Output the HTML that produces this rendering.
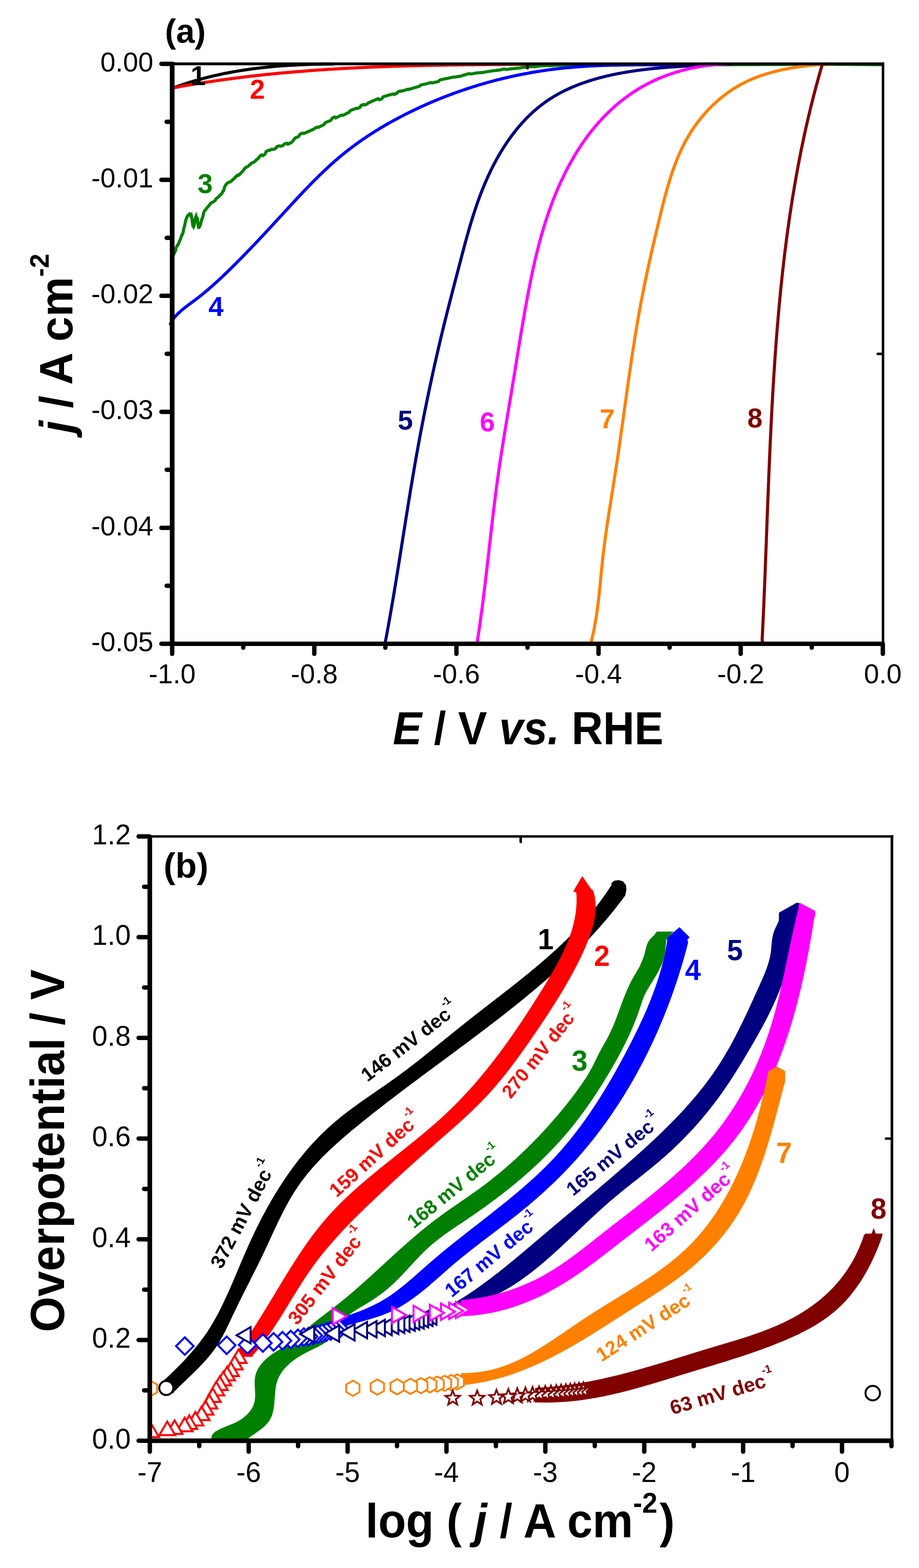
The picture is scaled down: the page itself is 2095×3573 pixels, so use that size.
<!DOCTYPE html>
<html><head><meta charset="utf-8"><title>Figure</title>
<style>html,body{margin:0;padding:0;background:#fff;}svg{display:block;}</style>
</head><body>
<svg width="2095" height="3573" viewBox="0 0 2095 3573">
<rect width="2095" height="3573" fill="#fff"/>
<g font-family="'Liberation Sans', Arial, sans-serif" font-size="62" fill="#000">
<text transform="translate(349.4,162.5) scale(1,1.03)" text-anchor="end">0.00</text>
<text transform="translate(349.4,426.8) scale(1,1.03)" text-anchor="end">-0.01</text>
<text transform="translate(349.4,691.1) scale(1,1.03)" text-anchor="end">-0.02</text>
<text transform="translate(349.4,955.4) scale(1,1.03)" text-anchor="end">-0.03</text>
<text transform="translate(349.4,1219.7) scale(1,1.03)" text-anchor="end">-0.04</text>
<text transform="translate(349.4,1484) scale(1,1.03)" text-anchor="end">-0.05</text>
<text transform="translate(392.5,1557.4) scale(1,1.03)" text-anchor="middle">-1.0</text>
<text transform="translate(716.5,1557.4) scale(1,1.03)" text-anchor="middle">-0.8</text>
<text transform="translate(1040.5,1557.4) scale(1,1.03)" text-anchor="middle">-0.6</text>
<text transform="translate(1364.5,1557.4) scale(1,1.03)" text-anchor="middle">-0.4</text>
<text transform="translate(1688.5,1557.4) scale(1,1.03)" text-anchor="middle">-0.2</text>
<text transform="translate(2012.5,1557.4) scale(1,1.03)" text-anchor="middle">0.0</text>
</g>
<text transform="translate(895.5,1695.9) scale(1,1.06)" font-family="'Liberation Sans', Arial, sans-serif" font-size="99.1" font-weight="bold" fill="#000"><tspan font-style="italic">E</tspan> / V <tspan font-style="italic">vs.</tspan> RHE</text>
<text transform="translate(165.1,986.9) rotate(-90) scale(1,1.03)" font-family="'Liberation Sans', Arial, sans-serif" font-size="102.3" font-weight="bold" fill="#000"><tspan font-style="italic">j</tspan> / A cm<tspan font-size="59.3" dy="-52.5">-2</tspan></text>
<text x="376.1" y="96.5" font-family="'Liberation Sans', Arial, sans-serif" font-size="76" font-weight="bold" fill="#000">(a)</text>
<g fill="none" stroke-width="7" stroke-linejoin="round" stroke-linecap="butt">
<path stroke="#000000" d="M392,205 L393.6,201 L396.4,199.9 L399.2,198.9 L402,197.9 L404.9,196.8 L407.7,195.8 L410.6,194.8 L413.4,193.9 L416.3,192.9 L419.1,191.9 L422,191 L424.9,190 L427.7,189.1 L430.6,188.2 L433.5,187.3 L436.4,186.4 L439.3,185.6 L442.2,184.7 L445.1,183.8 L448,183 L450.9,182.2 L453.8,181.4 L456.7,180.6 L459.6,179.8 L462.5,179 L465.4,178.2 L468.3,177.5 L471.3,176.7 L474.2,176 L477.1,175.2 L480.1,174.5 L483,173.8 L486,173.1 L488.9,172.4 L491.9,171.8 L494.8,171.1 L497.8,170.5 L500.7,169.8 L503.7,169.2 L506.6,168.6 L509.6,167.9 L512.6,167.3 L515.5,166.8 L518.5,166.2 L521.5,165.6 L524.5,165 L527.5,164.5 L530.4,163.9 L533.4,163.4 L536.4,162.9 L539.4,162.4 L542.4,161.9 L545.4,161.4 L548.4,160.9 L551.4,160.4 L554.4,160 L557.4,159.5 L560.4,159 L563.4,158.6 L566.4,158.2 L569.4,157.8 L572.4,157.3 L575.4,156.9 L578.4,156.5 L581.4,156.2 L584.5,155.8 L587.5,155.4 L590.5,155 L593.5,154.7 L596.5,154.3 L599.5,154 L602.6,153.7 L605.6,153.4 L608.6,153 L611.6,152.7 L614.7,152.4 L617.7,152.2 L620.7,151.9 L623.7,151.6 L626.8,151.3 L629.8,151.1 L632.8,150.8 L635.9,150.6 L638.9,150.3 L641.9,150.1 L644.9,149.9 L648,149.7 L651,149.5 L654,149.3 L657.1,149.1 L660.1,148.9 L663.1,148.7 L666.2,148.5 L669.2,148.4 L672.2,148.2 L675.2,148 L678.3,147.9 L681.3,147.7 L684.3,147.6 L687.4,147.5 L690.4,147.4 L693.4,147.2 L696.4,147.1 L699.5,147 L702.5,146.9 L705.5,146.8 L708.5,146.7 L711.6,146.6 L714.6,146.6 L717.6,146.5 L720.6,146.4 L723.6,146.4 L726.7,146.3 L729.7,146.3 L732.7,146.2 L735.7,146.2 L738.7,146.1 L741.7,146.1 L744.7,146.1 L747.7,146.1 L750.7,146.1 L753.8,146 L756.8,146 L760,146 "/>
<path stroke="#FF0000" d="M392,200.9 L394.8,200.2 L397.8,199.6 L400.7,199.1 L403.7,198.5 L406.7,198 L409.7,197.4 L412.7,196.9 L415.6,196.4 L418.6,195.8 L421.6,195.3 L424.6,194.8 L427.5,194.3 L430.5,193.8 L433.5,193.3 L436.5,192.8 L439.5,192.3 L442.4,191.8 L445.4,191.3 L448.4,190.8 L451.4,190.3 L454.4,189.8 L457.4,189.4 L460.3,188.9 L463.3,188.4 L466.3,188 L469.3,187.5 L472.3,187 L475.3,186.6 L478.2,186.1 L481.2,185.7 L484.2,185.2 L487.2,184.8 L490.2,184.4 L493.2,183.9 L496.2,183.5 L499.2,183.1 L502.1,182.6 L505.1,182.2 L508.1,181.8 L511.1,181.4 L514.1,181 L517.1,180.6 L520.1,180.2 L523.1,179.8 L526.1,179.4 L529.1,179 L532,178.6 L535,178.2 L538,177.8 L541,177.4 L544,177 L547,176.7 L550,176.3 L553,175.9 L556,175.6 L559,175.2 L562,174.8 L565,174.5 L568,174.1 L571,173.8 L574,173.4 L577,173.1 L579.9,172.8 L582.9,172.4 L585.9,172.1 L588.9,171.8 L591.9,171.4 L594.9,171.1 L597.9,170.8 L600.9,170.5 L603.9,170.1 L606.9,169.8 L609.9,169.5 L612.9,169.2 L615.9,168.9 L618.9,168.6 L621.9,168.3 L624.9,168 L627.9,167.7 L630.9,167.4 L633.9,167.1 L636.9,166.9 L639.9,166.6 L642.9,166.3 L645.9,166 L648.9,165.7 L651.9,165.5 L654.9,165.2 L657.9,164.9 L661,164.7 L664,164.4 L667,164.1 L670,163.9 L673,163.6 L676,163.4 L679,163.1 L682,162.9 L685,162.7 L688,162.4 L691,162.2 L694,161.9 L697,161.7 L700,161.5 L703,161.2 L706,161 L709,160.8 L712,160.6 L715,160.4 L718.1,160.1 L721.1,159.9 L724.1,159.7 L727.1,159.5 L730.1,159.3 L733.1,159.1 L736.1,158.9 L739.1,158.7 L742.1,158.5 L745.1,158.3 L748.1,158.1 L751.1,157.9 L754.2,157.7 L757.2,157.6 L760.2,157.4 L763.2,157.2 L766.2,157 L769.2,156.8 L772.2,156.7 L775.2,156.5 L778.2,156.3 L781.3,156.1 L784.3,156 L787.3,155.8 L790.3,155.6 L793.3,155.5 L796.3,155.3 L799.3,155.2 L802.3,155 L805.3,154.9 L808.4,154.7 L811.4,154.6 L814.4,154.4 L817.4,154.3 L820.4,154.1 L823.4,154 L826.4,153.9 L829.5,153.7 L832.5,153.6 L835.5,153.4 L838.5,153.3 L841.5,153.2 L844.5,153.1 L847.5,152.9 L850.6,152.8 L853.6,152.7 L856.6,152.6 L859.6,152.4 L862.6,152.3 L865.6,152.2 L868.6,152.1 L871.7,152 L874.7,151.9 L877.7,151.8 L880.7,151.7 L883.7,151.5 L886.7,151.4 L889.7,151.3 L892.8,151.2 L895.8,151.1 L898.8,151 L901.8,150.9 L904.8,150.8 L907.8,150.8 L910.9,150.7 L913.9,150.6 L916.9,150.5 L919.9,150.4 L922.9,150.3 L925.9,150.2 L929,150.1 L932,150.1 L935,150 L938,149.9 L941,149.8 L944,149.7 L947.1,149.7 L950.1,149.6 L953.1,149.5 L956.1,149.4 L959.1,149.4 L962.1,149.3 L965.2,149.2 L968.2,149.2 L971.2,149.1 L974.2,149 L977.2,149 L980.2,148.9 L983.3,148.9 L986.3,148.8 L989.3,148.7 L992.3,148.7 L995.3,148.6 L998.4,148.6 L1001.4,148.5 L1004.4,148.5 L1007.4,148.4 L1010.4,148.4 L1013.4,148.3 L1016.5,148.3 L1019.5,148.2 L1022.5,148.2 L1025.5,148.1 L1028.5,148.1 L1031.5,148 L1034.6,148 L1037.6,147.9 L1040.6,147.9 L1043.6,147.9 L1046.6,147.8 L1049.7,147.8 L1052.7,147.7 L1055.7,147.7 L1058.7,147.7 L1061.7,147.6 L1064.7,147.6 L1067.8,147.6 L1070.8,147.5 L1073.8,147.5 L1076.8,147.5 L1079.8,147.4 L1082.8,147.4 L1085.9,147.4 L1088.9,147.3 L1091.9,147.3 L1094.9,147.3 L1097.9,147.2 L1101,147.2 L1104,147.2 L1107,147.2 L1110,147.1 L1113,147.1 L1116,147.1 L1119.1,147.1 L1122.1,147 L1125.1,147 L1128.1,147 L1131.1,147 L1134.1,147 L1137.2,146.9 L1140.2,146.9 L1143.2,146.9 L1146.2,146.9 L1149.2,146.8 L1152.2,146.8 L1155.3,146.8 L1158.3,146.8 L1161.3,146.8 L1164.3,146.8 L1167.3,146.7 L1170.3,146.7 L1173.3,146.7 L1176.4,146.7 L1179.4,146.7 L1182.4,146.6 L1185.4,146.6 L1188.4,146.6 L1191.4,146.6 L1194.5,146.6 L1197.5,146.6 L1200.5,146.5 L1203.5,146.5 L1206.5,146.5 L1209.5,146.5 L1212.5,146.5 L1215.6,146.5 L1218.6,146.5 L1221.6,146.4 L1224.6,146.4 L1227.6,146.4 L1230.6,146.4 L1233.6,146.4 L1236.6,146.4 L1239.7,146.3 L1242.7,146.3 L1245.7,146.3 L1248.7,146.3 L1251.7,146.3 L1254.7,146.3 L1257.7,146.2 L1260.8,146.2 L1263.8,146.2 L1266.8,146.2 L1269.8,146.2 L1272.8,146.2 L1275.8,146.1 L1278.8,146.1 L1281.8,146.1 L1284.8,146.1 L1287.9,146.1 L1290.9,146.1 L1293.9,146 L1296.9,146 L1300,146 "/>
<path stroke="#008000" stroke-linejoin="miter" d="M393.4,592.8 L393.7,588.9 L394.4,585.9 L395.1,582.1 L396,579.2 L397,576.4 L398,576.2 L399.1,573.4 L400.2,570.7 L401.4,564.9 L402.6,562.2 L403.9,559.5 L405.1,559.2 L406.4,556.5 L407.7,553.8 L408.9,550.2 L410.2,547.5 L411.4,544.8 L412.6,540.5 L413.7,537.7 L414.8,534.9 L415.8,534.5 L416.7,531.6 L417.6,528.7 L418.4,523.4 L419.1,520.4 L419.7,517.4 L420.4,516.5 L421,513.5 L421.7,510.5 L422.5,505.6 L423.3,502.6 L424.3,499.6 L425.4,496.7 L426.6,493.9 L428,491.1 L429.5,490.5 L430.9,488.7 L432.2,487.6 L433.5,489.6 L434.5,490.5 L435.4,492.2 L436.1,491.1 L436.8,494.2 L437.4,497.7 L437.9,502 L438.4,505.6 L438.9,508.8 L439.4,513.5 L439.9,515.1 L440.5,515.7 L441.2,516.8 L441.8,515.4 L442.6,513.2 L443.3,508.3 L444,504.9 L444.7,501.5 L445.4,497.4 L446.1,494.8 L446.8,493.1 L447.4,495.5 L448,496 L448.7,497.4 L449.2,494.8 L449.8,497.8 L450.4,501.4 L451,509.3 L451.6,512.8 L452.2,516 L452.8,515.5 L453.4,517 L454,517.7 L454.7,516.9 L455.3,516.2 L455.9,514.8 L456.6,512.8 L457.2,510.4 L457.9,507.6 L458.6,505.6 L459.3,502.3 L460.2,498.9 L461,498.1 L462,494.7 L463.1,491.4 L464.2,485 L465.5,482.1 L466.8,479.3 L468.2,478.8 L469.8,476.3 L471.4,474 L473.2,472.1 L475,470 L476.9,468 L479,464.7 L481.1,462.9 L483.3,461.2 L485.7,460.4 L488,458.7 L490.4,457 L492.8,452.7 L495.2,450.9 L497.5,449.1 L499.6,447.1 L501.7,445.1 L503.6,442.9 L505.4,441.3 L506.9,438.7 L508.1,435.9 L509.2,435.4 L510.2,432.4 L511.2,429.5 L512.3,425.4 L513.7,422.9 L515.3,420.7 L517.2,418.3 L519.4,416.6 L521.6,415.1 L523.9,415 L526.2,413.4 L528.4,411.7 L530.6,409.3 L532.8,407.5 L535,405.7 L537.1,403 L539.3,401.1 L541.4,399.1 L543.6,399.7 L545.8,397.7 L547.9,395.7 L550.1,393.2 L552.3,391.2 L554.5,389.2 L556.7,384.9 L559,382.9 L561.2,380.9 L563.5,380.6 L565.7,378.7 L568,376.7 L570.3,374.5 L572.6,372.6 L575,370.7 L577.3,370.6 L579.7,368.7 L582,366.8 L584.4,364.2 L586.8,362.4 L589.2,360.6 L591.7,356.5 L594.1,354.7 L596.6,353 L599.1,354.8 L601.6,353.2 L604.1,351.5 L606.6,345.5 L609.2,343.9 L611.8,342.5 L614.5,342.6 L617.1,341.3 L619.9,340 L622.6,340.6 L625.4,339.5 L628.2,338.4 L631,334.3 L633.9,333.3 L636.7,332.4 L639.6,333.3 L642.4,332.4 L645.3,331.5 L648.1,328.3 L650.8,327.4 L653.6,326.5 L656.2,328.7 L658.8,327.5 L661.3,326.1 L663.6,325 L665.8,323.1 L667.9,321 L669.9,317.8 L672,315.7 L674.2,313.6 L676.4,313.3 L678.8,311.6 L681.4,310.1 L684,305.7 L686.7,304.5 L689.4,303.3 L692.2,304.2 L695.1,303.1 L697.9,302.1 L700.8,300.5 L703.6,299.4 L706.4,298.2 L709.2,296.9 L711.9,295.7 L714.7,294.4 L717.4,292.5 L720.1,291.1 L722.8,289.7 L725.5,290.3 L728.1,288.9 L730.8,287.5 L733.4,286.6 L736.1,285.2 L738.7,283.7 L741.3,279.8 L744,278.4 L746.6,277 L749.3,276.5 L751.9,275.1 L754.6,273.8 L757.3,269.3 L759.9,267.9 L762.6,266.6 L765.3,268.7 L768.1,267.4 L770.8,266.2 L773.5,264.6 L776.2,263.4 L779,262.2 L781.7,262.8 L784.5,261.6 L787.2,260.4 L790,258.4 L792.7,257.2 L795.5,256.1 L798.3,252.1 L801,251 L803.8,249.8 L806.6,249.2 L809.3,248.1 L812.1,246.9 L814.9,247.2 L817.6,246.1 L820.4,244.9 L823.2,240.4 L825.9,239.3 L828.7,238.1 L831.5,239.3 L834.2,238.1 L837,237 L839.8,234.3 L842.5,233.2 L845.3,232 L848.1,230.6 L850.9,229.5 L853.7,228.4 L856.5,227 L859.2,225.9 L862,224.8 L864.8,227.4 L867.6,226.3 L870.4,225.2 L873.2,220.9 L876.1,219.8 L878.9,218.8 L881.7,218.3 L884.5,217.3 L887.3,216.3 L890.2,216 L893,215 L895.8,214 L898.7,215.5 L901.5,213.8 L904.3,212.8 L907.2,209.3 L910,208.4 L912.9,207.4 L915.7,207.7 L918.6,206.8 L921.5,205.8 L924.3,205.2 L927.2,204.3 L930.1,203.4 L932.9,203.6 L935.8,202.7 L938.7,201.9 L941.6,200.8 L944.5,199.9 L947.4,199.1 L950.2,198.4 L953.1,197.5 L956,196.7 L958.9,194 L961.8,193.2 L964.7,192.4 L967.6,192.1 L970.5,191.3 L973.4,190.5 L976.4,189.5 L979.3,188.8 L982.2,188 L985.1,189 L988,188.2 L990.9,187.5 L993.9,187 L996.8,186.3 L999.7,185.6 L1002.6,182.3 L1005.6,181.6 L1008.5,180.9 L1011.4,180.3 L1014.4,179.7 L1017.3,179 L1020.2,178.5 L1023.2,177.9 L1026.1,177.2 L1029.1,176.6 L1032,176 L1035,175.4 L1037.9,175.6 L1040.9,175 L1043.8,174.4 L1046.8,174.1 L1049.7,173.5 L1052.7,173 L1055.6,171.4 L1058.6,170.8 L1061.6,170.3 L1064.5,168.9 L1067.5,168.3 L1070.4,167.8 L1073.4,168.6 L1076.4,168.1 L1079.3,167.6 L1082.3,167 L1085.3,166.5 L1088.2,166 L1091.2,166.1 L1094.2,165.7 L1097.1,165.2 L1100.1,165.3 L1103.1,164.8 L1106,164.4 L1109,163.5 L1112,163.1 L1115,162.7 L1117.9,162 L1120.9,161.6 L1123.9,161.2 L1126.9,161 L1129.8,160.6 L1132.8,160.2 L1135.8,159.9 L1138.8,159.6 L1141.8,159.2 L1144.7,157.8 L1147.7,157.5 L1150.7,157.2 L1153.7,158.2 L1156.7,157.9 L1159.6,157.5 L1162.6,157 L1165.6,156.7 L1168.6,156.4 L1171.6,156.3 L1174.6,156 L1177.5,155.7 L1180.5,155.3 L1183.5,155 L1186.5,154.7 L1189.5,153.8 L1192.5,153.6 L1195.5,153.3 L1198.5,153.1 L1201.5,152.9 L1204.4,152.6 L1207.4,151.9 L1210.4,151.7 L1213.4,151.5 L1216.4,152.1 L1219.4,151.9 L1222.4,151.7 L1225.4,150.6 L1228.4,150.4 L1231.4,150.2 L1234.4,150 L1237.4,149.8 L1240.4,149.7 L1243.4,149.7 L1246.4,149.5 L1249.4,149.4 L1252.4,149.7 L1255.4,149.5 L1258.4,149.4 L1261.3,149.2 L1264.3,149.1 L1267.3,149 L1270.3,148.8 L1273.3,148.7 L1276.3,148.6 L1279.3,148.5 L1282.4,148.3 L1285.4,148.2 L1288.4,148.1 L1291.4,148 L1294.4,147.9 L1297.4,147.8 L1300.4,147.7 L1303.4,147.6 L1306.4,147.6 L1309.4,147.5 L1312.4,147.4 L1315.4,147.3 L1318.4,147.2 L1321.4,147.2 L1324.4,147.1 L1327.4,147 L1330.4,147 L1333.4,146.9 L1336.4,146.9 L1339.4,146.8 L1342.4,146.8 L1345.4,146.7 L1348.5,146.7 L1351.5,146.6 L1354.5,146.6 L1357.5,146.6 L1360.5,146.5 L1363.5,146.5 L1366.5,146.5 L1369.5,146.5 L1372.5,146.5 L1375.5,146.5 L1378.5,146.5 L1381.5,146.5 L1384.6,146.5 L1387.6,146.5 L1390.6,146.5 L1393.6,146.5 L1396.6,146.5 L1399.6,146.5 L1402.6,146.5 L1405.6,146.5 L1408.6,146.5 L1411.6,146.5 L1414.7,146.5 L1417.7,146.5 L1420.7,146.5 L1423.7,146.5 L1426.7,146.5 L1429.7,146.5 L1432.7,146.5 L1435.7,146.5 L1438.7,146.5 L1441.8,146.5 L1444.8,146.5 L1447.8,146.5 L1450.8,146.5 L1453.8,146.5 L1456.8,146.5 L1459.8,146.5 L1462.8,146.6 L1465.8,146.6 L1468.9,146.6 L1471.9,146.6 L1474.9,146.7 L1477.9,146.7 L1480.9,146.7 L1483.9,146.7 L1486.9,146.8 L1489.9,146.8 L1492.9,146.8 L1496,146.8 L1499,146.9 L1502,146.9 L1505,146.9 L1508,146.9 L1511,147 L1514,147 L1517,147 L1520,147.1 L1523.1,147.1 L1526.1,147.1 L1529.1,147.1 L1532.1,147.1 L1535.1,147.2 L1538.1,147.2 L1541.1,147.2 L1544.1,147.2 L1547.1,147.3 L1550.1,147.3 L1553.1,147.3 L1556.2,147.3 L1559.2,147.3 L1562.2,147.3 L1565.2,147.4 L1568.2,147.4 L1571.2,147.4 L1574.2,147.4 L1577.2,147.4 L1580.2,147.4 L1583.2,147.4 L1586.2,147.4 L1589.2,147.4 L1592.2,147.5 L1595.2,147.5 L1598.3,147.5 L1601.3,147.5 L1604.3,147.5 L1607.3,147.5 L1610.3,147.5 L1613.3,147.5 L1616.3,147.5 L1619.3,147.5 L1622.3,147.5 L1625.3,147.5 L1628.3,147.5 L1631.3,147.5 L1634.3,147.5 L1637.3,147.5 L1640.3,147.5 L1643.3,147.5 L1646.3,147.5 L1649.3,147.4 L1652.3,147.4 L1655.3,147.4 L1658.3,147.4 L1661.4,147.4 L1664.4,147.4 L1667.4,147.4 L1670.4,147.4 L1673.4,147.4 L1676.4,147.4 L1679.4,147.4 L1682.4,147.3 L1685.4,147.3 L1688.4,147.3 L1691.4,147.3 L1694.4,147.3 L1697.4,147.3 L1700.4,147.3 L1703.4,147.3 L1706.4,147.3 L1709.4,147.2 L1712.4,147.2 L1715.4,147.2 L1718.4,147.2 L1721.4,147.2 L1724.4,147.2 L1727.4,147.2 L1730.4,147.1 L1733.4,147.1 L1736.4,147.1 L1739.4,147.1 L1742.4,147.1 L1745.4,147.1 L1748.4,147.1 L1751.4,147 L1754.5,147 L1757.5,147 L1760.5,147 L1763.5,147 L1766.5,147 L1769.5,147 L1772.5,146.9 L1775.5,146.9 L1778.5,146.9 L1781.5,146.9 L1784.5,146.9 L1787.5,146.9 L1790.5,146.9 L1793.5,146.8 L1796.5,146.8 L1799.5,146.8 L1802.5,146.8 L1805.5,146.8 L1808.5,146.8 L1811.5,146.8 L1814.5,146.8 L1817.5,146.8 L1820.5,146.7 L1823.5,146.7 L1826.5,146.7 L1829.5,146.7 L1832.6,146.7 L1835.6,146.7 L1838.6,146.7 L1841.6,146.7 L1844.6,146.7 L1847.6,146.7 L1850.6,146.7 L1853.6,146.7 L1856.6,146.7 L1859.6,146.7 L1862.6,146.7 L1865.6,146.7 L1868.6,146.7 L1871.6,146.7 L1874.6,146.7 L1877.6,146.7 L1880.6,146.7 L1883.7,146.7 L1886.7,146.7 L1889.7,146.7 L1892.7,146.7 L1895.7,146.7 L1898.7,146.7 L1901.7,146.7 L1904.7,146.7 L1907.7,146.7 L1910.7,146.7 L1913.7,146.7 L1916.7,146.7 L1919.8,146.8 L1922.8,146.8 L1925.8,146.8 L1928.8,146.8 L1931.8,146.8 L1934.8,146.8 L1937.8,146.8 L1940.8,146.9 L1943.8,146.9 L1946.8,146.9 L1949.9,146.9 L1952.9,146.9 L1955.9,147 L1958.9,147 L1961.9,147 L1964.9,147.1 L1967.9,147.1 L1970.9,147.1 L1974,147.1 L1977,147.2 L1980,147.2 L1983,147.2 L1986,147.3 L1989,147.3 L1992.1,147.4 L1995.1,147.4 L1998.1,147.4 L2001.1,147.5 L2004.1,147.5 L2007.1,147.6 L2010,147 "/>
<path stroke="#0000FF" d="M393.4,745 L388.5,738 L389.5,735.8 L390.6,733.7 L391.8,731.6 L393.1,729.6 L394.5,727.5 L396,725.6 L397.5,723.6 L399.1,721.7 L400.8,719.8 L402.5,717.9 L404.3,716.1 L406.1,714.2 L408,712.4 L410,710.6 L412,708.9 L414,707.1 L416.1,705.4 L418.3,703.6 L420.4,701.9 L422.6,700.2 L424.8,698.4 L427.1,696.7 L429.4,695 L431.7,693.3 L434,691.6 L436.3,689.9 L438.6,688.1 L441,686.4 L443.3,684.6 L445.7,682.9 L448,681.1 L450.4,679.3 L452.7,677.5 L455,675.7 L457.3,673.8 L459.7,672 L462,670.1 L464.3,668.2 L466.6,666.3 L468.9,664.4 L471.2,662.5 L473.5,660.5 L475.7,658.6 L478,656.6 L480.3,654.6 L482.6,652.7 L484.8,650.7 L487.1,648.6 L489.3,646.6 L491.6,644.6 L493.8,642.6 L496,640.5 L498.2,638.5 L500.5,636.4 L502.7,634.3 L504.9,632.3 L507.1,630.2 L509.3,628.1 L511.5,626 L513.7,623.9 L515.9,621.8 L518.1,619.7 L520.2,617.6 L522.4,615.5 L524.6,613.4 L526.7,611.3 L528.9,609.1 L531,607 L533.2,604.9 L535.3,602.8 L537.5,600.6 L539.6,598.5 L541.7,596.4 L543.9,594.2 L546,592.1 L548.1,589.9 L550.2,587.8 L552.3,585.6 L554.4,583.5 L556.5,581.3 L558.6,579.2 L560.7,577 L562.8,574.9 L564.9,572.7 L567,570.5 L569.1,568.4 L571.2,566.2 L573.3,564 L575.3,561.9 L577.4,559.7 L579.5,557.5 L581.5,555.3 L583.6,553.2 L585.7,551 L587.7,548.8 L589.8,546.6 L591.9,544.4 L593.9,542.2 L596,540 L598,537.9 L600.1,535.7 L602.1,533.5 L604.2,531.3 L606.2,529.1 L608.2,526.9 L610.3,524.7 L612.3,522.5 L614.4,520.3 L616.4,518.1 L618.5,515.9 L620.5,513.7 L622.5,511.5 L624.6,509.3 L626.6,507 L628.6,504.8 L630.7,502.6 L632.7,500.4 L634.7,498.2 L636.8,496 L638.8,493.8 L640.8,491.6 L642.9,489.4 L644.9,487.1 L647,484.9 L649,482.7 L651,480.5 L653.1,478.3 L655.1,476.1 L657.1,473.9 L659.2,471.6 L661.2,469.4 L663.3,467.2 L665.3,465 L667.4,462.8 L669.4,460.6 L671.5,458.4 L673.5,456.2 L675.6,454 L677.6,451.7 L679.7,449.5 L681.8,447.3 L683.8,445.1 L685.9,443 L688,440.8 L690,438.6 L692.1,436.4 L694.2,434.2 L696.3,432 L698.4,429.9 L700.5,427.7 L702.5,425.5 L704.6,423.4 L706.7,421.2 L708.9,419 L711,416.9 L713.1,414.7 L715.2,412.6 L717.3,410.5 L719.5,408.3 L721.6,406.2 L723.7,404.1 L725.9,402 L728,399.9 L730.2,397.8 L732.4,395.7 L734.5,393.6 L736.7,391.5 L738.9,389.5 L741.1,387.4 L743.3,385.3 L745.5,383.3 L747.7,381.3 L749.9,379.2 L752.1,377.2 L754.3,375.2 L756.6,373.2 L758.8,371.2 L761,369.2 L763.3,367.2 L765.6,365.2 L767.8,363.3 L770.1,361.3 L772.4,359.4 L774.7,357.4 L777,355.5 L779.3,353.6 L781.6,351.7 L784,349.8 L786.3,347.9 L788.7,346.1 L791,344.2 L793.4,342.3 L795.8,340.5 L798.1,338.7 L800.5,336.9 L802.9,335 L805.3,333.3 L807.7,331.5 L810.2,329.7 L812.6,327.9 L815,326.2 L817.5,324.4 L819.9,322.7 L822.4,321 L824.9,319.2 L827.3,317.5 L829.8,315.8 L832.3,314.1 L834.8,312.5 L837.3,310.8 L839.8,309.1 L842.3,307.5 L844.8,305.9 L847.4,304.2 L849.9,302.6 L852.5,301 L855,299.4 L857.6,297.8 L860.1,296.2 L862.7,294.7 L865.3,293.1 L867.8,291.6 L870.4,290 L873,288.5 L875.6,287 L878.2,285.4 L880.8,283.9 L883.4,282.4 L886.1,280.9 L888.7,279.5 L891.3,278 L894,276.5 L896.6,275.1 L899.2,273.6 L901.9,272.2 L904.5,270.8 L907.2,269.3 L909.9,267.9 L912.5,266.5 L915.2,265.1 L917.9,263.8 L920.6,262.4 L923.3,261 L925.9,259.7 L928.6,258.3 L931.3,257 L934,255.6 L936.7,254.3 L939.5,253 L942.2,251.7 L944.9,250.4 L947.6,249.1 L950.3,247.8 L953.1,246.5 L955.8,245.2 L958.5,244 L961.3,242.7 L964,241.5 L966.8,240.3 L969.5,239 L972.3,237.8 L975,236.6 L977.8,235.4 L980.5,234.2 L983.3,233 L986.1,231.8 L988.9,230.7 L991.6,229.5 L994.4,228.3 L997.2,227.2 L1000,226.1 L1002.8,224.9 L1005.6,223.8 L1008.4,222.7 L1011.2,221.6 L1014,220.5 L1016.8,219.4 L1019.6,218.3 L1022.4,217.3 L1025.2,216.2 L1028,215.1 L1030.8,214.1 L1033.7,213.1 L1036.5,212 L1039.3,211 L1042.2,210 L1045,209 L1047.8,208 L1050.7,207 L1053.5,206 L1056.4,205 L1059.2,204.1 L1062.1,203.1 L1064.9,202.2 L1067.8,201.2 L1070.6,200.3 L1073.5,199.4 L1076.4,198.5 L1079.2,197.6 L1082.1,196.7 L1085,195.8 L1087.8,194.9 L1090.7,194 L1093.6,193.2 L1096.5,192.3 L1099.4,191.5 L1102.3,190.6 L1105.2,189.8 L1108,189 L1110.9,188.2 L1113.8,187.4 L1116.7,186.6 L1119.6,185.8 L1122.5,185 L1125.4,184.2 L1128.4,183.5 L1131.3,182.7 L1134.2,182 L1137.1,181.2 L1140,180.5 L1142.9,179.8 L1145.9,179 L1148.8,178.3 L1151.7,177.6 L1154.6,177 L1157.6,176.3 L1160.5,175.6 L1163.4,174.9 L1166.4,174.3 L1169.3,173.6 L1172.2,173 L1175.2,172.4 L1178.1,171.8 L1181.1,171.2 L1184,170.5 L1186.9,170 L1189.9,169.4 L1192.8,168.8 L1195.8,168.2 L1198.7,167.7 L1201.7,167.1 L1204.7,166.6 L1207.6,166 L1210.6,165.5 L1213.5,165 L1216.5,164.5 L1219.5,164 L1222.4,163.5 L1225.4,163 L1228.4,162.5 L1231.3,162.1 L1234.3,161.6 L1237.3,161.1 L1240.3,160.7 L1243.2,160.3 L1246.2,159.8 L1249.2,159.4 L1252.2,159 L1255.1,158.6 L1258.1,158.2 L1261.1,157.8 L1264.1,157.5 L1267.1,157.1 L1270.1,156.8 L1273,156.4 L1276,156.1 L1279,155.7 L1282,155.4 L1285,155.1 L1288,154.8 L1291,154.5 L1294,154.2 L1297,153.9 L1300,153.7 L1303,153.4 L1306,153.1 L1309,152.9 L1312,152.7 L1314.9,152.4 L1317.9,152.2 L1320.9,152 L1323.9,151.8 L1326.9,151.6 L1330,151.4 L1333,151.2 L1336,151 L1339,150.8 L1342,150.7 L1345,150.5 L1348,150.3 L1351,150.2 L1354,150 L1357,149.9 L1360,149.8 L1363,149.6 L1366,149.5 L1369,149.4 L1372,149.3 L1375.1,149.2 L1378.1,149.1 L1381.1,149 L1384.1,148.9 L1387.1,148.8 L1390.1,148.7 L1393.1,148.6 L1396.1,148.6 L1399.1,148.5 L1402.2,148.4 L1405.2,148.4 L1408.2,148.3 L1411.2,148.3 L1414.2,148.2 L1417.2,148.2 L1420.2,148.1 L1423.3,148.1 L1426.3,148 L1429.3,148 L1432.3,148 L1435.3,147.9 L1438.3,147.9 L1441.4,147.9 L1444.4,147.9 L1447.4,147.8 L1450.4,147.8 L1453.4,147.8 L1456.4,147.8 L1459.4,147.8 L1462.5,147.8 L1465.5,147.7 L1468.5,147.7 L1471.5,147.7 L1474.5,147.7 L1477.5,147.7 L1480.6,147.7 L1483.6,147.7 L1486.6,147.7 L1489.6,147.7 L1492.6,147.7 L1495.6,147.7 L1498.6,147.7 L1501.7,147.7 L1504.7,147.7 L1507.7,147.7 L1510.7,147.7 L1513.7,147.6 L1516.7,147.6 L1519.7,147.6 L1522.7,147.6 L1525.8,147.6 L1528.8,147.6 L1531.8,147.6 L1534.8,147.6 L1537.8,147.6 L1540.8,147.5 L1543.8,147.5 L1546.8,147.5 L1549.8,147.5 L1552.8,147.4 L1555.9,147.4 L1558.9,147.4 L1561.9,147.3 L1564.9,147.3 L1567.9,147.3 L1570.9,147.2 L1573.9,147.2 L1576.9,147.1 L1579.9,147.1 L1582.9,147 L1585.9,147 L1588.9,146.9 L1591.9,146.8 L1594.9,146.8 L1597.9,146.7 L1600.9,146.6 L1603.9,146.5 L1606.9,146.4 L1609.9,146.3 L1612.9,146.2 L1615.9,146.1 L1618.8,146 L1621.8,146 L1624.8,146 L1627.8,146 L1630.8,146 L1633.8,146 L1636.8,146 L1640,146.3 "/>
<path stroke="#000080" d="M879.2,1463.1 L878.9,1460 L879.5,1457.1 L880,1454.1 L880.6,1451.2 L881.2,1448.2 L881.7,1445.2 L882.3,1442.3 L882.8,1439.3 L883.3,1436.4 L883.9,1433.4 L884.4,1430.4 L885,1427.5 L885.5,1424.5 L886,1421.6 L886.6,1418.6 L887.1,1415.6 L887.6,1412.7 L888.2,1409.7 L888.7,1406.7 L889.2,1403.8 L889.7,1400.8 L890.2,1397.9 L890.8,1394.9 L891.3,1391.9 L891.8,1389 L892.3,1386 L892.8,1383 L893.3,1380.1 L893.8,1377.1 L894.3,1374.1 L894.9,1371.2 L895.4,1368.2 L895.9,1365.2 L896.4,1362.3 L896.9,1359.3 L897.4,1356.3 L897.9,1353.4 L898.4,1350.4 L898.9,1347.4 L899.3,1344.5 L899.8,1341.5 L900.3,1338.5 L900.8,1335.6 L901.3,1332.6 L901.8,1329.6 L902.3,1326.7 L902.8,1323.7 L903.3,1320.7 L903.7,1317.8 L904.2,1314.8 L904.7,1311.8 L905.2,1308.9 L905.7,1305.9 L906.2,1302.9 L906.6,1300 L907.1,1297 L907.6,1294 L908.1,1291 L908.5,1288.1 L909,1285.1 L909.5,1282.1 L910,1279.2 L910.4,1276.2 L910.9,1273.2 L911.4,1270.3 L911.9,1267.3 L912.3,1264.3 L912.8,1261.3 L913.3,1258.4 L913.8,1255.4 L914.2,1252.4 L914.7,1249.5 L915.2,1246.5 L915.6,1243.5 L916.1,1240.6 L916.6,1237.6 L917.1,1234.6 L917.5,1231.6 L918,1228.7 L918.5,1225.7 L918.9,1222.7 L919.4,1219.8 L919.9,1216.8 L920.3,1213.8 L920.8,1210.9 L921.3,1207.9 L921.8,1204.9 L922.2,1201.9 L922.7,1199 L923.2,1196 L923.6,1193 L924.1,1190.1 L924.6,1187.1 L925.1,1184.1 L925.5,1181.2 L926,1178.2 L926.5,1175.2 L927,1172.2 L927.4,1169.3 L927.9,1166.3 L928.4,1163.3 L928.9,1160.4 L929.3,1157.4 L929.8,1154.4 L930.3,1151.5 L930.8,1148.5 L931.3,1145.5 L931.7,1142.6 L932.2,1139.6 L932.7,1136.6 L933.2,1133.7 L933.7,1130.7 L934.2,1127.7 L934.6,1124.7 L935.1,1121.8 L935.6,1118.8 L936.1,1115.8 L936.6,1112.9 L937.1,1109.9 L937.6,1106.9 L938.1,1104 L938.6,1101 L939.1,1098 L939.6,1095.1 L940.1,1092.1 L940.6,1089.1 L941.1,1086.2 L941.6,1083.2 L942.1,1080.2 L942.6,1077.3 L943.1,1074.3 L943.6,1071.4 L944.1,1068.4 L944.6,1065.4 L945.1,1062.5 L945.6,1059.5 L946.1,1056.5 L946.7,1053.6 L947.2,1050.6 L947.7,1047.6 L948.2,1044.7 L948.7,1041.7 L949.3,1038.8 L949.8,1035.8 L950.3,1032.8 L950.9,1029.9 L951.4,1026.9 L951.9,1024 L952.5,1021 L953,1018 L953.5,1015.1 L954.1,1012.1 L954.6,1009.2 L955.2,1006.2 L955.7,1003.2 L956.3,1000.3 L956.8,997.3 L957.4,994.4 L957.9,991.4 L958.5,988.5 L959,985.5 L959.6,982.5 L960.2,979.6 L960.7,976.6 L961.3,973.7 L961.9,970.7 L962.4,967.8 L963,964.8 L963.6,961.9 L964.2,958.9 L964.7,956 L965.3,953 L965.9,950 L966.5,947.1 L967.1,944.1 L967.6,941.2 L968.2,938.2 L968.8,935.3 L969.4,932.3 L970,929.4 L970.6,926.4 L971.2,923.5 L971.8,920.6 L972.4,917.6 L973,914.7 L973.6,911.7 L974.2,908.8 L974.8,905.8 L975.4,902.9 L976.1,899.9 L976.7,897 L977.3,894 L977.9,891.1 L978.5,888.2 L979.1,885.2 L979.8,882.3 L980.4,879.3 L981,876.4 L981.6,873.5 L982.3,870.5 L982.9,867.6 L983.5,864.6 L984.2,861.7 L984.8,858.8 L985.5,855.8 L986.1,852.9 L986.7,850 L987.4,847 L988,844.1 L988.7,841.2 L989.3,838.2 L990,835.3 L990.6,832.4 L991.3,829.4 L992,826.5 L992.6,823.6 L993.3,820.7 L993.9,817.7 L994.6,814.8 L995.3,811.9 L995.9,808.9 L996.6,806 L997.3,803.1 L998,800.2 L998.6,797.3 L999.3,794.3 L1000,791.4 L1000.7,788.5 L1001.4,785.6 L1002.1,782.6 L1002.7,779.7 L1003.4,776.8 L1004.1,773.9 L1004.8,771 L1005.5,768.1 L1006.2,765.1 L1006.9,762.2 L1007.6,759.3 L1008.3,756.4 L1009,753.5 L1009.7,750.6 L1010.4,747.7 L1011.1,744.7 L1011.9,741.8 L1012.6,738.9 L1013.3,736 L1014,733.1 L1014.7,730.2 L1015.4,727.3 L1016.2,724.4 L1016.9,721.5 L1017.6,718.6 L1018.3,715.7 L1019.1,712.7 L1019.8,709.8 L1020.5,706.9 L1021.3,704 L1022,701.1 L1022.8,698.2 L1023.5,695.3 L1024.2,692.4 L1025,689.5 L1025.7,686.6 L1026.5,683.7 L1027.2,680.8 L1028,677.9 L1028.7,675 L1029.5,672.1 L1030.2,669.2 L1031,666.3 L1031.7,663.4 L1032.5,660.5 L1033.2,657.6 L1034,654.7 L1034.8,651.8 L1035.5,648.9 L1036.3,646 L1037,643.1 L1037.8,640.2 L1038.5,637.3 L1039.3,634.4 L1040.1,631.5 L1040.8,628.6 L1041.6,625.7 L1042.3,622.8 L1043.1,619.9 L1043.9,617 L1044.6,614 L1045.4,611.1 L1046.1,608.2 L1046.9,605.3 L1047.6,602.4 L1048.4,599.5 L1049.2,596.6 L1049.9,593.7 L1050.7,590.8 L1051.4,587.9 L1052.2,584.9 L1053,582 L1053.7,579.1 L1054.5,576.2 L1055.3,573.3 L1056,570.4 L1056.8,567.5 L1057.6,564.6 L1058.4,561.7 L1059.1,558.7 L1059.9,555.8 L1060.7,552.9 L1061.5,550 L1062.3,547.1 L1063.1,544.2 L1063.9,541.3 L1064.7,538.4 L1065.5,535.5 L1066.4,532.6 L1067.2,529.7 L1068,526.8 L1068.8,523.9 L1069.7,521 L1070.5,518.1 L1071.4,515.2 L1072.2,512.4 L1073.1,509.5 L1074,506.6 L1074.8,503.7 L1075.7,500.8 L1076.6,497.9 L1077.5,495.1 L1078.4,492.2 L1079.3,489.3 L1080.2,486.5 L1081.2,483.6 L1082.1,480.7 L1083.1,477.9 L1084,475 L1085,472.2 L1085.9,469.3 L1086.9,466.5 L1087.9,463.6 L1088.9,460.8 L1089.9,457.9 L1091,455.1 L1092,452.3 L1093,449.4 L1094.1,446.6 L1095.1,443.8 L1096.2,441 L1097.3,438.2 L1098.4,435.4 L1099.5,432.5 L1100.6,429.7 L1101.8,427 L1102.9,424.2 L1104.1,421.4 L1105.2,418.6 L1106.4,415.8 L1107.6,413 L1108.8,410.3 L1110.1,407.5 L1111.3,404.7 L1112.5,402 L1113.8,399.2 L1115.1,396.5 L1116.4,393.8 L1117.7,391 L1119,388.3 L1120.3,385.6 L1121.7,382.9 L1123.1,380.2 L1124.4,377.5 L1125.8,374.8 L1127.2,372.1 L1128.7,369.4 L1130.1,366.7 L1131.5,364.1 L1133,361.4 L1134.5,358.8 L1136,356.1 L1137.5,353.5 L1139,350.9 L1140.6,348.3 L1142.1,345.7 L1143.7,343.1 L1145.3,340.6 L1146.9,338 L1148.5,335.4 L1150.1,332.9 L1151.8,330.4 L1153.4,327.9 L1155.1,325.4 L1156.8,322.9 L1158.5,320.4 L1160.2,317.9 L1162,315.5 L1163.7,313.1 L1165.5,310.6 L1167.3,308.2 L1169.1,305.8 L1170.9,303.5 L1172.7,301.1 L1174.6,298.7 L1176.4,296.4 L1178.3,294.1 L1180.2,291.8 L1182.1,289.5 L1184,287.2 L1186,285 L1188,282.8 L1189.9,280.5 L1191.9,278.3 L1193.9,276.2 L1196,274 L1198,271.9 L1200.1,269.7 L1202.1,267.6 L1204.2,265.5 L1206.3,263.5 L1208.5,261.4 L1210.6,259.4 L1212.8,257.4 L1214.9,255.4 L1217.1,253.4 L1219.3,251.5 L1221.6,249.6 L1223.8,247.7 L1226.1,245.8 L1228.3,243.9 L1230.6,242.1 L1232.9,240.3 L1235.3,238.5 L1237.6,236.7 L1240,235 L1242.4,233.2 L1244.8,231.5 L1247.2,229.9 L1249.6,228.2 L1252,226.6 L1254.5,225 L1257,223.4 L1259.5,221.9 L1262,220.3 L1264.5,218.8 L1267.1,217.3 L1269.6,215.9 L1272.2,214.4 L1274.8,213 L1277.4,211.6 L1280,210.2 L1282.7,208.9 L1285.3,207.5 L1288,206.2 L1290.7,204.9 L1293.4,203.7 L1296.1,202.4 L1298.8,201.2 L1301.5,200 L1304.2,198.8 L1307,197.6 L1309.7,196.5 L1312.5,195.4 L1315.3,194.3 L1318.1,193.2 L1320.9,192.1 L1323.7,191 L1326.5,190 L1329.4,189 L1332.2,188 L1335.1,187 L1337.9,186.1 L1340.8,185.1 L1343.7,184.2 L1346.6,183.3 L1349.5,182.4 L1352.4,181.5 L1355.3,180.7 L1358.2,179.8 L1361.1,179 L1364.1,178.2 L1367,177.4 L1370,176.6 L1372.9,175.8 L1375.9,175.1 L1378.8,174.4 L1381.8,173.6 L1384.8,172.9 L1387.7,172.3 L1390.7,171.6 L1393.7,170.9 L1396.7,170.3 L1399.7,169.6 L1402.7,169 L1405.7,168.4 L1408.7,167.8 L1411.7,167.2 L1414.7,166.7 L1417.7,166.1 L1420.8,165.6 L1423.8,165.1 L1426.8,164.5 L1429.8,164 L1432.8,163.5 L1435.8,163.1 L1438.9,162.6 L1441.9,162.1 L1444.9,161.7 L1447.9,161.2 L1451,160.8 L1454,160.4 L1457,160 L1460,159.6 L1463,159.2 L1466.1,158.8 L1469.1,158.5 L1472.1,158.1 L1475.1,157.7 L1478.1,157.4 L1481.1,157.1 L1484.1,156.8 L1487.2,156.4 L1490.2,156.1 L1493.2,155.8 L1496.2,155.5 L1499.2,155.3 L1502.2,155 L1505.2,154.7 L1508.2,154.4 L1511.2,154.2 L1514.2,153.9 L1517.2,153.7 L1520.2,153.5 L1523.2,153.2 L1526.2,153 L1529.2,152.8 L1532.2,152.6 L1535.2,152.4 L1538.2,152.2 L1541.2,152 L1544.2,151.8 L1547.2,151.6 L1550.2,151.4 L1553.1,151.2 L1556.1,151 L1559.1,150.9 L1562.1,150.7 L1565.1,150.5 L1568,150.4 L1571,150.2 L1574,150.1 L1577,149.9 L1579.9,149.8 L1582.9,149.6 L1585.9,149.5 L1588.9,149.3 L1591.8,149.2 L1594.8,149.1 L1597.8,148.9 L1600.7,148.8 L1603.7,148.7 L1606.6,148.5 L1609.6,148.4 L1612.5,148.3 L1615.5,148.1 L1618.4,148 L1621.4,147.9 L1624.3,147.8 L1627.3,147.6 L1630.2,147.5 L1633.2,147.4 L1636.1,147.2 L1639,147.1 L1642,147 L1644.9,146.8 L1647.8,146.7 L1650.8,146.6 L1653.7,146.4 L1656.6,146.3 L1659.5,146.1 L1663.6,146.6 "/>
<path stroke="#FF00FF" d="M1088.7,1463.1 L1088.4,1460 L1088.8,1457 L1089.3,1454 L1089.7,1451.1 L1090.2,1448.1 L1090.6,1445.1 L1091.1,1442.1 L1091.5,1439.2 L1092,1436.2 L1092.4,1433.2 L1092.8,1430.3 L1093.3,1427.3 L1093.7,1424.3 L1094.1,1421.3 L1094.5,1418.4 L1094.9,1415.4 L1095.4,1412.4 L1095.8,1409.4 L1096.2,1406.5 L1096.6,1403.5 L1097,1400.5 L1097.4,1397.5 L1097.8,1394.5 L1098.2,1391.6 L1098.6,1388.6 L1099,1385.6 L1099.4,1382.6 L1099.7,1379.6 L1100.1,1376.7 L1100.5,1373.7 L1100.9,1370.7 L1101.3,1367.7 L1101.6,1364.7 L1102,1361.7 L1102.4,1358.8 L1102.8,1355.8 L1103.1,1352.8 L1103.5,1349.8 L1103.9,1346.8 L1104.2,1343.8 L1104.6,1340.8 L1105,1337.9 L1105.3,1334.9 L1105.7,1331.9 L1106,1328.9 L1106.4,1325.9 L1106.7,1322.9 L1107.1,1319.9 L1107.4,1316.9 L1107.8,1313.9 L1108.1,1311 L1108.5,1308 L1108.8,1305 L1109.2,1302 L1109.5,1299 L1109.9,1296 L1110.2,1293 L1110.6,1290 L1110.9,1287 L1111.3,1284 L1111.6,1281.1 L1111.9,1278.1 L1112.3,1275.1 L1112.6,1272.1 L1113,1269.1 L1113.3,1266.1 L1113.6,1263.1 L1114,1260.1 L1114.3,1257.1 L1114.7,1254.1 L1115,1251.1 L1115.3,1248.2 L1115.7,1245.2 L1116,1242.2 L1116.4,1239.2 L1116.7,1236.2 L1117,1233.2 L1117.4,1230.2 L1117.7,1227.2 L1118.1,1224.2 L1118.4,1221.2 L1118.7,1218.2 L1119.1,1215.3 L1119.4,1212.3 L1119.8,1209.3 L1120.1,1206.3 L1120.5,1203.3 L1120.8,1200.3 L1121.2,1197.3 L1121.5,1194.3 L1121.8,1191.3 L1122.2,1188.3 L1122.5,1185.4 L1122.9,1182.4 L1123.3,1179.4 L1123.6,1176.4 L1124,1173.4 L1124.3,1170.4 L1124.7,1167.4 L1125,1164.4 L1125.4,1161.4 L1125.8,1158.5 L1126.1,1155.5 L1126.5,1152.5 L1126.9,1149.5 L1127.2,1146.5 L1127.6,1143.5 L1128,1140.5 L1128.3,1137.6 L1128.7,1134.6 L1129.1,1131.6 L1129.5,1128.6 L1129.9,1125.6 L1130.2,1122.6 L1130.6,1119.7 L1131,1116.7 L1131.4,1113.7 L1131.8,1110.7 L1132.2,1107.7 L1132.6,1104.8 L1133,1101.8 L1133.4,1098.8 L1133.8,1095.8 L1134.2,1092.8 L1134.6,1089.9 L1135,1086.9 L1135.4,1083.9 L1135.9,1080.9 L1136.3,1078 L1136.7,1075 L1137.1,1072 L1137.6,1069 L1138,1066.1 L1138.4,1063.1 L1138.9,1060.1 L1139.3,1057.1 L1139.7,1054.2 L1140.2,1051.2 L1140.6,1048.2 L1141.1,1045.3 L1141.5,1042.3 L1142,1039.3 L1142.5,1036.3 L1142.9,1033.4 L1143.4,1030.4 L1143.8,1027.4 L1144.3,1024.5 L1144.8,1021.5 L1145.2,1018.5 L1145.7,1015.6 L1146.2,1012.6 L1146.7,1009.6 L1147.1,1006.7 L1147.6,1003.7 L1148.1,1000.7 L1148.6,997.8 L1149,994.8 L1149.5,991.8 L1150,988.9 L1150.5,985.9 L1151,982.9 L1151.5,980 L1152,977 L1152.4,974.1 L1152.9,971.1 L1153.4,968.1 L1153.9,965.2 L1154.4,962.2 L1154.9,959.2 L1155.4,956.3 L1155.9,953.3 L1156.4,950.3 L1156.9,947.4 L1157.4,944.4 L1157.9,941.4 L1158.4,938.5 L1158.9,935.5 L1159.4,932.5 L1159.8,929.6 L1160.3,926.6 L1160.8,923.6 L1161.3,920.7 L1161.8,917.7 L1162.3,914.7 L1162.8,911.8 L1163.3,908.8 L1163.8,905.8 L1164.3,902.9 L1164.8,899.9 L1165.3,896.9 L1165.8,894 L1166.3,891 L1166.8,888 L1167.3,885.1 L1167.7,882.1 L1168.2,879.1 L1168.7,876.1 L1169.2,873.2 L1169.7,870.2 L1170.2,867.2 L1170.7,864.3 L1171.2,861.3 L1171.6,858.3 L1172.1,855.3 L1172.6,852.4 L1173.1,849.4 L1173.6,846.4 L1174.1,843.4 L1174.5,840.5 L1175,837.5 L1175.5,834.5 L1176,831.6 L1176.5,828.6 L1177,825.6 L1177.4,822.6 L1177.9,819.7 L1178.4,816.7 L1178.9,813.7 L1179.4,810.7 L1179.9,807.8 L1180.3,804.8 L1180.8,801.8 L1181.3,798.8 L1181.8,795.9 L1182.3,792.9 L1182.8,789.9 L1183.3,787 L1183.8,784 L1184.2,781 L1184.7,778 L1185.2,775.1 L1185.7,772.1 L1186.2,769.1 L1186.7,766.2 L1187.2,763.2 L1187.7,760.2 L1188.2,757.2 L1188.7,754.3 L1189.2,751.3 L1189.7,748.3 L1190.2,745.4 L1190.7,742.4 L1191.2,739.4 L1191.7,736.5 L1192.2,733.5 L1192.7,730.6 L1193.2,727.6 L1193.8,724.6 L1194.3,721.7 L1194.8,718.7 L1195.3,715.7 L1195.8,712.8 L1196.4,709.8 L1196.9,706.9 L1197.4,703.9 L1197.9,701 L1198.5,698 L1199,695.1 L1199.5,692.1 L1200.1,689.1 L1200.6,686.2 L1201.2,683.2 L1201.7,680.3 L1202.2,677.3 L1202.8,674.4 L1203.4,671.5 L1203.9,668.5 L1204.5,665.6 L1205,662.6 L1205.6,659.7 L1206.2,656.7 L1206.7,653.8 L1207.3,650.9 L1207.9,647.9 L1208.5,645 L1209.1,642 L1209.7,639.1 L1210.3,636.2 L1210.9,633.2 L1211.5,630.3 L1212.1,627.4 L1212.7,624.5 L1213.3,621.5 L1214,618.6 L1214.6,615.7 L1215.2,612.8 L1215.9,609.8 L1216.5,606.9 L1217.2,604 L1217.8,601.1 L1218.5,598.2 L1219.2,595.2 L1219.8,592.3 L1220.5,589.4 L1221.2,586.5 L1221.9,583.6 L1222.6,580.7 L1223.3,577.8 L1224,574.9 L1224.8,571.9 L1225.5,569 L1226.2,566.1 L1227,563.2 L1227.7,560.3 L1228.5,557.4 L1229.2,554.5 L1230,551.6 L1230.8,548.8 L1231.6,545.9 L1232.4,543 L1233.2,540.1 L1234,537.2 L1234.8,534.3 L1235.7,531.4 L1236.5,528.5 L1237.3,525.7 L1238.2,522.8 L1239.1,519.9 L1239.9,517 L1240.8,514.1 L1241.7,511.3 L1242.6,508.4 L1243.5,505.5 L1244.5,502.7 L1245.4,499.8 L1246.3,496.9 L1247.3,494.1 L1248.2,491.2 L1249.2,488.3 L1250.2,485.5 L1251.2,482.6 L1252.2,479.8 L1253.2,476.9 L1254.2,474.1 L1255.2,471.2 L1256.3,468.4 L1257.3,465.6 L1258.4,462.7 L1259.5,459.9 L1260.5,457.1 L1261.6,454.2 L1262.7,451.4 L1263.9,448.6 L1265,445.8 L1266.1,443 L1267.3,440.2 L1268.4,437.4 L1269.6,434.6 L1270.8,431.8 L1272,429 L1273.2,426.2 L1274.4,423.5 L1275.6,420.7 L1276.9,417.9 L1278.1,415.2 L1279.4,412.4 L1280.7,409.7 L1282,406.9 L1283.3,404.2 L1284.6,401.5 L1285.9,398.8 L1287.3,396.1 L1288.6,393.4 L1290,390.7 L1291.3,388 L1292.7,385.3 L1294.1,382.6 L1295.5,379.9 L1297,377.3 L1298.4,374.6 L1299.9,372 L1301.3,369.3 L1302.8,366.7 L1304.3,364.1 L1305.8,361.5 L1307.3,358.9 L1308.8,356.3 L1310.4,353.7 L1311.9,351.1 L1313.5,348.5 L1315.1,346 L1316.7,343.4 L1318.3,340.9 L1319.9,338.4 L1321.6,335.8 L1323.2,333.3 L1324.9,330.8 L1326.6,328.3 L1328.3,325.9 L1330,323.4 L1331.7,320.9 L1333.4,318.5 L1335.2,316.1 L1337,313.6 L1338.7,311.2 L1340.5,308.8 L1342.3,306.4 L1344.2,304.1 L1346,301.7 L1347.8,299.3 L1349.7,297 L1351.6,294.7 L1353.5,292.3 L1355.4,290 L1357.3,287.7 L1359.3,285.5 L1361.2,283.2 L1363.2,281 L1365.2,278.7 L1367.2,276.5 L1369.2,274.3 L1371.2,272.1 L1373.2,269.9 L1375.3,267.7 L1377.3,265.6 L1379.4,263.5 L1381.5,261.3 L1383.6,259.2 L1385.7,257.1 L1387.9,255.1 L1390,253 L1392.2,251 L1394.4,248.9 L1396.6,246.9 L1398.8,244.9 L1401,242.9 L1403.2,241 L1405.5,239 L1407.8,237.1 L1410,235.2 L1412.3,233.3 L1414.6,231.4 L1417,229.6 L1419.3,227.7 L1421.7,225.9 L1424,224.1 L1426.4,222.3 L1428.8,220.5 L1431.2,218.8 L1433.6,217 L1436.1,215.3 L1438.5,213.6 L1441,212 L1443.5,210.3 L1446,208.7 L1448.5,207 L1451,205.4 L1453.5,203.9 L1456.1,202.3 L1458.7,200.8 L1461.2,199.3 L1463.8,197.8 L1466.4,196.3 L1469.1,194.8 L1471.7,193.4 L1474.4,192 L1477,190.6 L1479.7,189.2 L1482.4,187.9 L1485.1,186.6 L1487.8,185.2 L1490.5,184 L1493.3,182.7 L1496,181.5 L1498.8,180.2 L1501.6,179 L1504.4,177.9 L1507.2,176.7 L1510,175.6 L1512.8,174.5 L1515.6,173.4 L1518.5,172.3 L1521.3,171.2 L1524.2,170.2 L1527,169.2 L1529.9,168.2 L1532.8,167.3 L1535.7,166.3 L1538.6,165.4 L1541.5,164.5 L1544.4,163.6 L1547.3,162.8 L1550.2,161.9 L1553.2,161.1 L1556.1,160.3 L1559,159.6 L1562,158.8 L1564.9,158.1 L1567.9,157.4 L1570.8,156.7 L1573.8,156 L1576.7,155.4 L1579.7,154.8 L1582.7,154.2 L1585.6,153.6 L1588.6,153 L1591.6,152.5 L1594.5,152 L1597.5,151.5 L1600.5,151 L1603.5,150.6 L1606.4,150.1 L1609.4,149.7 L1612.4,149.3 L1615.4,149 L1618.3,148.6 L1621.3,148.3 L1624.3,148 L1627.3,147.7 L1630.2,147.5 L1633.2,147.3 L1636.1,147 L1639.1,146.9 L1642.1,146.7 L1645,146.5 L1647.9,146.4 L1650.9,146.3 L1653.8,146.2 L1656.8,146.2 L1660,146.5 "/>
<path stroke="#FF8000" d="M1348.6,1463.1 L1348.4,1460 L1349.1,1457 L1349.8,1454.1 L1350.5,1451.2 L1351.2,1448.3 L1351.8,1445.3 L1352.5,1442.4 L1353.1,1439.5 L1353.7,1436.5 L1354.3,1433.6 L1354.9,1430.6 L1355.4,1427.7 L1356,1424.7 L1356.5,1421.8 L1357,1418.8 L1357.5,1415.9 L1358,1412.9 L1358.5,1409.9 L1359,1407 L1359.4,1404 L1359.9,1401 L1360.3,1398.1 L1360.7,1395.1 L1361.2,1392.1 L1361.6,1389.1 L1362,1386.1 L1362.4,1383.2 L1362.8,1380.2 L1363.1,1377.2 L1363.5,1374.2 L1363.9,1371.2 L1364.2,1368.2 L1364.6,1365.2 L1364.9,1362.2 L1365.2,1359.2 L1365.6,1356.2 L1365.9,1353.2 L1366.2,1350.2 L1366.5,1347.2 L1366.8,1344.2 L1367.1,1341.2 L1367.5,1338.2 L1367.8,1335.2 L1368.1,1332.2 L1368.4,1329.2 L1368.6,1326.2 L1368.9,1323.2 L1369.2,1320.2 L1369.5,1317.2 L1369.8,1314.2 L1370.1,1311.2 L1370.4,1308.2 L1370.7,1305.2 L1371,1302.2 L1371.3,1299.2 L1371.6,1296.2 L1371.9,1293.2 L1372.2,1290.2 L1372.5,1287.2 L1372.8,1284.2 L1373.1,1281.2 L1373.4,1278.3 L1373.8,1275.3 L1374.1,1272.3 L1374.4,1269.3 L1374.8,1266.3 L1375.1,1263.3 L1375.4,1260.3 L1375.8,1257.3 L1376.2,1254.3 L1376.5,1251.4 L1376.9,1248.4 L1377.3,1245.4 L1377.6,1242.4 L1378,1239.4 L1378.4,1236.5 L1378.8,1233.5 L1379.2,1230.5 L1379.6,1227.5 L1380,1224.6 L1380.4,1221.6 L1380.8,1218.6 L1381.2,1215.6 L1381.7,1212.7 L1382.1,1209.7 L1382.5,1206.7 L1382.9,1203.8 L1383.4,1200.8 L1383.8,1197.8 L1384.2,1194.9 L1384.7,1191.9 L1385.1,1188.9 L1385.6,1186 L1386,1183 L1386.5,1180 L1386.9,1177.1 L1387.4,1174.1 L1387.8,1171.1 L1388.3,1168.2 L1388.8,1165.2 L1389.2,1162.2 L1389.7,1159.3 L1390.2,1156.3 L1390.6,1153.4 L1391.1,1150.4 L1391.6,1147.4 L1392,1144.5 L1392.5,1141.5 L1393,1138.6 L1393.4,1135.6 L1393.9,1132.6 L1394.4,1129.7 L1394.9,1126.7 L1395.3,1123.7 L1395.8,1120.8 L1396.3,1117.8 L1396.8,1114.9 L1397.2,1111.9 L1397.7,1108.9 L1398.2,1106 L1398.7,1103 L1399.1,1100 L1399.6,1097.1 L1400.1,1094.1 L1400.5,1091.1 L1401,1088.2 L1401.5,1085.2 L1401.9,1082.2 L1402.4,1079.3 L1402.9,1076.3 L1403.3,1073.3 L1403.8,1070.4 L1404.2,1067.4 L1404.7,1064.4 L1405.1,1061.4 L1405.6,1058.5 L1406,1055.5 L1406.5,1052.5 L1406.9,1049.5 L1407.4,1046.6 L1407.8,1043.6 L1408.2,1040.6 L1408.7,1037.6 L1409.1,1034.7 L1409.6,1031.7 L1410,1028.7 L1410.4,1025.7 L1410.9,1022.7 L1411.3,1019.8 L1411.7,1016.8 L1412.2,1013.8 L1412.6,1010.8 L1413,1007.8 L1413.4,1004.9 L1413.9,1001.9 L1414.3,998.9 L1414.7,995.9 L1415.1,992.9 L1415.6,989.9 L1416,987 L1416.4,984 L1416.8,981 L1417.2,978 L1417.6,975 L1418.1,972 L1418.5,969 L1418.9,966.1 L1419.3,963.1 L1419.7,960.1 L1420.1,957.1 L1420.6,954.1 L1421,951.1 L1421.4,948.1 L1421.8,945.1 L1422.2,942.2 L1422.6,939.2 L1423.1,936.2 L1423.5,933.2 L1423.9,930.2 L1424.3,927.2 L1424.7,924.2 L1425.1,921.2 L1425.5,918.3 L1426,915.3 L1426.4,912.3 L1426.8,909.3 L1427.2,906.3 L1427.6,903.3 L1428,900.3 L1428.4,897.3 L1428.9,894.4 L1429.3,891.4 L1429.7,888.4 L1430.1,885.4 L1430.5,882.4 L1431,879.4 L1431.4,876.4 L1431.8,873.5 L1432.2,870.5 L1432.7,867.5 L1433.1,864.5 L1433.5,861.5 L1433.9,858.5 L1434.4,855.5 L1434.8,852.6 L1435.2,849.6 L1435.7,846.6 L1436.1,843.6 L1436.5,840.6 L1437,837.7 L1437.4,834.7 L1437.8,831.7 L1438.3,828.7 L1438.7,825.7 L1439.2,822.8 L1439.6,819.8 L1440,816.8 L1440.5,813.8 L1440.9,810.8 L1441.4,807.9 L1441.8,804.9 L1442.3,801.9 L1442.8,798.9 L1443.2,796 L1443.7,793 L1444.1,790 L1444.6,787.1 L1445.1,784.1 L1445.5,781.1 L1446,778.1 L1446.5,775.2 L1446.9,772.2 L1447.4,769.2 L1447.9,766.3 L1448.4,763.3 L1448.9,760.3 L1449.3,757.4 L1449.8,754.4 L1450.3,751.5 L1450.8,748.5 L1451.3,745.5 L1451.8,742.6 L1452.3,739.6 L1452.8,736.7 L1453.3,733.7 L1453.8,730.7 L1454.3,727.8 L1454.9,724.8 L1455.4,721.9 L1455.9,718.9 L1456.4,716 L1456.9,713 L1457.5,710.1 L1458,707.1 L1458.5,704.2 L1459.1,701.2 L1459.6,698.3 L1460.2,695.4 L1460.7,692.4 L1461.3,689.5 L1461.8,686.5 L1462.4,683.6 L1463,680.7 L1463.5,677.7 L1464.1,674.8 L1464.7,671.9 L1465.2,668.9 L1465.8,666 L1466.4,663.1 L1467,660.1 L1467.6,657.2 L1468.2,654.3 L1468.7,651.4 L1469.3,648.4 L1469.9,645.5 L1470.5,642.6 L1471.2,639.7 L1471.8,636.7 L1472.4,633.8 L1473,630.9 L1473.6,628 L1474.2,625 L1474.9,622.1 L1475.5,619.2 L1476.1,616.3 L1476.7,613.4 L1477.4,610.4 L1478,607.5 L1478.6,604.6 L1479.3,601.7 L1479.9,598.8 L1480.6,595.8 L1481.2,592.9 L1481.9,590 L1482.5,587.1 L1483.2,584.1 L1483.8,581.2 L1484.5,578.3 L1485.2,575.4 L1485.8,572.5 L1486.5,569.5 L1487.2,566.6 L1487.8,563.7 L1488.5,560.8 L1489.2,557.9 L1489.9,554.9 L1490.6,552 L1491.2,549.1 L1491.9,546.1 L1492.6,543.2 L1493.3,540.3 L1494,537.4 L1494.7,534.4 L1495.4,531.5 L1496.1,528.6 L1496.8,525.6 L1497.5,522.7 L1498.2,519.8 L1498.9,516.8 L1499.6,513.9 L1500.3,511 L1501,508 L1501.7,505.1 L1502.4,502.2 L1503.1,499.2 L1503.8,496.3 L1504.5,493.3 L1505.3,490.4 L1506,487.4 L1506.7,484.5 L1507.4,481.5 L1508.1,478.6 L1508.9,475.6 L1509.6,472.7 L1510.3,469.7 L1511.1,466.8 L1511.8,463.8 L1512.6,460.9 L1513.3,458 L1514.1,455 L1514.9,452.1 L1515.6,449.1 L1516.4,446.2 L1517.2,443.3 L1518,440.3 L1518.8,437.4 L1519.6,434.5 L1520.4,431.5 L1521.3,428.6 L1522.1,425.7 L1523,422.8 L1523.8,419.9 L1524.7,417 L1525.6,414.1 L1526.5,411.2 L1527.3,408.3 L1528.3,405.4 L1529.2,402.5 L1530.1,399.7 L1531.1,396.8 L1532,393.9 L1533,391.1 L1534,388.2 L1535,385.4 L1536,382.5 L1537,379.7 L1538,376.9 L1539.1,374.1 L1540.2,371.3 L1541.3,368.5 L1542.4,365.7 L1543.5,362.9 L1544.6,360.1 L1545.8,357.4 L1546.9,354.6 L1548.1,351.9 L1549.3,349.1 L1550.6,346.4 L1551.8,343.7 L1553.1,341 L1554.3,338.3 L1555.6,335.6 L1557,332.9 L1558.3,330.3 L1559.7,327.6 L1561,325 L1562.4,322.4 L1563.9,319.7 L1565.3,317.1 L1566.8,314.6 L1568.3,312 L1569.8,309.4 L1571.3,306.9 L1572.9,304.3 L1574.5,301.8 L1576.1,299.3 L1577.7,296.8 L1579.3,294.3 L1581,291.8 L1582.7,289.4 L1584.4,287 L1586.1,284.5 L1587.9,282.1 L1589.6,279.7 L1591.4,277.4 L1593.2,275 L1595.1,272.7 L1596.9,270.3 L1598.8,268 L1600.7,265.7 L1602.6,263.4 L1604.6,261.2 L1606.5,259 L1608.5,256.7 L1610.5,254.5 L1612.5,252.3 L1614.6,250.2 L1616.6,248 L1618.7,245.9 L1620.8,243.8 L1622.9,241.7 L1625,239.6 L1627.2,237.6 L1629.4,235.6 L1631.6,233.6 L1633.8,231.6 L1636,229.6 L1638.3,227.7 L1640.5,225.7 L1642.8,223.8 L1645.1,222 L1647.5,220.1 L1649.8,218.3 L1652.2,216.5 L1654.5,214.7 L1656.9,212.9 L1659.3,211.2 L1661.8,209.4 L1664.2,207.7 L1666.7,206.1 L1669.2,204.4 L1671.7,202.8 L1674.2,201.2 L1676.8,199.6 L1679.3,198.1 L1681.9,196.6 L1684.5,195.1 L1687.1,193.6 L1689.7,192.2 L1692.3,190.7 L1695,189.4 L1697.7,188 L1700.4,186.7 L1703.1,185.3 L1705.8,184.1 L1708.5,182.8 L1711.3,181.6 L1714.1,180.4 L1716.8,179.2 L1719.6,178.1 L1722.4,177 L1725.3,175.9 L1728.1,174.8 L1731,173.8 L1733.8,172.7 L1736.7,171.7 L1739.6,170.8 L1742.5,169.8 L1745.4,168.9 L1748.3,168 L1751.2,167.1 L1754.2,166.3 L1757.1,165.5 L1760.1,164.7 L1763,163.9 L1766,163.1 L1768.9,162.4 L1771.9,161.6 L1774.9,160.9 L1777.9,160.2 L1780.9,159.6 L1783.9,158.9 L1786.9,158.3 L1789.9,157.7 L1792.9,157.1 L1795.9,156.5 L1798.9,156 L1801.9,155.4 L1804.9,154.9 L1807.9,154.4 L1810.9,153.9 L1813.9,153.4 L1816.9,153 L1819.9,152.5 L1822.9,152.1 L1825.9,151.7 L1828.9,151.3 L1831.9,150.9 L1834.9,150.5 L1837.9,150.1 L1840.9,149.8 L1843.8,149.5 L1846.8,149.1 L1849.8,148.8 L1852.7,148.5 L1855.7,148.2 L1858.6,147.9 L1861.5,147.6 L1864.4,147.4 L1867.3,147.1 L1870.2,146.9 L1873.1,146.6 L1876,146.4 L1878.9,146.2 L1881.7,146 L1884.6,146 L1887.4,146 L1890.2,146 L1893,146 L1895.8,146 L1900,146 "/>
<path stroke="#800000" d="M1738.8,1463 L1737.4,1459.5 L1737.5,1456.5 L1737.7,1453.5 L1737.8,1450.5 L1738,1447.5 L1738.1,1444.5 L1738.2,1441.5 L1738.4,1438.6 L1738.5,1435.6 L1738.7,1432.6 L1738.8,1429.6 L1739,1426.6 L1739.1,1423.6 L1739.2,1420.6 L1739.4,1417.6 L1739.5,1414.6 L1739.7,1411.6 L1739.8,1408.6 L1739.9,1405.7 L1740.1,1402.7 L1740.2,1399.7 L1740.3,1396.7 L1740.5,1393.7 L1740.6,1390.7 L1740.7,1387.7 L1740.9,1384.7 L1741,1381.7 L1741.1,1378.7 L1741.3,1375.7 L1741.4,1372.7 L1741.5,1369.7 L1741.7,1366.7 L1741.8,1363.7 L1741.9,1360.7 L1742,1357.7 L1742.2,1354.8 L1742.3,1351.8 L1742.4,1348.8 L1742.5,1345.8 L1742.7,1342.8 L1742.8,1339.8 L1742.9,1336.8 L1743,1333.8 L1743.1,1330.8 L1743.3,1327.8 L1743.4,1324.8 L1743.5,1321.8 L1743.6,1318.8 L1743.8,1315.8 L1743.9,1312.8 L1744,1309.8 L1744.1,1306.8 L1744.2,1303.8 L1744.3,1300.8 L1744.5,1297.8 L1744.6,1294.8 L1744.7,1291.8 L1744.8,1288.8 L1744.9,1285.8 L1745,1282.8 L1745.2,1279.8 L1745.3,1276.8 L1745.4,1273.8 L1745.5,1270.8 L1745.6,1267.8 L1745.7,1264.8 L1745.9,1261.8 L1746,1258.7 L1746.1,1255.7 L1746.2,1252.7 L1746.3,1249.7 L1746.4,1246.7 L1746.5,1243.7 L1746.6,1240.7 L1746.8,1237.7 L1746.9,1234.7 L1747,1231.7 L1747.1,1228.7 L1747.2,1225.7 L1747.3,1222.7 L1747.4,1219.7 L1747.6,1216.7 L1747.7,1213.7 L1747.8,1210.7 L1747.9,1207.7 L1748,1204.7 L1748.1,1201.7 L1748.2,1198.7 L1748.3,1195.6 L1748.5,1192.6 L1748.6,1189.6 L1748.7,1186.6 L1748.8,1183.6 L1748.9,1180.6 L1749,1177.6 L1749.1,1174.6 L1749.2,1171.6 L1749.4,1168.6 L1749.5,1165.6 L1749.6,1162.6 L1749.7,1159.6 L1749.8,1156.6 L1749.9,1153.5 L1750,1150.5 L1750.2,1147.5 L1750.3,1144.5 L1750.4,1141.5 L1750.5,1138.5 L1750.6,1135.5 L1750.7,1132.5 L1750.9,1129.5 L1751,1126.5 L1751.1,1123.5 L1751.2,1120.5 L1751.3,1117.4 L1751.4,1114.4 L1751.6,1111.4 L1751.7,1108.4 L1751.8,1105.4 L1751.9,1102.4 L1752,1099.4 L1752.2,1096.4 L1752.3,1093.4 L1752.4,1090.4 L1752.5,1087.4 L1752.6,1084.3 L1752.8,1081.3 L1752.9,1078.3 L1753,1075.3 L1753.1,1072.3 L1753.3,1069.3 L1753.4,1066.3 L1753.5,1063.3 L1753.6,1060.3 L1753.8,1057.3 L1753.9,1054.3 L1754,1051.2 L1754.2,1048.2 L1754.3,1045.2 L1754.4,1042.2 L1754.5,1039.2 L1754.7,1036.2 L1754.8,1033.2 L1754.9,1030.2 L1755.1,1027.2 L1755.2,1024.2 L1755.3,1021.1 L1755.5,1018.1 L1755.6,1015.1 L1755.7,1012.1 L1755.9,1009.1 L1756,1006.1 L1756.2,1003.1 L1756.3,1000.1 L1756.4,997.1 L1756.6,994.1 L1756.7,991 L1756.9,988 L1757,985 L1757.2,982 L1757.3,979 L1757.4,976 L1757.6,973 L1757.7,970 L1757.9,967 L1758,964 L1758.2,961 L1758.3,957.9 L1758.5,954.9 L1758.6,951.9 L1758.8,948.9 L1758.9,945.9 L1759.1,942.9 L1759.3,939.9 L1759.4,936.9 L1759.6,933.9 L1759.7,930.9 L1759.9,927.9 L1760.1,924.8 L1760.2,921.8 L1760.4,918.8 L1760.6,915.8 L1760.7,912.8 L1760.9,909.8 L1761.1,906.8 L1761.2,903.8 L1761.4,900.8 L1761.6,897.8 L1761.7,894.8 L1761.9,891.8 L1762.1,888.8 L1762.3,885.7 L1762.4,882.7 L1762.6,879.7 L1762.8,876.7 L1763,873.7 L1763.2,870.7 L1763.4,867.7 L1763.5,864.7 L1763.7,861.7 L1763.9,858.7 L1764.1,855.7 L1764.3,852.7 L1764.5,849.7 L1764.7,846.7 L1764.9,843.7 L1765.1,840.7 L1765.3,837.6 L1765.5,834.6 L1765.7,831.6 L1765.9,828.6 L1766.1,825.6 L1766.3,822.6 L1766.5,819.6 L1766.7,816.6 L1766.9,813.6 L1767.1,810.6 L1767.3,807.6 L1767.5,804.6 L1767.7,801.6 L1768,798.6 L1768.2,795.6 L1768.4,792.6 L1768.6,789.6 L1768.8,786.6 L1769.1,783.6 L1769.3,780.6 L1769.5,777.6 L1769.7,774.6 L1770,771.6 L1770.2,768.6 L1770.4,765.6 L1770.7,762.6 L1770.9,759.6 L1771.1,756.6 L1771.4,753.6 L1771.6,750.6 L1771.9,747.6 L1772.1,744.6 L1772.4,741.6 L1772.6,738.6 L1772.9,735.6 L1773.1,732.6 L1773.4,729.6 L1773.6,726.6 L1773.9,723.6 L1774.1,720.6 L1774.4,717.6 L1774.7,714.6 L1774.9,711.6 L1775.2,708.6 L1775.5,705.6 L1775.7,702.6 L1776,699.6 L1776.3,696.6 L1776.6,693.6 L1776.8,690.6 L1777.1,687.6 L1777.4,684.6 L1777.7,681.6 L1778,678.6 L1778.3,675.6 L1778.5,672.6 L1778.8,669.7 L1779.1,666.7 L1779.4,663.7 L1779.7,660.7 L1780,657.7 L1780.3,654.7 L1780.6,651.7 L1780.9,648.7 L1781.3,645.7 L1781.6,642.7 L1781.9,639.7 L1782.2,636.7 L1782.5,633.8 L1782.8,630.8 L1783.2,627.8 L1783.5,624.8 L1783.8,621.8 L1784.1,618.8 L1784.5,615.8 L1784.8,612.8 L1785.1,609.9 L1785.5,606.9 L1785.8,603.9 L1786.2,600.9 L1786.5,597.9 L1786.8,594.9 L1787.2,591.9 L1787.6,589 L1787.9,586 L1788.3,583 L1788.6,580 L1789,577 L1789.3,574 L1789.7,571.1 L1790.1,568.1 L1790.5,565.1 L1790.8,562.1 L1791.2,559.1 L1791.6,556.2 L1792,553.2 L1792.4,550.2 L1792.7,547.2 L1793.1,544.2 L1793.5,541.3 L1793.9,538.3 L1794.3,535.3 L1794.7,532.3 L1795.1,529.3 L1795.5,526.4 L1795.9,523.4 L1796.3,520.4 L1796.8,517.4 L1797.2,514.5 L1797.6,511.5 L1798,508.5 L1798.4,505.5 L1798.9,502.6 L1799.3,499.6 L1799.7,496.6 L1800.2,493.7 L1800.6,490.7 L1801,487.7 L1801.5,484.7 L1801.9,481.8 L1802.4,478.8 L1802.8,475.8 L1803.3,472.9 L1803.7,469.9 L1804.2,466.9 L1804.7,464 L1805.1,461 L1805.6,458 L1806.1,455.1 L1806.5,452.1 L1807,449.1 L1807.5,446.2 L1808,443.2 L1808.5,440.3 L1809,437.3 L1809.5,434.3 L1810,431.4 L1810.5,428.4 L1811,425.4 L1811.5,422.5 L1812,419.5 L1812.5,416.6 L1813,413.6 L1813.5,410.7 L1814,407.7 L1814.6,404.7 L1815.1,401.8 L1815.6,398.8 L1816.2,395.9 L1816.7,392.9 L1817.2,390 L1817.8,387 L1818.3,384.1 L1818.9,381.1 L1819.4,378.1 L1820,375.2 L1820.5,372.2 L1821.1,369.3 L1821.7,366.3 L1822.2,363.4 L1822.8,360.4 L1823.4,357.5 L1824,354.6 L1824.5,351.6 L1825.1,348.7 L1825.7,345.7 L1826.3,342.8 L1826.9,339.8 L1827.5,336.9 L1828.1,333.9 L1828.7,331 L1829.3,328.1 L1830,325.1 L1830.6,322.2 L1831.2,319.2 L1831.8,316.3 L1832.4,313.4 L1833.1,310.4 L1833.7,307.5 L1834.3,304.5 L1835,301.6 L1835.6,298.7 L1836.3,295.7 L1836.9,292.8 L1837.6,289.9 L1838.3,286.9 L1838.9,284 L1839.6,281.1 L1840.3,278.1 L1840.9,275.2 L1841.6,272.3 L1842.3,269.3 L1843,266.4 L1843.7,263.5 L1844.4,260.6 L1845.1,257.6 L1845.8,254.7 L1846.5,251.8 L1847.2,248.9 L1847.9,245.9 L1848.6,243 L1849.3,240.1 L1850.1,237.2 L1850.8,234.2 L1851.5,231.3 L1852.3,228.4 L1853,225.5 L1853.7,222.6 L1854.5,219.6 L1855.2,216.7 L1856,213.8 L1856.8,210.9 L1857.5,208 L1858.3,205.1 L1859.1,202.1 L1859.8,199.2 L1860.6,196.3 L1861.4,193.4 L1862.2,190.5 L1863,187.6 L1863.8,184.7 L1864.6,181.8 L1865.4,178.9 L1866.2,176 L1867,173 L1867.8,170.1 L1868.6,167.2 L1869.5,164.3 L1870.3,161.4 L1871.1,158.5 L1872,155.6 L1872.8,152.7 L1873.7,149.8 L1874.5,146.9 L1880.8,146 "/>
</g>
<g stroke="#000" fill="none">
<line x1="392.5" y1="141" x2="392.5" y2="1472" stroke-width="10.7"/>
<line x1="387" y1="1467" x2="2016" y2="1467" stroke-width="10"/>
<line x1="392" y1="145.5" x2="2016" y2="145.5" stroke-width="6.5"/>
<line x1="2013" y1="142" x2="2013" y2="1470" stroke-width="5.7"/>
</g>
<g stroke="#000" stroke-linecap="round" stroke-width="10">
<line x1="368" y1="145.5" x2="392" y2="145.5"/>
<line x1="368" y1="409.8" x2="392" y2="409.8"/>
<line x1="368" y1="674.1" x2="392" y2="674.1"/>
<line x1="368" y1="938.4" x2="392" y2="938.4"/>
<line x1="368" y1="1202.7" x2="392" y2="1202.7"/>
<line x1="368" y1="1467" x2="392" y2="1467"/>
<line x1="380" y1="277.6" x2="392" y2="277.6"/>
<line x1="380" y1="542" x2="392" y2="542"/>
<line x1="380" y1="806.2" x2="392" y2="806.2"/>
<line x1="380" y1="1070.5" x2="392" y2="1070.5"/>
<line x1="380" y1="1334.8" x2="392" y2="1334.8"/>
<line x1="392.5" y1="1467" x2="392.5" y2="1490"/>
<line x1="716.5" y1="1467" x2="716.5" y2="1490"/>
<line x1="1040.5" y1="1467" x2="1040.5" y2="1490"/>
<line x1="1364.5" y1="1467" x2="1364.5" y2="1490"/>
<line x1="1688.5" y1="1467" x2="1688.5" y2="1490"/>
<line x1="2012.5" y1="1467" x2="2012.5" y2="1490"/>
<line x1="554.5" y1="1467" x2="554.5" y2="1476"/>
<line x1="878.5" y1="1467" x2="878.5" y2="1476"/>
<line x1="1202.5" y1="1467" x2="1202.5" y2="1476"/>
<line x1="1526.5" y1="1467" x2="1526.5" y2="1476"/>
<line x1="1850.5" y1="1467" x2="1850.5" y2="1476"/>
</g>
<g stroke="#000" stroke-linecap="round" stroke-width="5.7">
<line x1="1202.5" y1="146" x2="1202.5" y2="155.5"/>
<line x1="2001" y1="806.3" x2="2012" y2="806.3"/>
</g>
<g font-family="'Liberation Sans', Arial, sans-serif" font-size="62" font-weight="bold">
<text transform="translate(434.5,194) scale(1,1.03)" fill="#000000">1</text>
<text transform="translate(569.5,224.6) scale(1,1.03)" fill="#FF0000">2</text>
<text transform="translate(450.4,439.6) scale(1,1.03)" fill="#008000">3</text>
<text transform="translate(475.2,719.7) scale(1,1.03)" fill="#0000FF">4</text>
<text transform="translate(906.7,979) scale(1,1.03)" fill="#000080">5</text>
<text transform="translate(1093.7,983) scale(1,1.03)" fill="#FF00FF">6</text>
<text transform="translate(1366.9,976.1) scale(1,1.03)" fill="#FF8000">7</text>
<text transform="translate(1703.8,973.9) scale(1,1.03)" fill="#800000">8</text>
</g>
<defs><clipPath id="cb"><rect x="347" y="1909" width="1683" height="1369"/></clipPath></defs>
<g font-family="'Liberation Sans', Arial, sans-serif" font-size="63.5" fill="#000">
<text transform="translate(298,3300.6) scale(1,1.03)" text-anchor="end">0.0</text>
<text transform="translate(298,3071.1) scale(1,1.03)" text-anchor="end">0.2</text>
<text transform="translate(298,2841.6) scale(1,1.03)" text-anchor="end">0.4</text>
<text transform="translate(298,2612.1) scale(1,1.03)" text-anchor="end">0.6</text>
<text transform="translate(298,2382.6) scale(1,1.03)" text-anchor="end">0.8</text>
<text transform="translate(298,2153.1) scale(1,1.03)" text-anchor="end">1.0</text>
<text transform="translate(298,1923.6) scale(1,1.03)" text-anchor="end">1.2</text>
<text transform="translate(341.5,3377) scale(1,1.03)" text-anchor="middle">-7</text>
<text transform="translate(566.9,3377) scale(1,1.03)" text-anchor="middle">-6</text>
<text transform="translate(792.4,3377) scale(1,1.03)" text-anchor="middle">-5</text>
<text transform="translate(1017.8,3377) scale(1,1.03)" text-anchor="middle">-4</text>
<text transform="translate(1243.2,3377) scale(1,1.03)" text-anchor="middle">-3</text>
<text transform="translate(1468.7,3377) scale(1,1.03)" text-anchor="middle">-2</text>
<text transform="translate(1694.1,3377) scale(1,1.03)" text-anchor="middle">-1</text>
<text transform="translate(1919.5,3377) scale(1,1.03)" text-anchor="middle">0</text>
</g>
<text transform="translate(833.3,3502.7) scale(1,1.045)" font-family="'Liberation Sans', Arial, sans-serif" font-size="103.9" font-weight="bold" fill="#000">log ( <tspan font-style="italic">j</tspan> / A cm<tspan font-size="62.3" dy="-53.5">-2</tspan><tspan dx="5" dy="53.5">)</tspan></text>
<text transform="translate(146,3035.4) rotate(-90) scale(1,1.05)" font-family="'Liberation Sans', Arial, sans-serif" font-size="104" font-weight="bold" fill="#000">Overpotential / V</text>
<text x="373" y="2000" font-family="'Liberation Sans', Arial, sans-serif" font-size="80" font-weight="bold" fill="#000">(b)</text>
<g clip-path="url(#cb)">
<path fill="#000000" d="M370.3,3150 L372.3,3146.5 L375.3,3143.8 L378.3,3141 L381.3,3138.2 L384.2,3135.5 L387.2,3132.7 L390.1,3129.9 L393,3127.1 L395.9,3124.3 L398.8,3121.5 L401.7,3118.6 L404.6,3115.8 L407.4,3112.9 L410.2,3110.1 L413,3107.2 L415.8,3104.3 L418.6,3101.4 L421.3,3098.5 L424.1,3095.5 L426.8,3092.6 L429.5,3089.6 L432.1,3086.6 L434.8,3083.6 L437.4,3080.6 L440,3077.6 L442.5,3074.6 L445.1,3071.5 L447.6,3068.4 L450.1,3065.3 L452.6,3062.2 L455,3059.1 L457.4,3055.9 L459.8,3052.8 L462.1,3049.6 L464.5,3046.4 L466.8,3043.2 L469,3039.9 L471.3,3036.7 L473.5,3033.4 L475.6,3030.1 L477.8,3026.7 L479.9,3023.4 L481.9,3020 L484,3016.6 L486,3013.2 L488,3009.8 L489.9,3006.3 L491.8,3002.9 L493.7,2999.4 L495.6,2995.9 L497.5,2992.4 L499.3,2988.9 L501.1,2985.3 L502.9,2981.8 L504.6,2978.2 L506.4,2974.7 L508.1,2971.1 L509.8,2967.5 L511.5,2963.9 L513.2,2960.3 L514.9,2956.7 L516.5,2953.1 L518.2,2949.5 L519.8,2945.9 L521.4,2942.2 L523.1,2938.6 L524.7,2935 L526.3,2931.3 L527.9,2927.7 L529.4,2924 L531,2920.4 L532.6,2916.7 L534.2,2913 L535.7,2909.4 L537.3,2905.7 L538.8,2902 L540.4,2898.4 L541.9,2894.7 L543.5,2891 L545.1,2887.3 L546.6,2883.7 L548.2,2880 L549.7,2876.3 L551.3,2872.6 L552.9,2869 L554.4,2865.3 L556,2861.6 L557.6,2858 L559.2,2854.3 L560.8,2850.6 L562.4,2847 L564,2843.3 L565.7,2839.6 L567.3,2836 L568.9,2832.3 L570.6,2828.7 L572.3,2825.1 L574,2821.4 L575.7,2817.8 L577.4,2814.2 L579.1,2810.5 L580.8,2806.9 L582.6,2803.3 L584.3,2799.7 L586.1,2796.1 L587.9,2792.5 L589.7,2788.9 L591.5,2785.3 L593.3,2781.7 L595.2,2778.2 L597,2774.6 L598.9,2771.1 L600.8,2767.5 L602.7,2764 L604.6,2760.4 L606.5,2756.9 L608.4,2753.4 L610.4,2749.9 L612.3,2746.4 L614.3,2742.9 L616.3,2739.4 L618.3,2735.9 L620.3,2732.5 L622.4,2729 L624.4,2725.6 L626.5,2722.1 L628.6,2718.7 L630.6,2715.3 L632.8,2711.9 L634.9,2708.5 L637,2705.1 L639.2,2701.7 L641.4,2698.4 L643.5,2695 L645.7,2691.7 L648,2688.4 L650.2,2685 L652.5,2681.7 L654.7,2678.4 L657,2675.2 L659.3,2671.9 L661.6,2668.7 L664,2665.4 L666.3,2662.2 L668.7,2659 L671.1,2655.8 L673.5,2652.6 L675.9,2649.4 L678.3,2646.3 L680.8,2643.2 L683.2,2640 L685.7,2636.9 L688.2,2633.8 L690.8,2630.8 L693.3,2627.7 L695.9,2624.6 L698.4,2621.6 L701,2618.6 L703.7,2615.6 L706.3,2612.6 L708.9,2609.7 L711.6,2606.7 L714.3,2603.8 L717,2600.9 L719.7,2598 L722.5,2595.1 L725.3,2592.3 L728,2589.4 L730.8,2586.6 L733.7,2583.8 L736.5,2581 L739.4,2578.2 L742.3,2575.5 L745.2,2572.8 L748.1,2570.1 L751,2567.4 L754,2564.7 L757,2562.1 L760,2559.4 L763,2556.8 L766.1,2554.3 L769.1,2551.7 L772.2,2549.2 L775.3,2546.6 L778.4,2544.1 L781.6,2541.6 L784.7,2539.2 L787.9,2536.7 L791.1,2534.2 L794.3,2531.8 L797.5,2529.4 L800.7,2527 L803.9,2524.6 L807.2,2522.2 L810.4,2519.9 L813.7,2517.5 L817,2515.1 L820.2,2512.8 L823.5,2510.5 L826.8,2508.1 L830.1,2505.8 L833.4,2503.5 L836.7,2501.2 L840.1,2498.9 L843.4,2496.6 L846.7,2494.3 L850,2492 L853.4,2489.7 L856.7,2487.4 L860,2485.1 L863.3,2482.8 L866.7,2480.5 L870,2478.3 L873.3,2476 L876.6,2473.7 L879.9,2471.4 L883.2,2469.1 L886.6,2466.7 L889.8,2464.4 L893.1,2462.1 L896.4,2459.8 L899.7,2457.4 L903,2455.1 L906.2,2452.7 L909.4,2450.4 L912.7,2448 L915.9,2445.6 L919.1,2443.2 L922.3,2440.8 L925.5,2438.4 L928.7,2436 L931.9,2433.6 L935.1,2431.1 L938.3,2428.7 L941.4,2426.3 L944.6,2423.8 L947.8,2421.4 L950.9,2418.9 L954.1,2416.5 L957.2,2414 L960.3,2411.5 L963.5,2409.1 L966.6,2406.6 L969.7,2404.1 L972.8,2401.6 L975.9,2399.1 L979.1,2396.6 L982.2,2394.1 L985.3,2391.6 L988.4,2389.1 L991.5,2386.6 L994.6,2384.1 L997.7,2381.6 L1000.8,2379.1 L1003.9,2376.6 L1007,2374.1 L1010.1,2371.5 L1013.2,2369 L1016.3,2366.5 L1019.4,2364 L1022.5,2361.5 L1025.6,2359 L1028.7,2356.5 L1031.8,2354 L1034.9,2351.4 L1038,2348.9 L1041.1,2346.4 L1044.2,2343.9 L1047.3,2341.4 L1050.4,2338.9 L1053.6,2336.4 L1056.7,2333.9 L1059.8,2331.4 L1063,2328.9 L1066.1,2326.4 L1069.3,2324 L1072.4,2321.5 L1075.6,2319 L1078.7,2316.5 L1081.9,2314.1 L1085.1,2311.6 L1088.2,2309.1 L1091.4,2306.7 L1094.6,2304.2 L1097.7,2301.7 L1100.9,2299.3 L1104.1,2296.8 L1107.3,2294.3 L1110.5,2291.9 L1113.6,2289.4 L1116.8,2286.9 L1120,2284.5 L1123.2,2282 L1126.4,2279.6 L1129.6,2277.1 L1132.7,2274.6 L1135.9,2272.2 L1139.1,2269.7 L1142.3,2267.2 L1145.5,2264.8 L1148.6,2262.3 L1151.8,2259.8 L1155,2257.3 L1158.2,2254.9 L1161.3,2252.4 L1164.5,2249.9 L1167.7,2247.4 L1170.8,2244.9 L1174,2242.4 L1177.2,2239.9 L1180.3,2237.4 L1183.5,2234.9 L1186.6,2232.4 L1189.7,2229.9 L1192.9,2227.4 L1196,2224.8 L1199.1,2222.3 L1202.3,2219.8 L1205.4,2217.2 L1208.5,2214.7 L1211.6,2212.1 L1214.7,2209.6 L1217.8,2207 L1220.9,2204.4 L1223.9,2201.8 L1227,2199.3 L1230.1,2196.7 L1233.1,2194.1 L1236.2,2191.4 L1239.2,2188.8 L1242.2,2186.2 L1245.3,2183.6 L1248.3,2180.9 L1251.3,2178.3 L1254.3,2175.6 L1257.3,2173 L1260.2,2170.3 L1263.2,2167.6 L1266.2,2164.9 L1269.1,2162.2 L1272,2159.5 L1275,2156.7 L1277.9,2154 L1280.8,2151.3 L1283.7,2148.5 L1286.6,2145.7 L1289.4,2143 L1292.3,2140.2 L1295.1,2137.4 L1297.9,2134.5 L1300.8,2131.7 L1303.6,2128.9 L1306.4,2126 L1309.1,2123.2 L1311.9,2120.3 L1314.7,2117.4 L1317.4,2114.5 L1320.1,2111.6 L1322.8,2108.6 L1325.5,2105.7 L1328.2,2102.7 L1330.8,2099.8 L1333.5,2096.8 L1336.1,2093.8 L1338.7,2090.8 L1341.3,2087.7 L1343.9,2084.7 L1346.5,2081.6 L1349,2078.5 L1351.6,2075.4 L1354.1,2072.3 L1356.6,2069.2 L1359,2066.1 L1361.5,2062.9 L1363.9,2059.7 L1366.4,2056.5 L1368.8,2053.3 L1371.2,2050.1 L1373.5,2046.8 L1375.9,2043.6 L1378.2,2040.3 L1380.5,2037 L1382.8,2033.7 L1385.1,2030.3 L1387.3,2027 L1389.5,2023.6 L1391.7,2020.2 L1393.9,2016.8 L1393.7,2012.5 L1400,2007 L1410,2005.5 L1420,2008 L1427,2017 L1428,2028 L1426.2,2036 L1425.5,2040.2 L1423.1,2043.5 L1420.7,2046.7 L1418.3,2049.9 L1415.9,2053.2 L1413.4,2056.4 L1411,2059.6 L1408.5,2062.7 L1406.1,2065.9 L1403.6,2069.1 L1401.1,2072.2 L1398.6,2075.4 L1396.1,2078.5 L1393.5,2081.6 L1391,2084.7 L1388.4,2087.8 L1385.9,2090.9 L1383.3,2094 L1380.7,2097 L1378.1,2100.1 L1375.5,2103.1 L1372.9,2106.1 L1370.2,2109.1 L1367.6,2112.2 L1364.9,2115.2 L1362.2,2118.1 L1359.6,2121.1 L1356.9,2124.1 L1354.2,2127 L1351.5,2130 L1348.7,2132.9 L1346,2135.9 L1343.3,2138.8 L1340.5,2141.7 L1337.7,2144.6 L1335,2147.5 L1332.2,2150.4 L1329.4,2153.2 L1326.6,2156.1 L1323.8,2158.9 L1321,2161.8 L1318.2,2164.6 L1315.3,2167.5 L1312.5,2170.3 L1309.6,2173.1 L1306.8,2175.9 L1303.9,2178.7 L1301,2181.5 L1298.1,2184.2 L1295.2,2187 L1292.3,2189.8 L1289.4,2192.5 L1286.5,2195.3 L1283.5,2198 L1280.6,2200.7 L1277.7,2203.5 L1274.7,2206.2 L1271.8,2208.9 L1268.8,2211.6 L1265.8,2214.3 L1262.8,2216.9 L1259.9,2219.6 L1256.9,2222.3 L1253.9,2225 L1250.9,2227.6 L1247.8,2230.3 L1244.8,2232.9 L1241.8,2235.5 L1238.8,2238.2 L1235.7,2240.8 L1232.7,2243.4 L1229.6,2246 L1226.6,2248.6 L1223.5,2251.2 L1220.4,2253.8 L1217.4,2256.4 L1214.3,2259 L1211.2,2261.6 L1208.1,2264.1 L1205,2266.7 L1201.9,2269.3 L1198.8,2271.8 L1195.7,2274.4 L1192.6,2276.9 L1189.5,2279.4 L1186.3,2282 L1183.2,2284.5 L1180.1,2287 L1177,2289.5 L1173.8,2292.1 L1170.7,2294.6 L1167.5,2297.1 L1164.4,2299.6 L1161.2,2302.1 L1158.1,2304.5 L1154.9,2307 L1151.7,2309.5 L1148.6,2312 L1145.4,2314.5 L1142.2,2316.9 L1139.1,2319.4 L1135.9,2321.9 L1132.7,2324.3 L1129.5,2326.8 L1126.3,2329.2 L1123.2,2331.7 L1120,2334.1 L1116.8,2336.6 L1113.6,2339 L1110.4,2341.4 L1107.2,2343.9 L1104,2346.3 L1100.8,2348.7 L1097.6,2351.1 L1094.4,2353.6 L1091.2,2356 L1088,2358.4 L1084.8,2360.8 L1081.6,2363.2 L1078.3,2365.6 L1075.1,2368 L1071.9,2370.5 L1068.7,2372.9 L1065.5,2375.3 L1062.3,2377.7 L1059.1,2380.1 L1055.8,2382.5 L1052.6,2384.8 L1049.4,2387.2 L1046.2,2389.6 L1043,2392 L1039.7,2394.4 L1036.5,2396.8 L1033.3,2399.2 L1030.1,2401.6 L1026.9,2404 L1023.6,2406.4 L1020.4,2408.7 L1017.2,2411.1 L1014,2413.5 L1010.7,2415.9 L1007.5,2418.3 L1004.3,2420.7 L1001.1,2423 L997.9,2425.4 L994.6,2427.8 L991.4,2430.2 L988.2,2432.6 L985,2435 L981.7,2437.4 L978.5,2439.7 L975.3,2442.1 L972.1,2444.5 L968.9,2446.9 L965.6,2449.3 L962.4,2451.7 L959.2,2454.1 L956,2456.5 L952.8,2458.9 L949.6,2461.3 L946.4,2463.7 L943.2,2466.1 L939.9,2468.5 L936.7,2470.9 L933.5,2473.3 L930.3,2475.7 L927.1,2478.1 L923.9,2480.5 L920.7,2482.9 L917.5,2485.3 L914.3,2487.7 L911.1,2490.2 L907.9,2492.6 L904.7,2495 L901.5,2497.4 L898.4,2499.9 L895.2,2502.3 L892,2504.7 L888.8,2507.2 L885.6,2509.6 L882.4,2512.1 L879.3,2514.5 L876.1,2517 L872.9,2519.4 L869.8,2521.9 L866.6,2524.4 L863.4,2526.8 L860.3,2529.3 L857.1,2531.8 L854,2534.2 L850.8,2536.7 L847.7,2539.2 L844.5,2541.7 L841.4,2544.2 L838.2,2546.7 L835.1,2549.2 L832,2551.7 L828.8,2554.2 L825.7,2556.8 L822.6,2559.3 L819.5,2561.8 L816.3,2564.4 L813.2,2566.9 L810.1,2569.5 L807,2572 L803.9,2574.6 L800.8,2577.1 L797.7,2579.7 L794.7,2582.3 L791.6,2584.9 L788.6,2587.5 L785.5,2590.1 L782.5,2592.7 L779.4,2595.4 L776.4,2598 L773.4,2600.7 L770.4,2603.3 L767.4,2606 L764.5,2608.7 L761.5,2611.4 L758.6,2614.1 L755.6,2616.8 L752.7,2619.6 L749.8,2622.3 L747,2625.1 L744.1,2627.9 L741.2,2630.7 L738.4,2633.5 L735.6,2636.3 L732.8,2639.1 L730,2642 L727.3,2644.9 L724.6,2647.8 L721.8,2650.7 L719.2,2653.6 L716.5,2656.6 L713.8,2659.5 L711.2,2662.5 L708.6,2665.5 L706.1,2668.6 L703.5,2671.6 L701,2674.7 L698.5,2677.8 L696,2680.9 L693.6,2684 L691.2,2687.2 L688.8,2690.4 L686.4,2693.6 L684.1,2696.8 L681.8,2700 L679.5,2703.3 L677.3,2706.6 L675.1,2709.9 L672.9,2713.3 L670.7,2716.6 L668.6,2720 L666.5,2723.4 L664.4,2726.9 L662.4,2730.3 L660.4,2733.8 L658.4,2737.3 L656.4,2740.8 L654.5,2744.4 L652.6,2747.9 L650.7,2751.5 L648.8,2755 L646.9,2758.6 L645.1,2762.2 L643.2,2765.8 L641.4,2769.5 L639.6,2773.1 L637.8,2776.7 L636.1,2780.4 L634.3,2784 L632.5,2787.7 L630.8,2791.4 L629.1,2795.1 L627.3,2798.7 L625.6,2802.4 L623.9,2806.1 L622.2,2809.8 L620.5,2813.5 L618.8,2817.1 L617.1,2820.8 L615.4,2824.5 L613.7,2828.2 L612,2831.8 L610.3,2835.5 L608.6,2839.2 L606.9,2842.8 L605.2,2846.5 L603.5,2850.1 L601.8,2853.7 L600,2857.4 L598.3,2861 L596.6,2864.6 L594.8,2868.2 L593.1,2871.7 L591.3,2875.3 L589.6,2878.9 L587.8,2882.5 L586,2886 L584.3,2889.6 L582.5,2893.1 L580.7,2896.7 L578.9,2900.2 L577.2,2903.8 L575.4,2907.3 L573.6,2910.8 L571.8,2914.3 L570.1,2917.9 L568.3,2921.4 L566.5,2924.9 L564.7,2928.4 L562.9,2932 L561.2,2935.5 L559.4,2939 L557.6,2942.5 L555.8,2946 L554.1,2949.6 L552.3,2953.1 L550.5,2956.6 L548.8,2960.2 L547,2963.7 L545.3,2967.2 L543.5,2970.8 L541.8,2974.3 L540,2977.9 L538.3,2981.4 L536.6,2985 L534.9,2988.5 L533.2,2992.1 L531.4,2995.7 L529.7,2999.3 L528.1,3002.9 L526.4,3006.5 L524.7,3010.1 L523,3013.7 L521.3,3017.3 L519.6,3020.9 L517.8,3024.4 L516.1,3028 L514.3,3031.6 L512.6,3035.1 L510.8,3038.6 L508.9,3042.2 L507.1,3045.6 L505.1,3049.1 L503.2,3052.6 L501.2,3056 L499.2,3059.4 L497.1,3062.7 L495,3066 L492.8,3069.3 L490.6,3072.5 L488.3,3075.8 L486,3078.9 L483.6,3082.1 L481.2,3085.2 L478.7,3088.3 L476.2,3091.3 L473.6,3094.3 L471,3097.3 L468.4,3100.3 L465.7,3103.2 L463,3106.2 L460.3,3109.1 L457.5,3112 L454.8,3114.8 L452,3117.7 L449.1,3120.6 L446.3,3123.4 L443.4,3126.2 L440.5,3129 L437.6,3131.9 L434.7,3134.7 L431.8,3137.5 L428.9,3140.3 L426,3143.1 L423,3145.9 L420.1,3148.7 L417.2,3151.5 L414.3,3154.3 L411.3,3157.1 L408.4,3160 L405.5,3162.8 L402.6,3165.7 L399.8,3168.6 L396.9,3171.5 L395,3175 L362,3160 Z"/>
<path fill="#FF0000" d="M533,3091.6 L535,3087.6 L537.4,3084.5 L539.8,3081.4 L542.1,3078.2 L544.5,3075.1 L546.8,3071.9 L549.2,3068.7 L551.5,3065.5 L553.8,3062.2 L556.1,3059 L558.3,3055.7 L560.6,3052.5 L562.8,3049.2 L565.1,3045.9 L567.3,3042.6 L569.5,3039.3 L571.7,3036 L573.9,3032.7 L576.1,3029.3 L578.3,3026 L580.5,3022.6 L582.7,3019.3 L584.8,3015.9 L587,3012.5 L589.1,3009.1 L591.2,3005.7 L593.4,3002.3 L595.5,2998.9 L597.6,2995.5 L599.7,2992.1 L601.8,2988.6 L603.9,2985.2 L606,2981.8 L608.1,2978.3 L610.2,2974.9 L612.3,2971.4 L614.4,2968 L616.5,2964.5 L618.6,2961.1 L620.7,2957.6 L622.8,2954.2 L624.9,2950.7 L626.9,2947.2 L629,2943.8 L631.1,2940.3 L633.2,2936.8 L635.3,2933.4 L637.4,2929.9 L639.5,2926.5 L641.6,2923 L643.7,2919.5 L645.8,2916.1 L647.9,2912.6 L650,2909.2 L652.1,2905.7 L654.2,2902.3 L656.3,2898.9 L658.5,2895.4 L660.6,2892 L662.7,2888.6 L664.9,2885.2 L667.1,2881.8 L669.2,2878.4 L671.4,2875 L673.6,2871.6 L675.8,2868.2 L678,2864.8 L680.2,2861.5 L682.4,2858.1 L684.6,2854.8 L686.9,2851.4 L689.1,2848.1 L691.4,2844.8 L693.7,2841.5 L695.9,2838.2 L698.2,2834.9 L700.6,2831.6 L702.9,2828.3 L705.2,2825.1 L707.6,2821.8 L709.9,2818.6 L712.3,2815.4 L714.7,2812.2 L717.1,2809 L719.6,2805.9 L722,2802.7 L724.5,2799.6 L727,2796.4 L729.5,2793.3 L732,2790.3 L734.5,2787.2 L737.1,2784.1 L739.6,2781.1 L742.2,2778.1 L744.8,2775.1 L747.5,2772.1 L750.1,2769.1 L752.8,2766.2 L755.5,2763.2 L758.2,2760.3 L760.9,2757.4 L763.7,2754.5 L766.4,2751.7 L769.2,2748.8 L772,2746 L774.8,2743.1 L777.6,2740.3 L780.5,2737.5 L783.3,2734.8 L786.2,2732 L789.1,2729.2 L792,2726.5 L794.9,2723.8 L797.8,2721 L800.8,2718.3 L803.7,2715.6 L806.7,2713 L809.7,2710.3 L812.7,2707.6 L815.7,2705 L818.7,2702.3 L821.7,2699.7 L824.7,2697.1 L827.8,2694.5 L830.8,2691.9 L833.9,2689.3 L836.9,2686.7 L840,2684.1 L843.1,2681.5 L846.2,2678.9 L849.3,2676.4 L852.4,2673.8 L855.5,2671.3 L858.6,2668.7 L861.7,2666.2 L864.8,2663.6 L867.9,2661.1 L871.1,2658.6 L874.2,2656 L877.4,2653.5 L880.5,2651 L883.6,2648.5 L886.8,2646 L889.9,2643.5 L893.1,2640.9 L896.3,2638.4 L899.4,2635.9 L902.6,2633.4 L905.7,2630.9 L908.9,2628.4 L912,2625.9 L915.2,2623.4 L918.3,2620.9 L921.5,2618.4 L924.6,2615.8 L927.8,2613.3 L930.9,2610.8 L934.1,2608.3 L937.2,2605.8 L940.4,2603.2 L943.5,2600.7 L946.6,2598.2 L949.7,2595.6 L952.8,2593.1 L956,2590.5 L959.1,2588 L962.2,2585.4 L965.3,2582.8 L968.3,2580.3 L971.4,2577.7 L974.5,2575.1 L977.5,2572.5 L980.6,2569.9 L983.6,2567.3 L986.7,2564.6 L989.7,2562 L992.7,2559.4 L995.7,2556.7 L998.7,2554.1 L1001.7,2551.4 L1004.7,2548.7 L1007.6,2546 L1010.6,2543.3 L1013.5,2540.6 L1016.4,2537.9 L1019.3,2535.1 L1022.2,2532.4 L1025.1,2529.6 L1028,2526.9 L1030.8,2524.1 L1033.7,2521.3 L1036.5,2518.5 L1039.3,2515.6 L1042.1,2512.8 L1044.9,2509.9 L1047.7,2507.1 L1050.4,2504.2 L1053.2,2501.3 L1055.9,2498.4 L1058.6,2495.5 L1061.4,2492.6 L1064.1,2489.7 L1066.7,2486.8 L1069.4,2483.8 L1072.1,2480.9 L1074.7,2477.9 L1077.4,2474.9 L1080,2471.9 L1082.7,2468.9 L1085.3,2465.9 L1087.9,2462.9 L1090.5,2459.9 L1093,2456.8 L1095.6,2453.8 L1098.2,2450.7 L1100.7,2447.6 L1103.2,2444.6 L1105.8,2441.5 L1108.3,2438.4 L1110.8,2435.3 L1113.3,2432.1 L1115.8,2429 L1118.3,2425.9 L1120.7,2422.7 L1123.2,2419.6 L1125.6,2416.4 L1128.1,2413.3 L1130.5,2410.1 L1132.9,2406.9 L1135.4,2403.7 L1137.8,2400.5 L1140.2,2397.3 L1142.6,2394.1 L1144.9,2390.9 L1147.3,2387.6 L1149.7,2384.4 L1152,2381.1 L1154.4,2377.9 L1156.7,2374.6 L1159.1,2371.4 L1161.4,2368.1 L1163.7,2364.8 L1166,2361.5 L1168.3,2358.2 L1170.6,2354.9 L1172.9,2351.6 L1175.2,2348.3 L1177.5,2345 L1179.7,2341.6 L1182,2338.3 L1184.3,2334.9 L1186.5,2331.6 L1188.8,2328.2 L1191,2324.9 L1193.2,2321.5 L1195.4,2318.2 L1197.7,2314.8 L1199.9,2311.4 L1202.1,2308 L1204.3,2304.6 L1206.5,2301.2 L1208.7,2297.8 L1210.9,2294.4 L1213.1,2291 L1215.2,2287.6 L1217.4,2284.2 L1219.6,2280.7 L1221.8,2277.3 L1223.9,2273.9 L1226.1,2270.4 L1228.2,2267 L1230.4,2263.5 L1232.5,2260.1 L1234.7,2256.6 L1236.8,2253.2 L1238.9,2249.7 L1241.1,2246.2 L1243.2,2242.8 L1245.3,2239.3 L1247.4,2235.8 L1249.5,2232.3 L1251.6,2228.8 L1253.7,2225.4 L1255.7,2221.9 L1257.8,2218.4 L1259.8,2214.9 L1261.8,2211.3 L1263.8,2207.8 L1265.8,2204.3 L1267.8,2200.8 L1269.7,2197.2 L1271.6,2193.7 L1273.5,2190.2 L1275.3,2186.6 L1277.2,2183 L1279,2179.5 L1280.8,2175.9 L1282.5,2172.3 L1284.2,2168.7 L1285.9,2165.1 L1287.5,2161.5 L1289.1,2157.9 L1290.7,2154.3 L1292.2,2150.7 L1293.7,2147.1 L1295.2,2143.4 L1296.6,2139.8 L1298,2136.1 L1299.3,2132.4 L1300.6,2128.8 L1301.8,2125.1 L1303,2121.4 L1304.1,2117.7 L1305.2,2114 L1306.2,2110.2 L1307.2,2106.5 L1308.1,2102.8 L1308.9,2099 L1309.7,2095.3 L1310.5,2091.5 L1311.2,2087.7 L1311.8,2083.9 L1312.3,2080.1 L1312.8,2076.3 L1313.3,2072.5 L1313.6,2068.6 L1313.9,2064.8 L1314.2,2060.9 L1314.3,2057 L1314.4,2053.2 L1314.4,2049.3 L1314.4,2045.3 L1314.2,2041.4 L1314,2037.5 L1313.7,2033.5 L1306.6,2031.4 L1327.4,1996.2 L1347.7,2026 L1352,2029.1 L1353.2,2032.9 L1354.3,2036.8 L1355.2,2040.7 L1356,2044.6 L1356.6,2048.4 L1357.1,2052.3 L1357.5,2056.2 L1357.8,2060.1 L1357.9,2063.9 L1357.9,2067.8 L1357.8,2071.7 L1357.6,2075.5 L1357.3,2079.4 L1356.9,2083.2 L1356.5,2087.1 L1355.9,2090.9 L1355.2,2094.8 L1354.4,2098.6 L1353.6,2102.4 L1352.7,2106.2 L1351.7,2110.1 L1350.6,2113.9 L1349.5,2117.7 L1348.3,2121.5 L1347.1,2125.3 L1345.8,2129.1 L1344.5,2132.8 L1343.1,2136.6 L1341.7,2140.4 L1340.2,2144.1 L1338.7,2147.9 L1337.2,2151.6 L1335.6,2155.3 L1334.1,2159.1 L1332.5,2162.8 L1330.8,2166.5 L1329.2,2170.2 L1327.5,2173.9 L1325.8,2177.5 L1324,2181.2 L1322.3,2184.9 L1320.5,2188.5 L1318.7,2192.1 L1316.9,2195.8 L1315,2199.4 L1313.2,2203 L1311.3,2206.6 L1309.4,2210.2 L1307.5,2213.8 L1305.6,2217.4 L1303.6,2220.9 L1301.7,2224.5 L1299.7,2228 L1297.7,2231.5 L1295.7,2235.1 L1293.7,2238.6 L1291.7,2242.1 L1289.7,2245.6 L1287.6,2249 L1285.6,2252.5 L1283.5,2256 L1281.5,2259.4 L1279.4,2262.8 L1277.3,2266.3 L1275.3,2269.7 L1273.2,2273.1 L1271.1,2276.5 L1269,2279.8 L1266.9,2283.2 L1264.8,2286.6 L1262.7,2289.9 L1260.5,2293.3 L1258.4,2296.6 L1256.3,2300 L1254.1,2303.3 L1252,2306.6 L1249.8,2310 L1247.7,2313.3 L1245.5,2316.6 L1243.3,2319.9 L1241.1,2323.2 L1239,2326.5 L1236.8,2329.8 L1234.6,2333.1 L1232.4,2336.3 L1230.2,2339.6 L1227.9,2342.9 L1225.7,2346.2 L1223.5,2349.5 L1221.2,2352.7 L1219,2356 L1216.7,2359.3 L1214.5,2362.6 L1212.2,2365.8 L1210,2369.1 L1207.7,2372.4 L1205.4,2375.7 L1203.1,2379 L1200.8,2382.2 L1198.5,2385.5 L1196.2,2388.8 L1193.9,2392.1 L1191.5,2395.3 L1189.2,2398.6 L1186.9,2401.9 L1184.5,2405.1 L1182.1,2408.4 L1179.8,2411.6 L1177.4,2414.9 L1175,2418.1 L1172.6,2421.4 L1170.2,2424.6 L1167.7,2427.8 L1165.3,2431 L1162.9,2434.2 L1160.4,2437.4 L1157.9,2440.6 L1155.5,2443.8 L1153,2446.9 L1150.4,2450.1 L1147.9,2453.3 L1145.4,2456.4 L1142.9,2459.5 L1140.3,2462.6 L1137.7,2465.7 L1135.1,2468.8 L1132.5,2471.9 L1129.9,2474.9 L1127.3,2478 L1124.7,2481 L1122,2484 L1119.3,2487 L1116.6,2490 L1113.9,2493 L1111.2,2495.9 L1108.5,2498.9 L1105.7,2501.8 L1103,2504.7 L1100.2,2507.6 L1097.4,2510.4 L1094.6,2513.3 L1091.7,2516.1 L1088.9,2518.9 L1086.1,2521.8 L1083.2,2524.6 L1080.3,2527.3 L1077.5,2530.1 L1074.6,2532.9 L1071.7,2535.6 L1068.7,2538.4 L1065.8,2541.1 L1062.9,2543.8 L1060,2546.6 L1057,2549.3 L1054.1,2552 L1051.1,2554.7 L1048.1,2557.3 L1045.1,2560 L1042.2,2562.7 L1039.2,2565.4 L1036.2,2568 L1033.2,2570.7 L1030.2,2573.3 L1027.2,2576 L1024.2,2578.6 L1021.2,2581.3 L1018.2,2583.9 L1015.1,2586.6 L1012.1,2589.2 L1009.1,2591.8 L1006.1,2594.5 L1003.1,2597.1 L1000.1,2599.7 L997,2602.4 L994,2605 L991,2607.7 L988,2610.3 L985,2613 L982,2615.6 L979,2618.3 L976,2620.9 L973,2623.6 L969.9,2626.3 L966.9,2628.9 L963.9,2631.6 L960.9,2634.3 L957.9,2636.9 L954.9,2639.6 L952,2642.3 L949,2644.9 L946,2647.6 L943,2650.3 L940,2653 L937,2655.7 L934,2658.4 L931,2661.1 L928.1,2663.7 L925.1,2666.4 L922.1,2669.1 L919.1,2671.8 L916.2,2674.5 L913.2,2677.3 L910.2,2680 L907.3,2682.7 L904.3,2685.4 L901.4,2688.1 L898.4,2690.8 L895.4,2693.5 L892.5,2696.3 L889.6,2699 L886.6,2701.7 L883.7,2704.4 L880.7,2707.2 L877.8,2709.9 L874.9,2712.7 L871.9,2715.4 L869,2718.1 L866.1,2720.9 L863.1,2723.6 L860.2,2726.4 L857.3,2729.1 L854.4,2731.9 L851.5,2734.7 L848.6,2737.4 L845.7,2740.2 L842.8,2743 L839.9,2745.7 L837,2748.5 L834.1,2751.3 L831.2,2754.1 L828.4,2756.9 L825.5,2759.7 L822.6,2762.5 L819.8,2765.3 L816.9,2768.1 L814.1,2770.9 L811.2,2773.7 L808.4,2776.5 L805.6,2779.4 L802.8,2782.2 L800,2785.1 L797.2,2787.9 L794.4,2790.8 L791.6,2793.7 L788.8,2796.6 L786.1,2799.4 L783.3,2802.3 L780.6,2805.3 L777.9,2808.2 L775.2,2811.1 L772.5,2814 L769.8,2817 L767.1,2819.9 L764.4,2822.9 L761.8,2825.9 L759.1,2828.9 L756.5,2831.9 L753.9,2834.9 L751.3,2837.9 L748.7,2841 L746.1,2844 L743.6,2847.1 L741,2850.1 L738.5,2853.2 L736,2856.3 L733.5,2859.5 L731,2862.6 L728.5,2865.7 L726.1,2868.9 L723.7,2872.1 L721.2,2875.2 L718.9,2878.5 L716.5,2881.7 L714.1,2884.9 L711.8,2888.2 L709.5,2891.4 L707.2,2894.7 L704.9,2898 L702.6,2901.3 L700.4,2904.6 L698.1,2908 L695.9,2911.3 L693.7,2914.7 L691.5,2918.1 L689.3,2921.4 L687.1,2924.8 L685,2928.2 L682.8,2931.7 L680.7,2935.1 L678.5,2938.5 L676.4,2941.9 L674.3,2945.4 L672.1,2948.8 L670,2952.2 L667.9,2955.7 L665.8,2959.1 L663.7,2962.6 L661.6,2966 L659.5,2969.5 L657.4,2972.9 L655.3,2976.4 L653.1,2979.8 L651,2983.3 L648.9,2986.7 L646.8,2990.2 L644.7,2993.6 L642.5,2997 L640.4,3000.5 L638.2,3003.9 L636.1,3007.3 L633.9,3010.7 L631.7,3014.1 L629.5,3017.5 L627.3,3020.8 L625.1,3024.2 L622.9,3027.6 L620.6,3030.9 L618.3,3034.2 L616.1,3037.5 L613.8,3040.8 L611.4,3044.1 L609.1,3047.4 L606.8,3050.7 L604.4,3053.9 L602,3057.1 L599.6,3060.3 L597.1,3063.5 L594.7,3066.7 L592.2,3069.8 L589.7,3072.9 L587.1,3076 L584.5,3079.1 L581.9,3082.1 L579.3,3085.2 L576.7,3088.2 L575,3092 Z"/>
<path fill="#008000" d="M482,3279 L481.8,3274.7 L483.1,3271 L485.1,3267.8 L487.6,3265 L490.6,3262.6 L494,3260.4 L497.6,3258.4 L501.2,3256.6 L504.9,3254.9 L508.6,3253.3 L512.3,3251.8 L516,3250.3 L519.7,3248.8 L523.4,3247.3 L527,3245.8 L530.7,3244.3 L534.3,3242.7 L537.9,3241 L541.5,3239.1 L545,3237.1 L548.5,3235 L551.9,3232.7 L555.2,3230.2 L558.4,3227.6 L561.5,3224.8 L564.4,3221.9 L567.2,3218.9 L569.8,3215.7 L572.2,3212.4 L574.3,3209 L576.2,3205.5 L577.8,3201.9 L579.1,3198.1 L580.1,3194.3 L580.9,3190.4 L581.3,3186.5 L581.6,3182.5 L581.6,3178.4 L581.6,3174.3 L581.4,3170.2 L581.2,3166 L580.9,3161.9 L580.7,3157.8 L580.6,3153.7 L580.6,3149.7 L580.7,3145.7 L581,3141.7 L581.5,3137.9 L582.3,3134.1 L583.4,3130.4 L584.6,3126.8 L586.2,3123.3 L587.9,3119.9 L589.8,3116.5 L591.9,3113.2 L594.2,3110.1 L596.7,3107 L599.3,3104 L602.1,3101 L605,3098.2 L608,3095.4 L611.1,3092.8 L614.4,3090.2 L617.7,3087.7 L621.1,3085.3 L624.5,3083 L628,3080.7 L631.6,3078.6 L635.1,3076.5 L638.7,3074.5 L642.3,3072.7 L645.9,3070.8 L649.4,3069 L652.9,3067.2 L656.4,3065.4 L659.8,3063.5 L663.1,3061.5 L666.4,3059.4 L669.5,3057 L672.5,3054.5 L675.5,3051.8 L678.4,3049.1 L681.3,3046.2 L684.1,3043.3 L686.9,3040.3 L689.8,3037.4 L692.7,3034.6 L695.6,3031.7 L698.5,3029 L701.5,3026.2 L704.5,3023.6 L707.6,3020.9 L710.6,3018.3 L713.7,3015.7 L716.8,3013.2 L720,3010.7 L723.1,3008.2 L726.3,3005.7 L729.4,3003.2 L732.6,3000.8 L735.8,2998.4 L739,2995.9 L742.2,2993.5 L745.4,2991.1 L748.6,2988.7 L751.8,2986.3 L755,2983.9 L758.2,2981.4 L761.4,2979 L764.5,2976.5 L767.7,2974.1 L770.8,2971.6 L774,2969.1 L777.1,2966.6 L780.2,2964.1 L783.3,2961.5 L786.4,2959 L789.5,2956.4 L792.6,2953.9 L795.6,2951.3 L798.7,2948.7 L801.8,2946.1 L804.8,2943.5 L807.8,2940.9 L810.9,2938.2 L813.9,2935.6 L816.9,2933 L819.9,2930.3 L822.9,2927.7 L825.9,2925 L828.9,2922.3 L831.9,2919.7 L834.9,2917 L837.9,2914.3 L840.9,2911.6 L843.9,2908.9 L846.8,2906.2 L849.8,2903.5 L852.8,2900.8 L855.8,2898.1 L858.7,2895.4 L861.7,2892.7 L864.6,2889.9 L867.6,2887.2 L870.6,2884.5 L873.5,2881.8 L876.5,2879.1 L879.4,2876.4 L882.4,2873.6 L885.4,2870.9 L888.3,2868.2 L891.3,2865.5 L894.3,2862.8 L897.2,2860.1 L900.2,2857.4 L903.2,2854.7 L906.2,2852 L909.1,2849.3 L912.1,2846.6 L915.1,2843.9 L918.1,2841.3 L921.1,2838.6 L924.1,2835.9 L927.1,2833.3 L930.1,2830.6 L933.2,2828 L936.2,2825.3 L939.2,2822.7 L942.3,2820.1 L945.3,2817.5 L948.4,2814.9 L951.4,2812.3 L954.5,2809.7 L957.6,2807.1 L960.6,2804.6 L963.7,2802 L966.8,2799.5 L970,2797 L973.1,2794.5 L976.2,2792 L979.4,2789.5 L982.5,2787 L985.7,2784.5 L988.9,2782.1 L992.1,2779.7 L995.3,2777.3 L998.5,2774.9 L1001.7,2772.5 L1004.9,2770.1 L1008.2,2767.8 L1011.4,2765.4 L1014.7,2763.1 L1018,2760.7 L1021.3,2758.4 L1024.5,2756.1 L1027.8,2753.8 L1031.1,2751.5 L1034.4,2749.2 L1037.7,2746.9 L1041,2744.7 L1044.3,2742.4 L1047.6,2740.1 L1051,2737.8 L1054.3,2735.5 L1057.6,2733.3 L1060.9,2731 L1064.2,2728.7 L1067.5,2726.4 L1070.8,2724.1 L1074.1,2721.8 L1077.4,2719.5 L1080.6,2717.2 L1083.9,2714.9 L1087.2,2712.5 L1090.4,2710.2 L1093.7,2707.9 L1096.9,2705.5 L1100.1,2703.1 L1103.4,2700.7 L1106.6,2698.3 L1109.8,2695.9 L1112.9,2693.5 L1116.1,2691 L1119.3,2688.5 L1122.4,2686.1 L1125.5,2683.6 L1128.7,2681.1 L1131.8,2678.6 L1134.9,2676 L1138,2673.5 L1141,2670.9 L1144.1,2668.4 L1147.2,2665.8 L1150.2,2663.2 L1153.3,2660.6 L1156.3,2657.9 L1159.3,2655.3 L1162.3,2652.7 L1165.3,2650 L1168.3,2647.3 L1171.3,2644.6 L1174.2,2642 L1177.2,2639.2 L1180.1,2636.5 L1183.1,2633.8 L1186,2631.1 L1188.9,2628.3 L1191.8,2625.6 L1194.7,2622.8 L1197.6,2620 L1200.5,2617.2 L1203.3,2614.4 L1206.2,2611.6 L1209,2608.8 L1211.9,2605.9 L1214.7,2603.1 L1217.5,2600.2 L1220.3,2597.3 L1223.1,2594.5 L1225.9,2591.6 L1228.7,2588.7 L1231.4,2585.8 L1234.2,2582.8 L1236.9,2579.9 L1239.7,2577 L1242.4,2574 L1245.1,2571 L1247.8,2568.1 L1250.5,2565.1 L1253.1,2562.1 L1255.8,2559.1 L1258.5,2556.1 L1261.1,2553.1 L1263.7,2550 L1266.4,2547 L1269,2544 L1271.6,2540.9 L1274.1,2537.8 L1276.7,2534.8 L1279.3,2531.7 L1281.8,2528.6 L1284.4,2525.5 L1286.9,2522.3 L1289.4,2519.2 L1291.9,2516.1 L1294.4,2512.9 L1296.9,2509.8 L1299.4,2506.6 L1301.8,2503.5 L1304.2,2500.3 L1306.7,2497.1 L1309.1,2493.9 L1311.5,2490.7 L1313.9,2487.5 L1316.2,2484.3 L1318.6,2481 L1320.9,2477.8 L1323.2,2474.5 L1325.5,2471.2 L1327.8,2468 L1330,2464.7 L1332.2,2461.3 L1334.4,2458 L1336.5,2454.7 L1338.6,2451.3 L1340.7,2447.9 L1342.7,2444.5 L1344.7,2441.1 L1346.6,2437.6 L1348.5,2434.2 L1350.4,2430.7 L1352.2,2427.2 L1354,2423.7 L1355.7,2420.1 L1357.5,2416.6 L1359.2,2413 L1360.9,2409.4 L1362.7,2405.9 L1364.4,2402.3 L1366.2,2398.8 L1368.1,2395.3 L1370,2391.8 L1371.9,2388.3 L1373.9,2384.8 L1375.9,2381.3 L1377.8,2377.8 L1379.8,2374.3 L1381.8,2370.8 L1383.7,2367.3 L1385.6,2363.7 L1387.4,2360.2 L1389.2,2356.6 L1391,2353 L1392.7,2349.3 L1394.3,2345.7 L1396,2342 L1397.5,2338.3 L1399.1,2334.6 L1400.6,2330.9 L1402.1,2327.2 L1403.6,2323.5 L1405,2319.7 L1406.4,2316 L1407.9,2312.2 L1409.3,2308.4 L1410.6,2304.7 L1412,2300.9 L1413.4,2297.1 L1414.8,2293.4 L1416.2,2289.6 L1417.6,2285.8 L1419,2282.1 L1420.4,2278.3 L1421.8,2274.6 L1423.3,2270.9 L1424.8,2267.2 L1426.3,2263.5 L1427.8,2259.8 L1429.4,2256.1 L1431,2252.5 L1432.6,2248.8 L1434.3,2245.2 L1436,2241.6 L1437.8,2238.1 L1439.6,2234.5 L1441.5,2231 L1443.5,2227.5 L1445.4,2224.1 L1447.5,2220.7 L1449.5,2217.2 L1451.5,2213.8 L1453.5,2210.3 L1455.5,2206.9 L1457.4,2203.4 L1459.2,2199.9 L1460.9,2196.3 L1462.5,2192.7 L1464,2189.1 L1465.4,2185.4 L1466.8,2181.7 L1468,2178 L1469.1,2174.3 L1470.1,2170.6 L1471,2166.9 L1471.9,2163.3 L1472.7,2159.7 L1473.7,2156.1 L1474.8,2152.7 L1476.2,2149.4 L1477.8,2146.2 L1479.7,2143.1 L1482,2140.2 L1484.6,2137.5 L1487.3,2134.7 L1490.2,2131.9 L1493.1,2129 L1494.9,2125.4 L1497.5,2122.8 L1535.5,2122.8 L1519.4,2138.9 L1518.9,2142.8 L1518.6,2146.8 L1518.2,2150.8 L1517.8,2154.8 L1517.4,2158.8 L1516.9,2162.8 L1516.4,2166.9 L1515.8,2170.9 L1515.1,2174.8 L1514.3,2178.8 L1513.4,2182.7 L1512.3,2186.6 L1511.1,2190.4 L1509.8,2194.1 L1508.4,2197.8 L1506.8,2201.5 L1505.2,2205.1 L1503.4,2208.7 L1501.6,2212.2 L1499.7,2215.8 L1497.7,2219.3 L1495.7,2222.7 L1493.6,2226.2 L1491.5,2229.6 L1489.4,2233.1 L1487.3,2236.5 L1485.1,2239.9 L1483,2243.3 L1480.9,2246.8 L1478.8,2250.2 L1476.7,2253.7 L1474.8,2257.2 L1472.9,2260.7 L1471.1,2264.3 L1469.3,2267.9 L1467.7,2271.5 L1466.2,2275.2 L1464.9,2278.9 L1463.6,2282.7 L1462.3,2286.5 L1461.1,2290.2 L1459.9,2294 L1458.6,2297.8 L1457.3,2301.6 L1456,2305.4 L1454.7,2309.1 L1453.3,2312.9 L1452,2316.6 L1450.5,2320.4 L1449.1,2324.1 L1447.6,2327.8 L1446.1,2331.5 L1444.6,2335.2 L1443.1,2338.9 L1441.5,2342.6 L1439.9,2346.2 L1438.3,2349.9 L1436.7,2353.6 L1435,2357.2 L1433.3,2360.8 L1431.6,2364.5 L1429.9,2368.1 L1428.2,2371.7 L1426.4,2375.3 L1424.6,2378.9 L1422.8,2382.5 L1421,2386.1 L1419.2,2389.7 L1417.3,2393.2 L1415.5,2396.8 L1413.6,2400.3 L1411.7,2403.9 L1409.8,2407.4 L1407.8,2410.9 L1405.9,2414.4 L1403.9,2418 L1402,2421.5 L1400,2425 L1398,2428.5 L1396,2431.9 L1394,2435.4 L1391.9,2438.9 L1389.9,2442.3 L1387.8,2445.8 L1385.8,2449.2 L1383.7,2452.7 L1381.6,2456.1 L1379.6,2459.6 L1377.5,2463 L1375.4,2466.4 L1373.2,2469.8 L1371.1,2473.2 L1369,2476.6 L1366.8,2480 L1364.7,2483.3 L1362.5,2486.7 L1360.3,2490.1 L1358.1,2493.4 L1355.9,2496.7 L1353.7,2500.1 L1351.5,2503.4 L1349.2,2506.7 L1347,2510 L1344.7,2513.3 L1342.4,2516.6 L1340.1,2519.9 L1337.8,2523.1 L1335.5,2526.4 L1333.2,2529.6 L1330.8,2532.9 L1328.5,2536.1 L1326.1,2539.3 L1323.7,2542.5 L1321.3,2545.7 L1318.9,2548.9 L1316.5,2552 L1314,2555.2 L1311.6,2558.4 L1309.1,2561.5 L1306.6,2564.6 L1304.1,2567.7 L1301.6,2570.8 L1299,2573.9 L1296.5,2577 L1293.9,2580.1 L1291.3,2583.1 L1288.7,2586.1 L1286.1,2589.2 L1283.4,2592.2 L1280.8,2595.2 L1278.1,2598.2 L1275.5,2601.2 L1272.8,2604.1 L1270,2607.1 L1267.3,2610 L1264.6,2613 L1261.8,2615.9 L1259.1,2618.8 L1256.3,2621.7 L1253.5,2624.5 L1250.7,2627.4 L1247.9,2630.3 L1245,2633.1 L1242.2,2635.9 L1239.3,2638.8 L1236.4,2641.6 L1233.6,2644.4 L1230.7,2647.2 L1227.8,2649.9 L1224.8,2652.7 L1221.9,2655.4 L1219,2658.2 L1216,2660.9 L1213.1,2663.6 L1210.1,2666.3 L1207.1,2669 L1204.1,2671.7 L1201.1,2674.3 L1198.1,2677 L1195.1,2679.6 L1192,2682.2 L1189,2684.9 L1185.9,2687.5 L1182.9,2690 L1179.8,2692.6 L1176.7,2695.2 L1173.7,2697.7 L1170.6,2700.3 L1167.5,2702.8 L1164.4,2705.3 L1161.2,2707.9 L1158.1,2710.4 L1155,2712.8 L1151.8,2715.3 L1148.7,2717.8 L1145.5,2720.2 L1142.4,2722.7 L1139.2,2725.1 L1136,2727.5 L1132.8,2730 L1129.7,2732.4 L1126.5,2734.8 L1123.2,2737.1 L1120,2739.5 L1116.8,2741.9 L1113.6,2744.3 L1110.4,2746.6 L1107.1,2749 L1103.9,2751.3 L1100.6,2753.6 L1097.3,2755.9 L1094.1,2758.2 L1090.8,2760.5 L1087.5,2762.8 L1084.2,2765.1 L1080.9,2767.4 L1077.6,2769.7 L1074.3,2772 L1071,2774.2 L1067.7,2776.5 L1064.4,2778.7 L1061.1,2781 L1057.7,2783.2 L1054.4,2785.4 L1051.1,2787.6 L1047.7,2789.9 L1044.4,2792.1 L1041.1,2794.3 L1037.7,2796.6 L1034.4,2798.8 L1031.1,2801.1 L1027.8,2803.3 L1024.5,2805.6 L1021.2,2807.9 L1017.9,2810.2 L1014.6,2812.5 L1011.4,2814.9 L1008.2,2817.2 L1005,2819.6 L1001.8,2822 L998.6,2824.5 L995.5,2826.9 L992.4,2829.4 L989.3,2831.9 L986.2,2834.5 L983.2,2837.1 L980.2,2839.7 L977.3,2842.4 L974.3,2845.1 L971.4,2847.8 L968.5,2850.6 L965.7,2853.4 L962.9,2856.2 L960,2859.1 L957.2,2861.9 L954.5,2864.8 L951.7,2867.7 L948.9,2870.6 L946.2,2873.6 L943.5,2876.5 L940.7,2879.4 L938,2882.4 L935.3,2885.3 L932.6,2888.3 L929.8,2891.3 L927.1,2894.2 L924.4,2897.1 L921.6,2900.1 L918.9,2903 L916.1,2905.9 L913.3,2908.8 L910.5,2911.7 L907.7,2914.5 L904.8,2917.4 L902,2920.2 L899.1,2923 L896.2,2925.7 L893.2,2928.5 L890.2,2931.1 L887.2,2933.8 L884.2,2936.4 L881.1,2939 L878,2941.5 L874.8,2944 L871.6,2946.5 L868.4,2948.9 L865.1,2951.3 L861.9,2953.6 L858.6,2955.9 L855.2,2958.2 L851.9,2960.5 L848.5,2962.7 L845.1,2964.9 L841.7,2967.1 L838.2,2969.2 L834.8,2971.3 L831.3,2973.4 L827.9,2975.5 L824.4,2977.5 L820.9,2979.5 L817.4,2981.6 L814,2983.6 L810.6,2985.7 L807.2,2987.9 L803.9,2990.2 L800.7,2992.5 L797.6,2995 L794.6,2997.6 L791.8,3000.4 L789,3003.3 L786.4,3006.3 L783.8,3009.5 L781.3,3012.7 L778.9,3016 L776.5,3019.4 L774.1,3022.7 L771.8,3026.1 L769.4,3029.5 L767.1,3032.9 L764.7,3036.2 L762.2,3039.4 L759.7,3042.5 L757.1,3045.6 L754.5,3048.5 L751.7,3051.2 L748.8,3053.8 L745.7,3056.2 L742.6,3058.5 L739.4,3060.7 L736.1,3062.7 L732.7,3064.7 L729.3,3066.6 L725.8,3068.5 L722.3,3070.3 L718.7,3072 L715.1,3073.8 L711.4,3075.5 L707.8,3077.3 L704.2,3079.1 L700.5,3080.9 L696.9,3082.8 L693.3,3084.7 L689.7,3086.7 L686.1,3088.8 L682.6,3090.9 L679.2,3093.1 L675.8,3095.3 L672.4,3097.6 L669.1,3100 L665.9,3102.5 L662.8,3105 L659.8,3107.5 L656.9,3110.2 L654,3112.9 L651.3,3115.7 L648.7,3118.6 L646.2,3121.6 L643.9,3124.6 L641.7,3127.7 L639.6,3130.9 L637.7,3134.2 L635.9,3137.6 L634.3,3141.1 L632.9,3144.6 L631.7,3148.3 L630.6,3152 L629.7,3155.9 L629,3159.8 L628.4,3163.7 L627.8,3167.7 L627.4,3171.8 L627.1,3175.9 L626.7,3180 L626.4,3184.2 L626.1,3188.3 L625.8,3192.4 L625.5,3196.6 L625.1,3200.7 L624.6,3204.8 L624,3208.8 L623.3,3212.8 L622.5,3216.7 L621.5,3220.5 L620.3,3224.3 L618.9,3227.9 L617.3,3231.5 L615.5,3235 L613.4,3238.3 L611,3241.5 L608.4,3244.6 L605.6,3247.6 L602.6,3250.4 L599.4,3253.2 L596.1,3255.9 L592.7,3258.5 L589.3,3261 L585.9,3263.5 L582.5,3265.9 L579.1,3268.2 L575.8,3270.5 L572.7,3272.8 L569.7,3275.1 L566.8,3277.3 L563.4,3279 Z"/>
<path fill="#0000FF" d="M700,3034 L702.4,3030.1 L706.1,3028.5 L709.8,3027 L713.5,3025.6 L717.2,3024.1 L720.9,3022.7 L724.7,3021.3 L728.5,3019.9 L732.3,3018.6 L736,3017.2 L739.9,3015.9 L743.7,3014.5 L747.5,3013.2 L751.3,3011.9 L755.2,3010.6 L759,3009.3 L762.8,3008 L766.7,3006.7 L770.5,3005.4 L774.4,3004.1 L778.2,3002.8 L782.1,3001.5 L785.9,3000.2 L789.8,2998.9 L793.6,2997.5 L797.4,2996.2 L801.2,2994.8 L805,2993.5 L808.8,2992.1 L812.6,2990.7 L816.4,2989.2 L820.1,2987.8 L823.9,2986.3 L827.6,2984.8 L831.3,2983.3 L835,2981.7 L838.7,2980.1 L842.3,2978.5 L845.9,2976.8 L849.5,2975.1 L853.1,2973.4 L856.7,2971.6 L860.2,2969.8 L863.7,2968 L867.1,2966.1 L870.6,2964.1 L874,2962.1 L877.3,2960.1 L880.7,2958 L884,2955.9 L887.3,2953.7 L890.6,2951.5 L893.8,2949.3 L897,2947 L900.2,2944.7 L903.4,2942.3 L906.5,2940 L909.7,2937.6 L912.8,2935.1 L915.9,2932.7 L919,2930.2 L922,2927.7 L925.1,2925.2 L928.2,2922.6 L931.2,2920.1 L934.2,2917.5 L937.2,2914.9 L940.3,2912.3 L943.3,2909.7 L946.3,2907.1 L949.3,2904.4 L952.3,2901.8 L955.3,2899.1 L958.2,2896.5 L961.2,2893.8 L964.2,2891.2 L967.2,2888.5 L970.2,2885.9 L973.3,2883.2 L976.3,2880.6 L979.3,2877.9 L982.3,2875.3 L985.4,2872.7 L988.4,2870.1 L991.5,2867.5 L994.5,2864.9 L997.6,2862.3 L1000.7,2859.7 L1003.8,2857.1 L1006.9,2854.5 L1010,2852 L1013.1,2849.4 L1016.2,2846.9 L1019.3,2844.3 L1022.5,2841.8 L1025.6,2839.3 L1028.7,2836.7 L1031.9,2834.2 L1035,2831.7 L1038.2,2829.2 L1041.3,2826.7 L1044.5,2824.2 L1047.6,2821.7 L1050.8,2819.2 L1054,2816.7 L1057.1,2814.2 L1060.3,2811.7 L1063.5,2809.2 L1066.7,2806.7 L1069.8,2804.2 L1073,2801.8 L1076.2,2799.3 L1079.4,2796.8 L1082.6,2794.3 L1085.8,2791.9 L1088.9,2789.4 L1092.1,2786.9 L1095.3,2784.4 L1098.5,2781.9 L1101.7,2779.5 L1104.8,2777 L1108,2774.5 L1111.2,2772 L1114.4,2769.5 L1117.5,2767 L1120.7,2764.6 L1123.9,2762.1 L1127,2759.6 L1130.2,2757.1 L1133.3,2754.6 L1136.5,2752.1 L1139.6,2749.6 L1142.8,2747 L1145.9,2744.5 L1149,2742 L1152.2,2739.5 L1155.3,2737 L1158.4,2734.4 L1161.5,2731.9 L1164.6,2729.3 L1167.7,2726.8 L1170.8,2724.2 L1173.9,2721.6 L1177,2719.1 L1180,2716.5 L1183.1,2713.9 L1186.1,2711.3 L1189.2,2708.7 L1192.2,2706.1 L1195.2,2703.5 L1198.2,2700.8 L1201.2,2698.2 L1204.2,2695.6 L1207.2,2692.9 L1210.2,2690.2 L1213.1,2687.6 L1216.1,2684.9 L1219,2682.2 L1222,2679.5 L1224.9,2676.7 L1227.8,2674 L1230.7,2671.3 L1233.6,2668.5 L1236.4,2665.8 L1239.3,2663 L1242.1,2660.2 L1244.9,2657.4 L1247.8,2654.6 L1250.5,2651.7 L1253.3,2648.9 L1256.1,2646 L1258.9,2643.2 L1261.6,2640.3 L1264.3,2637.4 L1267,2634.5 L1269.7,2631.5 L1272.4,2628.6 L1275,2625.6 L1277.7,2622.7 L1280.3,2619.7 L1282.9,2616.7 L1285.5,2613.7 L1288.1,2610.6 L1290.7,2607.6 L1293.2,2604.5 L1295.8,2601.5 L1298.3,2598.4 L1300.8,2595.3 L1303.3,2592.2 L1305.8,2589.1 L1308.2,2585.9 L1310.7,2582.8 L1313.1,2579.6 L1315.6,2576.5 L1318,2573.3 L1320.4,2570.1 L1322.8,2566.9 L1325.1,2563.7 L1327.5,2560.5 L1329.9,2557.2 L1332.2,2554 L1334.5,2550.7 L1336.8,2547.5 L1339.1,2544.2 L1341.4,2540.9 L1343.7,2537.6 L1345.9,2534.3 L1348.2,2531 L1350.4,2527.6 L1352.6,2524.3 L1354.9,2521 L1357.1,2517.6 L1359.3,2514.2 L1361.4,2510.9 L1363.6,2507.5 L1365.8,2504.1 L1367.9,2500.7 L1370.1,2497.3 L1372.2,2493.9 L1374.3,2490.5 L1376.4,2487 L1378.5,2483.6 L1380.6,2480.2 L1382.7,2476.7 L1384.7,2473.3 L1386.8,2469.8 L1388.8,2466.3 L1390.9,2462.9 L1392.9,2459.4 L1394.9,2455.9 L1396.9,2452.4 L1398.9,2448.9 L1400.9,2445.4 L1402.9,2441.9 L1404.9,2438.4 L1406.8,2434.8 L1408.8,2431.3 L1410.7,2427.8 L1412.7,2424.2 L1414.6,2420.7 L1416.5,2417.2 L1418.5,2413.6 L1420.4,2410.1 L1422.3,2406.5 L1424.2,2402.9 L1426.1,2399.4 L1427.9,2395.8 L1429.8,2392.2 L1431.7,2388.7 L1433.5,2385.1 L1435.4,2381.5 L1437.2,2377.9 L1439.1,2374.3 L1440.9,2370.7 L1442.7,2367.2 L1444.5,2363.6 L1446.3,2359.9 L1448.1,2356.3 L1449.9,2352.7 L1451.7,2349.1 L1453.4,2345.5 L1455.2,2341.9 L1456.9,2338.2 L1458.6,2334.6 L1460.3,2331 L1462,2327.3 L1463.7,2323.7 L1465.4,2320 L1467,2316.4 L1468.7,2312.7 L1470.3,2309 L1471.9,2305.4 L1473.5,2301.7 L1475.1,2298 L1476.6,2294.3 L1478.2,2290.6 L1479.7,2286.9 L1481.2,2283.2 L1482.7,2279.5 L1484.2,2275.8 L1485.6,2272 L1487.1,2268.3 L1488.5,2264.6 L1489.9,2260.8 L1491.2,2257.1 L1492.6,2253.3 L1493.9,2249.5 L1495.3,2245.7 L1496.5,2242 L1497.8,2238.2 L1499.1,2234.4 L1500.3,2230.6 L1501.5,2226.8 L1502.7,2222.9 L1503.8,2219.1 L1505,2215.3 L1506.1,2211.4 L1507.1,2207.6 L1508.2,2203.7 L1509.2,2199.8 L1510.2,2196 L1511.2,2192.1 L1512.2,2188.2 L1513.1,2184.3 L1514,2180.4 L1514.9,2176.4 L1515.7,2172.5 L1516.5,2168.6 L1517.3,2164.6 L1518.1,2160.6 L1518.8,2156.7 L1519.5,2152.7 L1520.2,2148.7 L1520.8,2144.7 L1520.3,2140.6 L1520.3,2137.2 L1549,2112.7 L1571.9,2135.5 L1566.8,2142.3 L1568.8,2147.3 L1567.8,2151.1 L1566.8,2155 L1565.8,2158.8 L1564.8,2162.6 L1563.8,2166.5 L1562.8,2170.3 L1561.7,2174.1 L1560.6,2177.9 L1559.6,2181.7 L1558.5,2185.6 L1557.4,2189.4 L1556.3,2193.2 L1555.1,2197 L1554,2200.8 L1552.8,2204.6 L1551.7,2208.5 L1550.5,2212.3 L1549.3,2216.1 L1548.1,2219.9 L1546.9,2223.7 L1545.7,2227.5 L1544.5,2231.3 L1543.2,2235.1 L1542,2238.9 L1540.7,2242.6 L1539.4,2246.4 L1538.1,2250.2 L1536.8,2254 L1535.5,2257.8 L1534.2,2261.5 L1532.8,2265.3 L1531.5,2269.1 L1530.1,2272.9 L1528.7,2276.6 L1527.4,2280.4 L1526,2284.1 L1524.5,2287.9 L1523.1,2291.6 L1521.7,2295.4 L1520.2,2299.1 L1518.8,2302.9 L1517.3,2306.6 L1515.8,2310.3 L1514.3,2314 L1512.8,2317.8 L1511.3,2321.5 L1509.7,2325.2 L1508.2,2328.9 L1506.6,2332.6 L1505.1,2336.3 L1503.5,2340 L1501.9,2343.7 L1500.3,2347.4 L1498.7,2351.1 L1497,2354.7 L1495.4,2358.4 L1493.8,2362.1 L1492.1,2365.7 L1490.4,2369.4 L1488.7,2373 L1487,2376.7 L1485.3,2380.3 L1483.6,2384 L1481.8,2387.6 L1480.1,2391.2 L1478.3,2394.8 L1476.6,2398.5 L1474.8,2402.1 L1473,2405.7 L1471.2,2409.3 L1469.3,2412.8 L1467.5,2416.4 L1465.7,2420 L1463.8,2423.6 L1461.9,2427.1 L1460,2430.7 L1458.1,2434.2 L1456.2,2437.8 L1454.3,2441.3 L1452.4,2444.8 L1450.4,2448.4 L1448.5,2451.9 L1446.5,2455.4 L1444.5,2458.9 L1442.6,2462.4 L1440.5,2465.9 L1438.5,2469.3 L1436.5,2472.8 L1434.5,2476.3 L1432.4,2479.7 L1430.3,2483.2 L1428.3,2486.6 L1426.2,2490.1 L1424.1,2493.5 L1422,2496.9 L1419.8,2500.3 L1417.7,2503.7 L1415.6,2507.1 L1413.4,2510.5 L1411.2,2513.9 L1409,2517.3 L1406.8,2520.6 L1404.6,2524 L1402.4,2527.3 L1400.2,2530.6 L1397.9,2534 L1395.7,2537.3 L1393.4,2540.6 L1391.1,2543.9 L1388.8,2547.2 L1386.5,2550.5 L1384.2,2553.7 L1381.9,2557 L1379.5,2560.2 L1377.2,2563.5 L1374.8,2566.7 L1372.4,2570 L1370,2573.2 L1367.6,2576.4 L1365.2,2579.6 L1362.8,2582.7 L1360.4,2585.9 L1357.9,2589.1 L1355.4,2592.2 L1353,2595.4 L1350.5,2598.5 L1348,2601.6 L1345.5,2604.8 L1342.9,2607.9 L1340.4,2611 L1337.9,2614 L1335.3,2617.1 L1332.7,2620.2 L1330.1,2623.2 L1327.6,2626.3 L1324.9,2629.3 L1322.3,2632.3 L1319.7,2635.3 L1317,2638.3 L1314.4,2641.3 L1311.7,2644.2 L1309,2647.2 L1306.3,2650.1 L1303.6,2653.1 L1300.9,2656 L1298.2,2658.9 L1295.4,2661.8 L1292.7,2664.7 L1289.9,2667.6 L1287.2,2670.5 L1284.4,2673.3 L1281.6,2676.2 L1278.8,2679 L1276,2681.8 L1273.1,2684.7 L1270.3,2687.5 L1267.4,2690.2 L1264.6,2693 L1261.7,2695.8 L1258.8,2698.6 L1255.9,2701.3 L1253,2704.1 L1250.1,2706.8 L1247.2,2709.5 L1244.2,2712.2 L1241.3,2714.9 L1238.4,2717.6 L1235.4,2720.3 L1232.4,2722.9 L1229.4,2725.6 L1226.4,2728.2 L1223.4,2730.9 L1220.4,2733.5 L1217.4,2736.1 L1214.4,2738.7 L1211.3,2741.3 L1208.3,2743.9 L1205.2,2746.5 L1202.2,2749 L1199.1,2751.6 L1196,2754.1 L1192.9,2756.7 L1189.8,2759.2 L1186.7,2761.7 L1183.6,2764.2 L1180.5,2766.7 L1177.3,2769.2 L1174.2,2771.7 L1171.1,2774.1 L1167.9,2776.6 L1164.7,2779.1 L1161.6,2781.5 L1158.4,2784 L1155.2,2786.4 L1152.1,2788.8 L1148.9,2791.3 L1145.7,2793.7 L1142.5,2796.1 L1139.3,2798.6 L1136.2,2801 L1133,2803.4 L1129.8,2805.8 L1126.6,2808.3 L1123.4,2810.7 L1120.2,2813.1 L1117,2815.5 L1113.8,2817.9 L1110.6,2820.4 L1107.4,2822.8 L1104.2,2825.2 L1101,2827.6 L1097.8,2830.1 L1094.6,2832.5 L1091.5,2835 L1088.3,2837.4 L1085.1,2839.9 L1081.9,2842.3 L1078.8,2844.8 L1075.6,2847.3 L1072.4,2849.7 L1069.3,2852.2 L1066.1,2854.7 L1063,2857.2 L1059.9,2859.7 L1056.7,2862.3 L1053.6,2864.8 L1050.5,2867.3 L1047.4,2869.9 L1044.3,2872.4 L1041.2,2875 L1038.1,2877.6 L1035.1,2880.2 L1032,2882.8 L1029,2885.5 L1025.9,2888.1 L1022.9,2890.7 L1019.9,2893.4 L1016.8,2896 L1013.8,2898.7 L1010.8,2901.3 L1007.8,2904 L1004.8,2906.7 L1001.8,2909.3 L998.7,2912 L995.7,2914.6 L992.7,2917.3 L989.7,2919.9 L986.7,2922.5 L983.6,2925.1 L980.6,2927.7 L977.5,2930.3 L974.5,2932.9 L971.4,2935.5 L968.3,2938 L965.3,2940.5 L962.2,2943 L959.1,2945.5 L955.9,2947.9 L952.8,2950.4 L949.6,2952.8 L946.5,2955.1 L943.3,2957.5 L940.1,2959.8 L936.9,2962 L933.6,2964.3 L930.4,2966.5 L927.1,2968.7 L923.8,2970.8 L920.4,2972.9 L917.1,2974.9 L913.7,2976.9 L910.3,2978.9 L906.8,2980.8 L903.4,2982.7 L899.9,2984.5 L896.4,2986.3 L892.8,2988 L889.2,2989.7 L885.6,2991.3 L881.9,2992.8 L878.2,2994.3 L874.5,2995.8 L870.8,2997.2 L867,2998.5 L863.2,2999.8 L859.4,3001.1 L855.5,3002.3 L851.7,3003.5 L847.8,3004.7 L843.9,3005.9 L840,3007 L836,3008.1 L832.1,3009.2 L828.2,3010.3 L824.2,3011.4 L820.3,3012.4 L816.3,3013.5 L812.4,3014.6 L808.4,3015.7 L804.5,3016.8 L800.6,3017.9 L796.6,3019 L792.7,3020.2 L788.8,3021.4 L784.9,3022.6 L781.1,3023.8 L777.2,3025.1 L773.4,3026.4 L769.6,3027.7 L765.8,3029.1 L762.1,3030.5 L758.4,3032 L754.6,3033.5 L750.9,3035 L747.3,3036.5 L743.6,3038.1 L739.9,3039.7 L736.3,3041.3 L732.7,3042.9 L729.1,3044.6 L725.6,3046.3 L722,3048.1 L718.5,3049.8 L714.9,3051.6 L711.4,3053.4 L707.9,3055.2 L704.5,3057.1 L700,3057 Z"/>
<path fill="#000080" d="M995,2992 L998.3,2989.8 L1001.9,2987.9 L1005.5,2986.1 L1009,2984.2 L1012.6,2982.3 L1016.1,2980.4 L1019.6,2978.4 L1023.1,2976.5 L1026.6,2974.5 L1030.1,2972.5 L1033.5,2970.4 L1037,2968.4 L1040.4,2966.3 L1043.8,2964.3 L1047.3,2962.1 L1050.7,2960 L1054.1,2957.9 L1057.4,2955.7 L1060.8,2953.6 L1064.2,2951.4 L1067.5,2949.2 L1070.8,2947 L1074.2,2944.7 L1077.5,2942.5 L1080.8,2940.2 L1084.1,2937.9 L1087.4,2935.6 L1090.6,2933.3 L1093.9,2931 L1097.2,2928.7 L1100.4,2926.3 L1103.6,2923.9 L1106.9,2921.6 L1110.1,2919.2 L1113.3,2916.8 L1116.5,2914.4 L1119.7,2911.9 L1122.9,2909.5 L1126.1,2907.1 L1129.3,2904.6 L1132.4,2902.2 L1135.6,2899.7 L1138.8,2897.2 L1141.9,2894.7 L1145.1,2892.2 L1148.2,2889.7 L1151.3,2887.2 L1154.5,2884.7 L1157.6,2882.1 L1160.7,2879.6 L1163.8,2877.1 L1166.9,2874.5 L1170,2872 L1173.1,2869.4 L1176.2,2866.8 L1179.3,2864.3 L1182.4,2861.7 L1185.5,2859.1 L1188.6,2856.5 L1191.7,2854 L1194.8,2851.4 L1197.8,2848.8 L1200.9,2846.2 L1204,2843.6 L1207,2841 L1210.1,2838.4 L1213.2,2835.8 L1216.2,2833.2 L1219.3,2830.6 L1222.4,2828 L1225.4,2825.4 L1228.5,2822.8 L1231.6,2820.2 L1234.6,2817.6 L1237.7,2815 L1240.7,2812.4 L1243.8,2809.8 L1246.9,2807.2 L1249.9,2804.7 L1253,2802.1 L1256,2799.5 L1259.1,2796.9 L1262.2,2794.3 L1265.2,2791.8 L1268.3,2789.2 L1271.4,2786.6 L1274.4,2784 L1277.5,2781.4 L1280.5,2778.9 L1283.6,2776.3 L1286.7,2773.7 L1289.7,2771.2 L1292.8,2768.6 L1295.9,2766 L1298.9,2763.4 L1302,2760.9 L1305,2758.3 L1308.1,2755.7 L1311.2,2753.2 L1314.2,2750.6 L1317.3,2748 L1320.3,2745.4 L1323.4,2742.9 L1326.5,2740.3 L1329.5,2737.7 L1332.6,2735.2 L1335.6,2732.6 L1338.7,2730 L1341.7,2727.4 L1344.8,2724.9 L1347.8,2722.3 L1350.9,2719.7 L1354,2717.1 L1357,2714.5 L1360.1,2712 L1363.1,2709.4 L1366.2,2706.8 L1369.2,2704.2 L1372.2,2701.6 L1375.3,2699 L1378.3,2696.4 L1381.4,2693.8 L1384.4,2691.2 L1387.5,2688.6 L1390.5,2686 L1393.5,2683.4 L1396.6,2680.8 L1399.6,2678.2 L1402.7,2675.6 L1405.7,2673 L1408.7,2670.4 L1411.8,2667.7 L1414.8,2665.1 L1417.8,2662.5 L1420.8,2659.9 L1423.9,2657.2 L1426.9,2654.6 L1429.9,2651.9 L1432.9,2649.3 L1435.9,2646.6 L1439,2644 L1442,2641.3 L1445,2638.7 L1448,2636 L1451,2633.3 L1454,2630.7 L1457,2628 L1460,2625.3 L1463,2622.6 L1466,2619.9 L1468.9,2617.2 L1471.9,2614.5 L1474.9,2611.8 L1477.9,2609.1 L1480.8,2606.3 L1483.8,2603.6 L1486.7,2600.9 L1489.7,2598.1 L1492.6,2595.4 L1495.5,2592.6 L1498.4,2589.8 L1501.3,2587.1 L1504.2,2584.3 L1507.1,2581.5 L1510,2578.7 L1512.9,2575.9 L1515.8,2573.1 L1518.6,2570.3 L1521.5,2567.5 L1524.3,2564.6 L1527.2,2561.8 L1530,2558.9 L1532.8,2556.1 L1535.6,2553.2 L1538.4,2550.4 L1541.2,2547.5 L1544,2544.6 L1546.7,2541.7 L1549.5,2538.8 L1552.2,2535.8 L1554.9,2532.9 L1557.7,2530 L1560.4,2527 L1563.1,2524.1 L1565.7,2521.1 L1568.4,2518.1 L1571,2515.1 L1573.7,2512.1 L1576.3,2509.1 L1578.9,2506.1 L1581.5,2503 L1584.1,2500 L1586.6,2496.9 L1589.2,2493.9 L1591.7,2490.8 L1594.2,2487.7 L1596.7,2484.6 L1599.2,2481.5 L1601.7,2478.4 L1604.2,2475.2 L1606.6,2472.1 L1609,2468.9 L1611.4,2465.7 L1613.8,2462.5 L1616.2,2459.3 L1618.5,2456.1 L1620.8,2452.9 L1623.2,2449.6 L1625.5,2446.4 L1627.7,2443.1 L1630,2439.8 L1632.2,2436.5 L1634.4,2433.2 L1636.6,2429.9 L1638.8,2426.5 L1641,2423.2 L1643.1,2419.8 L1645.2,2416.4 L1647.3,2413 L1649.4,2409.6 L1651.5,2406.2 L1653.5,2402.8 L1655.5,2399.3 L1657.5,2395.9 L1659.5,2392.4 L1661.5,2388.9 L1663.5,2385.4 L1665.4,2381.9 L1667.3,2378.4 L1669.3,2374.9 L1671.2,2371.3 L1673,2367.8 L1674.9,2364.2 L1676.8,2360.7 L1678.6,2357.1 L1680.5,2353.5 L1682.3,2350 L1684.1,2346.4 L1685.9,2342.8 L1687.7,2339.2 L1689.5,2335.6 L1691.2,2331.9 L1693,2328.3 L1694.7,2324.7 L1696.5,2321.1 L1698.2,2317.4 L1700,2313.8 L1701.7,2310.2 L1703.4,2306.5 L1705.1,2302.9 L1706.8,2299.2 L1708.5,2295.6 L1710.2,2291.9 L1711.8,2288.3 L1713.5,2284.6 L1715.2,2280.9 L1716.9,2277.3 L1718.5,2273.6 L1720.2,2270 L1721.8,2266.3 L1723.5,2262.7 L1725.2,2259 L1726.8,2255.3 L1728.5,2251.7 L1730.1,2248 L1731.8,2244.4 L1733.4,2240.8 L1735.1,2237.1 L1736.7,2233.5 L1738.3,2229.8 L1739.8,2226.2 L1741.4,2222.5 L1742.9,2218.9 L1744.4,2215.2 L1745.8,2211.5 L1747.2,2207.9 L1748.5,2204.2 L1749.8,2200.5 L1750.9,2196.8 L1752.1,2193.1 L1753.1,2189.4 L1754.1,2185.6 L1755,2181.9 L1755.8,2178.1 L1756.5,2174.3 L1757,2170.6 L1757.5,2166.7 L1757.9,2162.9 L1758.3,2159.1 L1758.6,2155.3 L1759,2151.4 L1759.3,2147.6 L1759.7,2143.8 L1760.2,2140 L1760.8,2136.2 L1761.6,2132.4 L1762.5,2128.7 L1763.6,2125 L1764.9,2121.3 L1766.4,2117.7 L1768,2114 L1769.7,2110.4 L1771.5,2106.7 L1773.2,2103 L1775,2099.3 L1775.6,2095.2 L1775.6,2079.8 L1816.2,2057 L1822,2058 L1822.3,2061.8 L1821.9,2065.9 L1821.6,2069.9 L1821.2,2073.9 L1820.8,2077.9 L1820.3,2081.9 L1819.9,2085.9 L1819.4,2089.9 L1818.9,2093.9 L1818.4,2097.8 L1817.8,2101.8 L1817.3,2105.8 L1816.7,2109.8 L1816,2113.7 L1815.4,2117.7 L1814.7,2121.6 L1814.1,2125.6 L1813.4,2129.5 L1812.6,2133.5 L1811.9,2137.4 L1811.1,2141.3 L1810.3,2145.2 L1809.5,2149.1 L1808.7,2153 L1807.8,2157 L1806.9,2160.8 L1806,2164.7 L1805.1,2168.6 L1804.1,2172.5 L1803.1,2176.4 L1802.2,2180.2 L1801.1,2184.1 L1800.1,2187.9 L1799,2191.8 L1797.9,2195.6 L1796.8,2199.5 L1795.7,2203.3 L1794.5,2207.1 L1793.4,2210.9 L1792.2,2214.7 L1790.9,2218.5 L1789.7,2222.3 L1788.4,2226.1 L1787.1,2229.8 L1785.8,2233.6 L1784.5,2237.3 L1783.1,2241.1 L1781.7,2244.8 L1780.3,2248.6 L1778.9,2252.3 L1777.5,2256 L1776,2259.7 L1774.5,2263.4 L1773,2267.1 L1771.4,2270.8 L1769.9,2274.4 L1768.3,2278.1 L1766.7,2281.8 L1765,2285.4 L1763.4,2289 L1761.7,2292.7 L1760,2296.3 L1758.3,2299.9 L1756.6,2303.5 L1754.8,2307.1 L1753.1,2310.7 L1751.3,2314.2 L1749.5,2317.8 L1747.6,2321.4 L1745.8,2324.9 L1744,2328.5 L1742.1,2332 L1740.2,2335.6 L1738.3,2339.1 L1736.4,2342.6 L1734.5,2346.1 L1732.6,2349.6 L1730.6,2353.1 L1728.7,2356.6 L1726.7,2360.1 L1724.7,2363.6 L1722.7,2367.1 L1720.8,2370.6 L1718.8,2374 L1716.8,2377.5 L1714.7,2381 L1712.7,2384.4 L1710.7,2387.9 L1708.7,2391.3 L1706.6,2394.8 L1704.6,2398.2 L1702.6,2401.6 L1700.5,2405.1 L1698.5,2408.5 L1696.4,2411.9 L1694.4,2415.3 L1692.3,2418.8 L1690.2,2422.2 L1688.2,2425.6 L1686.1,2429 L1684,2432.3 L1681.9,2435.7 L1679.8,2439.1 L1677.7,2442.5 L1675.5,2445.9 L1673.4,2449.2 L1671.3,2452.6 L1669.1,2455.9 L1666.9,2459.3 L1664.8,2462.6 L1662.6,2465.9 L1660.4,2469.2 L1658.1,2472.5 L1655.9,2475.8 L1653.7,2479.1 L1651.4,2482.4 L1649.1,2485.7 L1646.8,2489 L1644.5,2492.2 L1642.2,2495.5 L1639.9,2498.7 L1637.5,2501.9 L1635.1,2505.2 L1632.7,2508.4 L1630.3,2511.6 L1627.9,2514.8 L1625.5,2518 L1623,2521.1 L1620.5,2524.3 L1618,2527.4 L1615.5,2530.6 L1613,2533.7 L1610.5,2536.8 L1607.9,2539.9 L1605.3,2543 L1602.7,2546.1 L1600.1,2549.2 L1597.5,2552.3 L1594.9,2555.3 L1592.2,2558.4 L1589.6,2561.4 L1586.9,2564.4 L1584.2,2567.4 L1581.5,2570.4 L1578.8,2573.4 L1576,2576.3 L1573.3,2579.3 L1570.5,2582.2 L1567.7,2585.1 L1565,2588 L1562.1,2590.9 L1559.3,2593.8 L1556.5,2596.7 L1553.7,2599.6 L1550.8,2602.4 L1547.9,2605.2 L1545,2608 L1542.2,2610.8 L1539.2,2613.6 L1536.3,2616.4 L1533.4,2619.2 L1530.5,2621.9 L1527.5,2624.6 L1524.5,2627.3 L1521.6,2630 L1518.6,2632.7 L1515.6,2635.4 L1512.6,2638 L1509.5,2640.6 L1506.5,2643.3 L1503.5,2645.9 L1500.4,2648.4 L1497.3,2651 L1494.3,2653.6 L1491.2,2656.1 L1488.1,2658.7 L1485,2661.2 L1481.9,2663.7 L1478.8,2666.3 L1475.7,2668.8 L1472.6,2671.3 L1469.5,2673.8 L1466.4,2676.3 L1463.2,2678.8 L1460.1,2681.2 L1457,2683.7 L1453.9,2686.2 L1450.7,2688.7 L1447.6,2691.2 L1444.5,2693.6 L1441.3,2696.1 L1438.2,2698.6 L1435.1,2701.1 L1431.9,2703.6 L1428.8,2706.1 L1425.7,2708.6 L1422.6,2711.1 L1419.5,2713.6 L1416.4,2716.1 L1413.3,2718.6 L1410.2,2721.2 L1407.1,2723.7 L1404,2726.3 L1400.9,2728.8 L1397.8,2731.4 L1394.8,2734 L1391.7,2736.6 L1388.7,2739.2 L1385.6,2741.9 L1382.6,2744.5 L1379.6,2747.2 L1376.6,2749.8 L1373.6,2752.5 L1370.6,2755.2 L1367.6,2757.9 L1364.6,2760.6 L1361.7,2763.3 L1358.7,2766.1 L1355.7,2768.8 L1352.8,2771.6 L1349.8,2774.3 L1346.8,2777.1 L1343.9,2779.8 L1341,2782.6 L1338,2785.4 L1335.1,2788.1 L1332.1,2790.9 L1329.2,2793.7 L1326.3,2796.5 L1323.3,2799.3 L1320.4,2802.1 L1317.5,2804.9 L1314.6,2807.6 L1311.6,2810.4 L1308.7,2813.2 L1305.8,2816 L1302.8,2818.8 L1299.9,2821.6 L1297,2824.3 L1294,2827.1 L1291.1,2829.9 L1288.1,2832.6 L1285.2,2835.4 L1282.3,2838.1 L1279.3,2840.9 L1276.3,2843.6 L1273.4,2846.4 L1270.4,2849.1 L1267.4,2851.8 L1264.5,2854.5 L1261.5,2857.2 L1258.5,2859.9 L1255.5,2862.5 L1252.5,2865.2 L1249.5,2867.8 L1246.4,2870.5 L1243.4,2873.1 L1240.4,2875.7 L1237.3,2878.3 L1234.3,2880.8 L1231.2,2883.4 L1228.1,2885.9 L1225,2888.5 L1221.9,2891 L1218.8,2893.5 L1215.7,2895.9 L1212.6,2898.4 L1209.4,2900.8 L1206.3,2903.2 L1203.1,2905.6 L1199.9,2908 L1196.7,2910.3 L1193.5,2912.6 L1190.3,2914.9 L1187,2917.2 L1183.8,2919.4 L1180.5,2921.7 L1177.2,2923.9 L1173.9,2926 L1170.6,2928.2 L1167.2,2930.3 L1163.9,2932.4 L1160.5,2934.4 L1157.1,2936.4 L1153.7,2938.4 L1150.2,2940.4 L1146.8,2942.3 L1143.3,2944.2 L1139.8,2946 L1136.3,2947.8 L1132.8,2949.6 L1129.2,2951.3 L1125.6,2953 L1122,2954.7 L1118.4,2956.3 L1114.7,2957.9 L1111.1,2959.4 L1107.4,2960.9 L1103.6,2962.3 L1099.9,2963.7 L1096.1,2965.1 L1092.3,2966.4 L1088.5,2967.7 L1084.6,2968.9 L1080.8,2970 L1076.9,2971.1 L1073,2972.2 L1069,2973.3 L1065.1,2974.3 L1061.1,2975.4 L1057.2,2976.4 L1053.2,2977.4 L1049.2,2978.4 L1045.3,2979.5 L1041.3,2980.5 L1037.4,2981.6 L1033.5,2982.7 L1029.6,2983.8 L1025.7,2985 L1021.9,2986.2 L1018,2987.5 L1014.3,2988.9 L1010.5,2990.3 L1006.8,2991.8 L1003.1,2993.4 L1000,2996 Z"/>
<path fill="#FF00FF" d="M1050.6,2964.6 L1052.9,2962.2 L1057.1,2961.9 L1061.4,2961.5 L1065.6,2961 L1069.8,2960.6 L1074,2960 L1078.1,2959.5 L1082.3,2958.9 L1086.4,2958.3 L1090.5,2957.6 L1094.6,2957 L1098.7,2956.2 L1102.8,2955.5 L1106.9,2954.7 L1110.9,2953.9 L1114.9,2953 L1118.9,2952.1 L1122.9,2951.2 L1126.9,2950.2 L1130.9,2949.2 L1134.8,2948.2 L1138.7,2947.1 L1142.6,2946 L1146.5,2944.9 L1150.4,2943.7 L1154.3,2942.5 L1158.1,2941.3 L1162,2940 L1165.8,2938.7 L1169.6,2937.4 L1173.3,2936.1 L1177.1,2934.7 L1180.9,2933.3 L1184.6,2931.8 L1188.3,2930.3 L1192,2928.8 L1195.7,2927.3 L1199.3,2925.7 L1203,2924.1 L1206.6,2922.5 L1210.2,2920.8 L1213.8,2919.1 L1217.4,2917.4 L1221,2915.7 L1224.5,2913.9 L1228,2912.1 L1231.5,2910.2 L1235,2908.4 L1238.5,2906.5 L1242,2904.6 L1245.4,2902.6 L1248.8,2900.6 L1252.2,2898.6 L1255.6,2896.6 L1259,2894.6 L1262.4,2892.5 L1265.7,2890.4 L1269,2888.2 L1272.4,2886.1 L1275.7,2883.9 L1278.9,2881.7 L1282.2,2879.5 L1285.5,2877.2 L1288.7,2875 L1292,2872.7 L1295.2,2870.4 L1298.4,2868.1 L1301.6,2865.8 L1304.8,2863.4 L1308,2861.1 L1311.2,2858.7 L1314.4,2856.3 L1317.6,2853.9 L1320.8,2851.5 L1323.9,2849.1 L1327.1,2846.7 L1330.3,2844.2 L1333.4,2841.8 L1336.6,2839.3 L1339.7,2836.9 L1342.9,2834.4 L1346,2831.9 L1349.2,2829.4 L1352.3,2827 L1355.5,2824.5 L1358.6,2822 L1361.8,2819.5 L1365,2817 L1368.1,2814.5 L1371.3,2812 L1374.5,2809.5 L1377.6,2807 L1380.8,2804.5 L1384,2802.1 L1387.2,2799.6 L1390.4,2797.1 L1393.6,2794.6 L1396.8,2792.1 L1400,2789.6 L1403.2,2787.1 L1406.4,2784.7 L1409.6,2782.2 L1412.8,2779.7 L1416,2777.2 L1419.2,2774.7 L1422.4,2772.2 L1425.6,2769.7 L1428.8,2767.2 L1432,2764.7 L1435.3,2762.2 L1438.5,2759.7 L1441.7,2757.2 L1444.9,2754.7 L1448.1,2752.2 L1451.3,2749.7 L1454.5,2747.2 L1457.7,2744.7 L1460.8,2742.1 L1464,2739.6 L1467.2,2737.1 L1470.4,2734.5 L1473.6,2732 L1476.7,2729.4 L1479.9,2726.9 L1483.1,2724.3 L1486.2,2721.8 L1489.4,2719.2 L1492.5,2716.6 L1495.6,2714 L1498.8,2711.5 L1501.9,2708.9 L1505,2706.3 L1508.1,2703.7 L1511.2,2701 L1514.3,2698.4 L1517.4,2695.8 L1520.5,2693.2 L1523.5,2690.5 L1526.6,2687.9 L1529.6,2685.2 L1532.7,2682.5 L1535.7,2679.9 L1538.7,2677.2 L1541.7,2674.5 L1544.7,2671.8 L1547.7,2669.1 L1550.6,2666.4 L1553.6,2663.6 L1556.5,2660.9 L1559.5,2658.1 L1562.4,2655.4 L1565.3,2652.6 L1568.2,2649.8 L1571.1,2647 L1573.9,2644.2 L1576.8,2641.4 L1579.6,2638.6 L1582.5,2635.7 L1585.3,2632.9 L1588.1,2630 L1590.8,2627.1 L1593.6,2624.2 L1596.3,2621.3 L1599.1,2618.4 L1601.8,2615.5 L1604.5,2612.6 L1607.1,2609.6 L1609.8,2606.6 L1612.4,2603.6 L1615.1,2600.7 L1617.7,2597.6 L1620.3,2594.6 L1622.8,2591.6 L1625.4,2588.5 L1627.9,2585.5 L1630.4,2582.4 L1632.9,2579.3 L1635.3,2576.2 L1637.8,2573 L1640.2,2569.9 L1642.6,2566.7 L1645,2563.5 L1647.4,2560.4 L1649.7,2557.2 L1652,2553.9 L1654.3,2550.7 L1656.6,2547.5 L1658.9,2544.2 L1661.1,2540.9 L1663.4,2537.6 L1665.6,2534.3 L1667.8,2531 L1669.9,2527.7 L1672.1,2524.4 L1674.2,2521 L1676.3,2517.7 L1678.4,2514.3 L1680.5,2510.9 L1682.5,2507.5 L1684.6,2504.1 L1686.6,2500.6 L1688.6,2497.2 L1690.5,2493.8 L1692.5,2490.3 L1694.4,2486.8 L1696.4,2483.3 L1698.3,2479.8 L1700.1,2476.3 L1702,2472.8 L1703.8,2469.3 L1705.7,2465.7 L1707.5,2462.2 L1709.3,2458.6 L1711,2455 L1712.8,2451.5 L1714.5,2447.9 L1716.2,2444.3 L1717.9,2440.6 L1719.6,2437 L1721.3,2433.4 L1722.9,2429.7 L1724.5,2426.1 L1726.1,2422.4 L1727.7,2418.7 L1729.3,2415.1 L1730.8,2411.4 L1732.4,2407.7 L1733.9,2404 L1735.4,2400.2 L1736.8,2396.5 L1738.3,2392.8 L1739.7,2389 L1741.2,2385.3 L1742.6,2381.5 L1743.9,2377.8 L1745.3,2374 L1746.7,2370.2 L1748,2366.4 L1749.3,2362.6 L1750.6,2358.8 L1751.9,2355 L1753.2,2351.2 L1754.4,2347.3 L1755.6,2343.5 L1756.8,2339.7 L1758,2335.8 L1759.2,2332 L1760.4,2328.1 L1761.5,2324.2 L1762.6,2320.3 L1763.8,2316.5 L1764.8,2312.6 L1765.9,2308.7 L1767,2304.8 L1768,2300.9 L1769.1,2297 L1770.1,2293.1 L1771.1,2289.2 L1772.1,2285.2 L1773.1,2281.3 L1774,2277.4 L1775,2273.5 L1775.9,2269.5 L1776.9,2265.6 L1777.8,2261.7 L1778.7,2257.7 L1779.6,2253.8 L1780.5,2249.8 L1781.4,2245.9 L1782.3,2241.9 L1783.2,2238 L1784.1,2234 L1784.9,2230.1 L1785.8,2226.1 L1786.6,2222.2 L1787.5,2218.2 L1788.3,2214.2 L1789.2,2210.3 L1790,2206.3 L1790.9,2202.4 L1791.7,2198.4 L1792.5,2194.5 L1793.3,2190.5 L1794.2,2186.6 L1795,2182.6 L1795.8,2178.7 L1796.6,2174.7 L1797.5,2170.8 L1798.3,2166.8 L1799.1,2162.9 L1800,2158.9 L1800.8,2155 L1801.6,2151.1 L1802.5,2147.1 L1803.3,2143.2 L1804.2,2139.3 L1805,2135.4 L1805.9,2131.5 L1806.7,2127.6 L1807.6,2123.7 L1808.5,2119.8 L1809.4,2115.9 L1810.3,2112 L1811.2,2108.1 L1812.1,2104.2 L1813,2100.4 L1813.9,2096.5 L1814.9,2092.6 L1815.8,2088.8 L1816.8,2085 L1817.7,2081.1 L1818.7,2077.3 L1819.7,2073.5 L1820.7,2069.7 L1820,2065 L1822.7,2057 L1858.4,2075.7 L1858.4,2087.1 L1856.3,2091.1 L1855.7,2095 L1855.1,2098.9 L1854.5,2102.8 L1853.9,2106.8 L1853.2,2110.7 L1852.6,2114.6 L1852,2118.5 L1851.3,2122.4 L1850.7,2126.4 L1850,2130.3 L1849.3,2134.2 L1848.7,2138.2 L1848,2142.1 L1847.3,2146 L1846.6,2150 L1845.9,2153.9 L1845.2,2157.8 L1844.5,2161.8 L1843.8,2165.7 L1843,2169.7 L1842.3,2173.6 L1841.5,2177.6 L1840.8,2181.5 L1840,2185.4 L1839.2,2189.4 L1838.5,2193.3 L1837.7,2197.3 L1836.9,2201.2 L1836.1,2205.2 L1835.3,2209.1 L1834.4,2213.1 L1833.6,2217 L1832.8,2220.9 L1831.9,2224.9 L1831,2228.8 L1830.2,2232.8 L1829.3,2236.7 L1828.4,2240.6 L1827.5,2244.6 L1826.6,2248.5 L1825.7,2252.4 L1824.7,2256.4 L1823.8,2260.3 L1822.8,2264.2 L1821.9,2268.1 L1820.9,2272.1 L1819.9,2276 L1818.9,2279.9 L1817.9,2283.8 L1816.9,2287.7 L1815.9,2291.6 L1814.8,2295.5 L1813.8,2299.4 L1812.7,2303.3 L1811.6,2307.2 L1810.6,2311.1 L1809.5,2314.9 L1808.3,2318.8 L1807.2,2322.7 L1806.1,2326.5 L1804.9,2330.4 L1803.8,2334.3 L1802.6,2338.1 L1801.4,2342 L1800.2,2345.8 L1799,2349.6 L1797.8,2353.5 L1796.5,2357.3 L1795.3,2361.1 L1794,2364.9 L1792.7,2368.7 L1791.4,2372.5 L1790.1,2376.3 L1788.8,2380.1 L1787.5,2383.9 L1786.1,2387.7 L1784.8,2391.5 L1783.4,2395.2 L1782,2399 L1780.6,2402.7 L1779.2,2406.5 L1777.7,2410.2 L1776.3,2413.9 L1774.8,2417.6 L1773.3,2421.3 L1771.8,2425 L1770.3,2428.7 L1768.8,2432.4 L1767.2,2436.1 L1765.7,2439.8 L1764.1,2443.4 L1762.5,2447.1 L1760.9,2450.7 L1759.3,2454.4 L1757.6,2458 L1756,2461.6 L1754.3,2465.2 L1752.6,2468.8 L1750.9,2472.4 L1749.2,2476 L1747.4,2479.5 L1745.7,2483.1 L1743.9,2486.6 L1742.1,2490.1 L1740.3,2493.7 L1738.4,2497.2 L1736.6,2500.7 L1734.7,2504.2 L1732.8,2507.7 L1730.9,2511.1 L1729,2514.6 L1727.1,2518 L1725.1,2521.5 L1723.1,2524.9 L1721.1,2528.3 L1719.1,2531.7 L1717.1,2535.1 L1715.1,2538.4 L1713,2541.8 L1710.9,2545.2 L1708.8,2548.5 L1706.7,2551.8 L1704.5,2555.1 L1702.3,2558.4 L1700.1,2561.7 L1697.9,2565 L1695.7,2568.2 L1693.5,2571.5 L1691.2,2574.7 L1688.9,2577.9 L1686.6,2581.1 L1684.3,2584.3 L1681.9,2587.5 L1679.5,2590.6 L1677.1,2593.8 L1674.7,2596.9 L1672.3,2600 L1669.8,2603.1 L1667.4,2606.2 L1664.9,2609.3 L1662.3,2612.3 L1659.8,2615.4 L1657.2,2618.4 L1654.7,2621.4 L1652.1,2624.4 L1649.5,2627.4 L1646.8,2630.4 L1644.2,2633.3 L1641.5,2636.3 L1638.8,2639.2 L1636.1,2642.1 L1633.4,2645 L1630.6,2647.9 L1627.9,2650.8 L1625.1,2653.7 L1622.3,2656.5 L1619.5,2659.4 L1616.7,2662.2 L1613.9,2665.1 L1611,2667.9 L1608.2,2670.7 L1605.3,2673.5 L1602.4,2676.3 L1599.5,2679 L1596.6,2681.8 L1593.6,2684.6 L1590.7,2687.3 L1587.7,2690 L1584.8,2692.8 L1581.8,2695.5 L1578.8,2698.2 L1575.8,2700.9 L1572.8,2703.6 L1569.7,2706.2 L1566.7,2708.9 L1563.7,2711.6 L1560.6,2714.2 L1557.5,2716.9 L1554.5,2719.5 L1551.4,2722.2 L1548.3,2724.8 L1545.2,2727.4 L1542.1,2730 L1539,2732.6 L1535.8,2735.2 L1532.7,2737.8 L1529.6,2740.4 L1526.4,2743 L1523.3,2745.5 L1520.1,2748.1 L1516.9,2750.7 L1513.8,2753.2 L1510.6,2755.8 L1507.4,2758.3 L1504.2,2760.9 L1501,2763.4 L1497.8,2765.9 L1494.6,2768.5 L1491.4,2771 L1488.2,2773.5 L1485,2776 L1481.8,2778.5 L1478.6,2781.1 L1475.4,2783.6 L1472.2,2786.1 L1468.9,2788.6 L1465.7,2791.1 L1462.5,2793.6 L1459.3,2796.1 L1456.1,2798.5 L1452.8,2801 L1449.6,2803.5 L1446.4,2806 L1443.2,2808.5 L1440,2811 L1436.7,2813.5 L1433.5,2815.9 L1430.3,2818.4 L1427.1,2820.9 L1423.9,2823.4 L1420.7,2825.8 L1417.5,2828.3 L1414.3,2830.8 L1411.1,2833.3 L1407.9,2835.8 L1404.7,2838.2 L1401.5,2840.7 L1398.3,2843.2 L1395.1,2845.7 L1392,2848.1 L1388.8,2850.6 L1385.6,2853.1 L1382.4,2855.5 L1379.2,2858 L1376.1,2860.4 L1372.9,2862.9 L1369.7,2865.3 L1366.5,2867.7 L1363.3,2870.2 L1360.1,2872.6 L1356.9,2875 L1353.7,2877.4 L1350.5,2879.8 L1347.3,2882.1 L1344.1,2884.5 L1340.9,2886.9 L1337.7,2889.2 L1334.4,2891.5 L1331.2,2893.8 L1327.9,2896.2 L1324.7,2898.4 L1321.4,2900.7 L1318.1,2903 L1314.9,2905.2 L1311.6,2907.4 L1308.3,2909.6 L1305,2911.8 L1301.6,2914 L1298.3,2916.2 L1295,2918.3 L1291.6,2920.4 L1288.2,2922.5 L1284.9,2924.6 L1281.5,2926.7 L1278.1,2928.7 L1274.7,2930.7 L1271.2,2932.7 L1267.8,2934.7 L1264.4,2936.6 L1260.9,2938.6 L1257.4,2940.5 L1254,2942.4 L1250.5,2944.2 L1247,2946.1 L1243.4,2947.9 L1239.9,2949.7 L1236.4,2951.4 L1232.8,2953.2 L1229.2,2954.9 L1225.7,2956.6 L1222.1,2958.2 L1218.5,2959.9 L1214.8,2961.5 L1211.2,2963.1 L1207.5,2964.6 L1203.9,2966.1 L1200.2,2967.6 L1196.5,2969.1 L1192.8,2970.5 L1189.1,2971.9 L1185.3,2973.3 L1181.6,2974.6 L1177.8,2976 L1174,2977.2 L1170.2,2978.5 L1166.4,2979.7 L1162.6,2980.9 L1158.8,2982 L1154.9,2983.2 L1151,2984.2 L1147.1,2985.3 L1143.2,2986.3 L1139.3,2987.3 L1135.4,2988.2 L1131.4,2989.2 L1127.4,2990 L1123.5,2990.9 L1119.5,2991.7 L1115.4,2992.4 L1111.4,2993.2 L1107.3,2993.8 L1103.3,2994.5 L1099.2,2995.1 L1095.1,2995.7 L1090.9,2996.2 L1086.8,2996.7 L1082.6,2997.2 L1078.5,2997.6 L1074.3,2998 L1070.1,2998.3 L1065.8,2998.6 L1061.6,2998.8 L1057.3,2999 L1053,2999.2 L1050.6,3001.8 Z"/>
<path fill="#FF8000" d="M1050.6,3130.3 L1053.9,3128.7 L1058.3,3128.7 L1062.7,3128.7 L1067.1,3128.6 L1071.4,3128.4 L1075.7,3128.1 L1079.9,3127.8 L1084.1,3127.4 L1088.3,3127 L1092.4,3126.5 L1096.6,3125.9 L1100.6,3125.2 L1104.7,3124.6 L1108.7,3123.8 L1112.7,3123 L1116.6,3122.1 L1120.6,3121.2 L1124.5,3120.2 L1128.3,3119.2 L1132.2,3118.1 L1136,3117 L1139.8,3115.8 L1143.5,3114.6 L1147.3,3113.3 L1151,3112 L1154.7,3110.6 L1158.3,3109.2 L1162,3107.8 L1165.6,3106.3 L1169.2,3104.8 L1172.8,3103.2 L1176.4,3101.6 L1179.9,3099.9 L1183.5,3098.3 L1187,3096.6 L1190.5,3094.8 L1193.9,3093 L1197.4,3091.2 L1200.9,3089.4 L1204.3,3087.5 L1207.7,3085.6 L1211.1,3083.7 L1214.5,3081.7 L1217.9,3079.8 L1221.3,3077.8 L1224.7,3075.8 L1228,3073.7 L1231.4,3071.7 L1234.7,3069.6 L1238,3067.5 L1241.4,3065.4 L1244.7,3063.3 L1248,3061.1 L1251.3,3059 L1254.6,3056.8 L1257.9,3054.6 L1261.3,3052.4 L1264.6,3050.2 L1267.9,3048 L1271.1,3045.8 L1274.4,3043.6 L1277.7,3041.4 L1281,3039.1 L1284.3,3036.9 L1287.6,3034.6 L1290.9,3032.4 L1294.2,3030.1 L1297.5,3027.9 L1300.8,3025.6 L1304.2,3023.4 L1307.5,3021.1 L1310.8,3018.9 L1314.1,3016.6 L1317.4,3014.4 L1320.8,3012.1 L1324.1,3009.9 L1327.5,3007.6 L1330.8,3005.4 L1334.2,3003.2 L1337.6,3001 L1340.9,2998.8 L1344.3,2996.6 L1347.7,2994.4 L1351.1,2992.2 L1354.6,2990 L1358,2987.8 L1361.4,2985.7 L1364.9,2983.5 L1368.3,2981.3 L1371.7,2979.2 L1375.2,2977 L1378.7,2974.9 L1382.1,2972.8 L1385.6,2970.6 L1389.1,2968.5 L1392.5,2966.4 L1396,2964.2 L1399.5,2962.1 L1403,2960 L1406.4,2957.9 L1409.9,2955.7 L1413.4,2953.6 L1416.8,2951.5 L1420.3,2949.3 L1423.8,2947.2 L1427.3,2945.1 L1430.7,2942.9 L1434.2,2940.8 L1437.6,2938.6 L1441.1,2936.5 L1444.5,2934.3 L1448,2932.1 L1451.4,2929.9 L1454.8,2927.8 L1458.2,2925.6 L1461.6,2923.4 L1465,2921.2 L1468.4,2919 L1471.8,2916.7 L1475.2,2914.5 L1478.6,2912.3 L1481.9,2910 L1485.2,2907.7 L1488.6,2905.5 L1491.9,2903.2 L1495.2,2900.9 L1498.5,2898.6 L1501.7,2896.2 L1505,2893.9 L1508.2,2891.5 L1511.5,2889.1 L1514.7,2886.8 L1517.9,2884.3 L1521.1,2881.9 L1524.2,2879.5 L1527.4,2877 L1530.5,2874.5 L1533.6,2872 L1536.7,2869.5 L1539.7,2867 L1542.8,2864.4 L1545.8,2861.9 L1548.8,2859.3 L1551.8,2856.6 L1554.7,2854 L1557.6,2851.3 L1560.5,2848.7 L1563.4,2845.9 L1566.3,2843.2 L1569.1,2840.5 L1571.9,2837.7 L1574.7,2834.9 L1577.4,2832 L1580.2,2829.2 L1582.9,2826.3 L1585.6,2823.4 L1588.2,2820.5 L1590.8,2817.5 L1593.4,2814.5 L1596,2811.5 L1598.6,2808.5 L1601.1,2805.5 L1603.6,2802.4 L1606.1,2799.3 L1608.5,2796.2 L1611,2793.1 L1613.4,2789.9 L1615.7,2786.8 L1618.1,2783.6 L1620.4,2780.4 L1622.7,2777.2 L1625,2773.9 L1627.3,2770.7 L1629.5,2767.4 L1631.8,2764.1 L1634,2760.8 L1636.1,2757.4 L1638.3,2754.1 L1640.4,2750.7 L1642.5,2747.3 L1644.6,2743.9 L1646.7,2740.5 L1648.7,2737 L1650.7,2733.6 L1652.7,2730.1 L1654.7,2726.6 L1656.7,2723.1 L1658.6,2719.6 L1660.5,2716.1 L1662.4,2712.6 L1664.3,2709 L1666.1,2705.4 L1667.9,2701.9 L1669.8,2698.3 L1671.5,2694.7 L1673.3,2691 L1675.1,2687.4 L1676.8,2683.8 L1678.5,2680.1 L1680.2,2676.5 L1681.8,2672.8 L1683.5,2669.1 L1685.1,2665.4 L1686.7,2661.7 L1688.3,2658 L1689.9,2654.2 L1691.5,2650.5 L1693,2646.8 L1694.5,2643 L1696,2639.2 L1697.5,2635.5 L1698.9,2631.7 L1700.4,2627.9 L1701.8,2624.1 L1703.2,2620.3 L1704.6,2616.5 L1706,2612.7 L1707.3,2608.9 L1708.7,2605.1 L1710,2601.2 L1711.3,2597.4 L1712.6,2593.5 L1713.9,2589.7 L1715.1,2585.8 L1716.3,2582 L1717.6,2578.1 L1718.8,2574.3 L1720,2570.4 L1721.1,2566.5 L1722.3,2562.7 L1723.4,2558.8 L1724.6,2554.9 L1725.7,2551 L1726.8,2547.2 L1727.8,2543.3 L1728.9,2539.4 L1729.9,2535.5 L1731,2531.6 L1732,2527.8 L1733,2523.9 L1734,2520 L1735,2516.1 L1735.9,2512.2 L1736.9,2508.3 L1737.8,2504.5 L1738.7,2500.6 L1739.6,2496.7 L1740.5,2492.8 L1741.4,2489 L1742.3,2485.1 L1743.1,2481.2 L1744,2477.4 L1744.8,2473.5 L1745.6,2469.7 L1746.4,2465.8 L1747.2,2462 L1748,2458.1 L1748.7,2454.3 L1749.5,2450.5 L1750.2,2446.6 L1751.6,2442.4 L1752.4,2440.8 L1771.1,2430.2 L1789.8,2440.8 L1789.8,2458.6 L1790.1,2463.4 L1789.1,2467.1 L1788.1,2470.8 L1787.1,2474.5 L1786,2478.3 L1785,2482 L1784,2485.8 L1783,2489.6 L1782,2493.4 L1781,2497.2 L1780,2501 L1779,2504.8 L1778,2508.7 L1777,2512.5 L1776,2516.4 L1775,2520.2 L1774,2524.1 L1772.9,2527.9 L1771.9,2531.8 L1770.9,2535.7 L1769.8,2539.6 L1768.8,2543.5 L1767.7,2547.4 L1766.7,2551.3 L1765.6,2555.2 L1764.5,2559.1 L1763.5,2563 L1762.4,2566.9 L1761.3,2570.8 L1760.2,2574.8 L1759.1,2578.7 L1757.9,2582.6 L1756.8,2586.5 L1755.7,2590.4 L1754.5,2594.4 L1753.3,2598.3 L1752.2,2602.2 L1751,2606.1 L1749.8,2610 L1748.6,2613.9 L1747.3,2617.8 L1746.1,2621.7 L1744.8,2625.6 L1743.6,2629.5 L1742.3,2633.4 L1741,2637.3 L1739.7,2641.1 L1738.3,2645 L1737,2648.9 L1735.6,2652.7 L1734.2,2656.6 L1732.8,2660.4 L1731.4,2664.2 L1730,2668 L1728.5,2671.8 L1727.1,2675.6 L1725.6,2679.4 L1724.1,2683.2 L1722.5,2687 L1721,2690.7 L1719.4,2694.5 L1717.8,2698.2 L1716.2,2701.9 L1714.6,2705.6 L1712.9,2709.3 L1711.2,2713 L1709.5,2716.6 L1707.8,2720.3 L1706,2723.9 L1704.3,2727.5 L1702.5,2731.1 L1700.6,2734.7 L1698.8,2738.2 L1696.9,2741.8 L1695,2745.3 L1693.1,2748.8 L1691.1,2752.3 L1689.1,2755.7 L1687.1,2759.2 L1685.1,2762.6 L1683,2766 L1680.9,2769.4 L1678.8,2772.7 L1676.7,2776.1 L1674.5,2779.4 L1672.3,2782.7 L1670.1,2786 L1667.8,2789.2 L1665.5,2792.5 L1663.2,2795.7 L1660.9,2798.9 L1658.5,2802.1 L1656.2,2805.2 L1653.8,2808.4 L1651.3,2811.5 L1648.9,2814.6 L1646.4,2817.7 L1643.9,2820.7 L1641.4,2823.8 L1638.8,2826.8 L1636.2,2829.8 L1633.7,2832.7 L1631,2835.7 L1628.4,2838.6 L1625.7,2841.6 L1623,2844.5 L1620.3,2847.3 L1617.6,2850.2 L1614.8,2853 L1612.1,2855.9 L1609.3,2858.7 L1606.4,2861.4 L1603.6,2864.2 L1600.7,2866.9 L1597.8,2869.6 L1594.9,2872.3 L1592,2875 L1589.1,2877.7 L1586.1,2880.3 L1583.1,2882.9 L1580.1,2885.5 L1577.1,2888.1 L1574,2890.7 L1571,2893.2 L1567.9,2895.7 L1564.8,2898.2 L1561.7,2900.7 L1558.5,2903.2 L1555.4,2905.6 L1552.2,2908 L1549,2910.4 L1545.8,2912.8 L1542.6,2915.2 L1539.3,2917.6 L1536.1,2919.9 L1532.8,2922.2 L1529.5,2924.5 L1526.2,2926.9 L1522.9,2929.1 L1519.6,2931.4 L1516.3,2933.7 L1513,2936 L1509.6,2938.2 L1506.3,2940.4 L1502.9,2942.7 L1499.5,2944.9 L1496.1,2947.1 L1492.8,2949.3 L1489.4,2951.5 L1486,2953.7 L1482.6,2955.9 L1479.2,2958.1 L1475.8,2960.3 L1472.4,2962.5 L1468.9,2964.7 L1465.5,2966.8 L1462.1,2969 L1458.7,2971.2 L1455.3,2973.4 L1451.8,2975.5 L1448.4,2977.7 L1445,2979.9 L1441.6,2982.1 L1438.2,2984.2 L1434.8,2986.4 L1431.3,2988.6 L1427.9,2990.8 L1424.5,2993 L1421.1,2995.2 L1417.7,2997.4 L1414.3,2999.5 L1410.9,3001.7 L1407.5,3003.9 L1404.1,3006.1 L1400.7,3008.3 L1397.3,3010.5 L1393.9,3012.6 L1390.5,3014.8 L1387.1,3017 L1383.7,3019.2 L1380.3,3021.3 L1376.9,3023.5 L1373.5,3025.7 L1370.1,3027.8 L1366.7,3030 L1363.2,3032.1 L1359.8,3034.2 L1356.4,3036.4 L1353,3038.5 L1349.6,3040.6 L1346.2,3042.7 L1342.7,3044.8 L1339.3,3046.9 L1335.9,3049 L1332.5,3051.1 L1329,3053.2 L1325.6,3055.2 L1322.1,3057.3 L1318.7,3059.3 L1315.3,3061.3 L1311.8,3063.4 L1308.3,3065.4 L1304.9,3067.4 L1301.4,3069.3 L1297.9,3071.3 L1294.5,3073.3 L1291,3075.2 L1287.5,3077.1 L1284,3079.1 L1280.5,3081 L1277,3082.9 L1273.5,3084.7 L1270,3086.6 L1266.5,3088.4 L1263,3090.3 L1259.4,3092.1 L1255.9,3093.9 L1252.4,3095.7 L1248.8,3097.4 L1245.2,3099.2 L1241.7,3100.9 L1238.1,3102.6 L1234.5,3104.3 L1230.9,3106 L1227.4,3107.6 L1223.7,3109.3 L1220.1,3110.9 L1216.5,3112.5 L1212.9,3114 L1209.3,3115.6 L1205.6,3117.1 L1202,3118.6 L1198.3,3120.1 L1194.6,3121.6 L1190.9,3123 L1187.2,3124.4 L1183.5,3125.8 L1179.8,3127.2 L1176.1,3128.5 L1172.4,3129.9 L1168.6,3131.2 L1164.9,3132.4 L1161.1,3133.7 L1157.3,3134.9 L1153.6,3136.1 L1149.8,3137.2 L1146,3138.4 L1142.1,3139.5 L1138.3,3140.6 L1134.5,3141.6 L1130.6,3142.7 L1126.7,3143.6 L1122.9,3144.6 L1119,3145.6 L1115.1,3146.5 L1111.1,3147.3 L1107.2,3148.2 L1103.3,3149 L1099.3,3149.8 L1095.3,3150.5 L1091.4,3151.3 L1087.4,3151.9 L1083.3,3152.6 L1079.3,3153.2 L1075.3,3153.8 L1071.2,3154.4 L1067.1,3154.9 L1063.1,3155.4 L1059,3155.8 L1054.8,3156.2 L1050.6,3156 Z"/>
<path fill="#800000" d="M1220,3163 L1223.7,3162.2 L1227.8,3162 L1232,3161.8 L1236.1,3161.5 L1240.2,3161.3 L1244.2,3161 L1248.3,3160.7 L1252.4,3160.4 L1256.5,3160 L1260.5,3159.7 L1264.6,3159.3 L1268.6,3158.9 L1272.7,3158.5 L1276.7,3158 L1280.7,3157.5 L1284.8,3157.1 L1288.8,3156.6 L1292.8,3156 L1296.8,3155.5 L1300.8,3154.9 L1304.8,3154.4 L1308.8,3153.8 L1312.7,3153.2 L1316.7,3152.5 L1320.7,3151.9 L1324.6,3151.2 L1328.6,3150.5 L1332.6,3149.8 L1336.5,3149.1 L1340.5,3148.4 L1344.4,3147.7 L1348.3,3146.9 L1352.3,3146.1 L1356.2,3145.3 L1360.1,3144.5 L1364,3143.7 L1368,3142.9 L1371.9,3142 L1375.8,3141.2 L1379.7,3140.3 L1383.6,3139.4 L1387.5,3138.5 L1391.4,3137.6 L1395.3,3136.7 L1399.1,3135.8 L1403,3134.8 L1406.9,3133.9 L1410.8,3132.9 L1414.7,3131.9 L1418.5,3130.9 L1422.4,3129.9 L1426.3,3128.9 L1430.1,3127.9 L1434,3126.9 L1437.9,3125.8 L1441.7,3124.8 L1445.6,3123.7 L1449.4,3122.7 L1453.3,3121.6 L1457.1,3120.5 L1461,3119.4 L1464.8,3118.3 L1468.7,3117.2 L1472.5,3116.1 L1476.4,3115 L1480.2,3113.9 L1484.1,3112.8 L1487.9,3111.6 L1491.8,3110.5 L1495.6,3109.4 L1499.5,3108.2 L1503.3,3107.1 L1507.2,3105.9 L1511,3104.7 L1514.8,3103.6 L1518.7,3102.4 L1522.5,3101.2 L1526.4,3100.1 L1530.2,3098.9 L1534.1,3097.7 L1537.9,3096.5 L1541.8,3095.3 L1545.6,3094.1 L1549.5,3093 L1553.3,3091.8 L1557.2,3090.6 L1561,3089.4 L1564.9,3088.2 L1568.7,3087 L1572.6,3085.8 L1576.5,3084.6 L1580.3,3083.4 L1584.2,3082.2 L1588.1,3081 L1591.9,3079.8 L1595.8,3078.7 L1599.7,3077.5 L1603.5,3076.3 L1607.4,3075.1 L1611.3,3073.9 L1615.2,3072.8 L1619.1,3071.6 L1623,3070.4 L1626.9,3069.3 L1630.8,3068.1 L1634.7,3066.9 L1638.6,3065.8 L1642.5,3064.6 L1646.4,3063.5 L1650.3,3062.3 L1654.2,3061.1 L1658.1,3060 L1662,3058.8 L1665.9,3057.6 L1669.8,3056.4 L1673.7,3055.2 L1677.6,3054.1 L1681.5,3052.9 L1685.3,3051.6 L1689.2,3050.4 L1693.1,3049.2 L1697,3048 L1700.8,3046.7 L1704.7,3045.5 L1708.5,3044.2 L1712.4,3042.9 L1716.2,3041.6 L1720.1,3040.3 L1723.9,3038.9 L1727.7,3037.6 L1731.5,3036.2 L1735.3,3034.9 L1739.1,3033.5 L1742.8,3032 L1746.6,3030.6 L1750.4,3029.1 L1754.1,3027.7 L1757.8,3026.1 L1761.5,3024.6 L1765.2,3023.1 L1768.9,3021.5 L1772.6,3019.9 L1776.3,3018.3 L1779.9,3016.6 L1783.5,3014.9 L1787.2,3013.2 L1790.8,3011.5 L1794.3,3009.7 L1797.9,3007.9 L1801.4,3006.1 L1805,3004.2 L1808.5,3002.4 L1812,3000.4 L1815.4,2998.5 L1818.9,2996.5 L1822.3,2994.5 L1825.7,2992.4 L1829.1,2990.4 L1832.5,2988.3 L1835.8,2986.1 L1839.1,2983.9 L1842.4,2981.7 L1845.7,2979.5 L1848.9,2977.2 L1852.1,2974.9 L1855.3,2972.6 L1858.5,2970.2 L1861.6,2967.8 L1864.7,2965.4 L1867.8,2962.9 L1870.9,2960.4 L1873.9,2957.8 L1876.9,2955.3 L1879.9,2952.6 L1882.8,2950 L1885.7,2947.3 L1888.6,2944.6 L1891.4,2941.8 L1894.2,2939 L1897,2936.2 L1899.7,2933.3 L1902.4,2930.4 L1905.1,2927.5 L1907.7,2924.5 L1910.3,2921.5 L1912.9,2918.4 L1915.4,2915.3 L1917.9,2912.2 L1920.3,2909 L1922.7,2905.8 L1925.1,2902.6 L1927.5,2899.3 L1929.8,2896 L1932,2892.6 L1934.2,2889.3 L1936.4,2885.8 L1938.5,2882.4 L1940.6,2878.9 L1942.7,2875.3 L1944.7,2871.8 L1946.7,2868.2 L1948.6,2864.5 L1950.5,2860.8 L1952.3,2857.1 L1954.1,2853.4 L1955.9,2849.6 L1957.6,2845.8 L1959.3,2841.9 L1960.9,2838 L1962.5,2834.1 L1964,2830.2 L1965.5,2826.2 L1967,2822.2 L1968.4,2818.1 L1969.7,2814 L1972.1,2812.2 L1972.1,2811.1 L1987,2811.1 L1991.7,2797.9 L1996.5,2811.1 L2011.7,2811.1 L2011.7,2814.5 L2010.7,2818.1 L2009.4,2821.8 L2008.1,2825.6 L2006.7,2829.3 L2005.3,2833.1 L2003.9,2836.8 L2002.4,2840.5 L2000.9,2844.3 L1999.4,2848 L1997.8,2851.7 L1996.2,2855.5 L1994.6,2859.2 L1992.9,2862.9 L1991.2,2866.6 L1989.5,2870.3 L1987.7,2874 L1985.9,2877.7 L1984.1,2881.3 L1982.2,2885 L1980.3,2888.6 L1978.4,2892.2 L1976.4,2895.8 L1974.4,2899.4 L1972.4,2902.9 L1970.3,2906.5 L1968.2,2910 L1966.1,2913.5 L1963.9,2916.9 L1961.7,2920.4 L1959.4,2923.8 L1957.2,2927.1 L1954.8,2930.5 L1952.5,2933.8 L1950.1,2937.1 L1947.7,2940.4 L1945.2,2943.6 L1942.7,2946.8 L1940.2,2950 L1937.7,2953.1 L1935.1,2956.2 L1932.4,2959.2 L1929.8,2962.2 L1927.1,2965.2 L1924.3,2968.1 L1921.5,2970.9 L1918.7,2973.8 L1915.9,2976.6 L1913,2979.3 L1910.1,2982 L1907.1,2984.6 L1904.1,2987.2 L1901.1,2989.8 L1898,2992.3 L1895,2994.8 L1891.8,2997.2 L1888.7,2999.6 L1885.5,3002 L1882.3,3004.3 L1879.1,3006.5 L1875.8,3008.8 L1872.5,3011 L1869.2,3013.2 L1865.8,3015.3 L1862.5,3017.4 L1859.1,3019.4 L1855.7,3021.5 L1852.2,3023.5 L1848.8,3025.4 L1845.3,3027.4 L1841.8,3029.3 L1838.3,3031.2 L1834.8,3033 L1831.2,3034.8 L1827.6,3036.6 L1824.1,3038.4 L1820.5,3040.2 L1816.9,3041.9 L1813.2,3043.6 L1809.6,3045.3 L1805.9,3046.9 L1802.3,3048.6 L1798.6,3050.2 L1794.9,3051.8 L1791.2,3053.4 L1787.5,3055 L1783.8,3056.5 L1780.1,3058 L1776.3,3059.6 L1772.6,3061.1 L1768.9,3062.6 L1765.1,3064 L1761.4,3065.5 L1757.6,3067 L1753.9,3068.4 L1750.1,3069.8 L1746.3,3071.2 L1742.5,3072.6 L1738.8,3074 L1735,3075.4 L1731.2,3076.8 L1727.4,3078.1 L1723.6,3079.4 L1719.8,3080.8 L1716,3082.1 L1712.2,3083.4 L1708.3,3084.7 L1704.5,3086 L1700.7,3087.3 L1696.9,3088.6 L1693,3089.9 L1689.2,3091.1 L1685.4,3092.4 L1681.5,3093.6 L1677.7,3094.9 L1673.8,3096.1 L1670,3097.3 L1666.1,3098.5 L1662.3,3099.8 L1658.4,3101 L1654.6,3102.2 L1650.7,3103.4 L1646.9,3104.6 L1643,3105.8 L1639.1,3107 L1635.3,3108.1 L1631.4,3109.3 L1627.6,3110.5 L1623.7,3111.7 L1619.8,3112.9 L1616,3114 L1612.1,3115.2 L1608.2,3116.4 L1604.4,3117.5 L1600.5,3118.7 L1596.6,3119.9 L1592.8,3121.1 L1588.9,3122.2 L1585,3123.4 L1581.2,3124.6 L1577.3,3125.7 L1573.5,3126.9 L1569.6,3128.1 L1565.8,3129.3 L1561.9,3130.4 L1558,3131.6 L1554.2,3132.8 L1550.3,3134 L1546.5,3135.2 L1542.6,3136.3 L1538.8,3137.5 L1535,3138.7 L1531.1,3139.9 L1527.3,3141.1 L1523.4,3142.3 L1519.6,3143.4 L1515.7,3144.6 L1511.9,3145.8 L1508,3146.9 L1504.2,3148.1 L1500.4,3149.3 L1496.5,3150.4 L1492.7,3151.6 L1488.8,3152.7 L1485,3153.9 L1481.1,3155 L1477.3,3156.1 L1473.4,3157.2 L1469.6,3158.3 L1465.7,3159.4 L1461.9,3160.5 L1458,3161.6 L1454.2,3162.7 L1450.3,3163.8 L1446.5,3164.8 L1442.6,3165.9 L1438.7,3166.9 L1434.9,3167.9 L1431,3168.9 L1427.1,3169.9 L1423.2,3170.9 L1419.4,3171.9 L1415.5,3172.9 L1411.6,3173.8 L1407.7,3174.7 L1403.8,3175.7 L1399.9,3176.6 L1396,3177.5 L1392.1,3178.3 L1388.2,3179.2 L1384.3,3180 L1380.4,3180.9 L1376.5,3181.7 L1372.6,3182.5 L1368.7,3183.2 L1364.7,3184 L1360.8,3184.7 L1356.9,3185.4 L1352.9,3186.1 L1349,3186.8 L1345,3187.5 L1341.1,3188.1 L1337.1,3188.7 L1333.1,3189.3 L1329.2,3189.9 L1325.2,3190.4 L1321.2,3190.9 L1317.2,3191.4 L1313.2,3191.9 L1309.2,3192.4 L1305.2,3192.8 L1301.2,3193.2 L1297.2,3193.6 L1293.1,3193.9 L1289.1,3194.2 L1285.1,3194.5 L1281,3194.8 L1277,3195 L1272.9,3195.3 L1268.8,3195.4 L1264.7,3195.6 L1260.7,3195.7 L1256.6,3195.8 L1252.5,3195.9 L1248.3,3195.9 L1244.2,3195.9 L1240.1,3195.9 L1236,3195.9 L1231.8,3195.8 L1227.7,3195.7 L1223.5,3195.5 L1220,3197 Z"/>
<polygon points="544,3074.8 562,3105.8 526,3105.8" fill="#fff" stroke="#FF0000" stroke-width="4.5" stroke-linejoin="miter"/>
<polygon points="535,3089.5 553,3120.5 517,3120.5" fill="#fff" stroke="#FF0000" stroke-width="4.5" stroke-linejoin="miter"/>
<polygon points="526.5,3104.7 544.5,3135.7 508.5,3135.7" fill="#fff" stroke="#FF0000" stroke-width="4.5" stroke-linejoin="miter"/>
<polygon points="517.5,3114.5 535.5,3145.5 499.5,3145.5" fill="#fff" stroke="#FF0000" stroke-width="4.5" stroke-linejoin="miter"/>
<polygon points="508.9,3125.8 526.9,3156.8 490.9,3156.8" fill="#fff" stroke="#FF0000" stroke-width="4.5" stroke-linejoin="miter"/>
<polygon points="501,3136.5 519,3167.5 483,3167.5" fill="#fff" stroke="#FF0000" stroke-width="4.5" stroke-linejoin="miter"/>
<polygon points="493,3148.7 511,3179.7 475,3179.7" fill="#fff" stroke="#FF0000" stroke-width="4.5" stroke-linejoin="miter"/>
<polygon points="485,3163.5 503,3194.5 467,3194.5" fill="#fff" stroke="#FF0000" stroke-width="4.5" stroke-linejoin="miter"/>
<polygon points="477.2,3178.6 495.2,3209.6 459.2,3209.6" fill="#fff" stroke="#FF0000" stroke-width="4.5" stroke-linejoin="miter"/>
<polygon points="468.5,3192.5 486.5,3223.5 450.5,3223.5" fill="#fff" stroke="#FF0000" stroke-width="4.5" stroke-linejoin="miter"/>
<polygon points="459.6,3205 477.6,3236 441.6,3236" fill="#fff" stroke="#FF0000" stroke-width="4.5" stroke-linejoin="miter"/>
<polygon points="445.5,3217.3 463.5,3248.3 427.5,3248.3" fill="#fff" stroke="#FF0000" stroke-width="4.5" stroke-linejoin="miter"/>
<polygon points="431.5,3225.2 449.5,3256.2 413.5,3256.2" fill="#fff" stroke="#FF0000" stroke-width="4.5" stroke-linejoin="miter"/>
<polygon points="420.9,3230.5 438.9,3261.5 402.9,3261.5" fill="#fff" stroke="#FF0000" stroke-width="4.5" stroke-linejoin="miter"/>
<polygon points="398,3236.6 416,3267.6 380,3267.6" fill="#fff" stroke="#FF0000" stroke-width="4.5" stroke-linejoin="miter"/>
<polygon points="381.3,3239.3 399.3,3270.3 363.3,3270.3" fill="#fff" stroke="#FF0000" stroke-width="4.5" stroke-linejoin="miter"/>
<polygon points="344.4,3243.7 362.4,3274.7 326.4,3274.7" fill="#fff" stroke="#FF0000" stroke-width="4.5" stroke-linejoin="miter"/>
<polygon points="774,3008 794,3028 774,3048 754,3028" fill="#fff" stroke="#0000FF" stroke-width="4.5" stroke-linejoin="miter"/>
<polygon points="764,3010.5 784,3030.5 764,3050.5 744,3030.5" fill="#fff" stroke="#0000FF" stroke-width="4.5" stroke-linejoin="miter"/>
<polygon points="754,3013 774,3033 754,3053 734,3033" fill="#fff" stroke="#0000FF" stroke-width="4.5" stroke-linejoin="miter"/>
<polygon points="744,3015.5 764,3035.5 744,3055.5 724,3035.5" fill="#fff" stroke="#0000FF" stroke-width="4.5" stroke-linejoin="miter"/>
<polygon points="734,3018 754,3038 734,3058 714,3038" fill="#fff" stroke="#0000FF" stroke-width="4.5" stroke-linejoin="miter"/>
<polygon points="724,3020.5 744,3040.5 724,3060.5 704,3040.5" fill="#fff" stroke="#0000FF" stroke-width="4.5" stroke-linejoin="miter"/>
<polygon points="714,3023 734,3043 714,3063 694,3043" fill="#fff" stroke="#0000FF" stroke-width="4.5" stroke-linejoin="miter"/>
<polygon points="703.4,3025.5 723.4,3045.5 703.4,3065.5 683.4,3045.5" fill="#fff" stroke="#0000FF" stroke-width="4.5" stroke-linejoin="miter"/>
<polygon points="692.6,3026.9 712.6,3046.9 692.6,3066.9 672.6,3046.9" fill="#fff" stroke="#0000FF" stroke-width="4.5" stroke-linejoin="miter"/>
<polygon points="679.1,3029.6 699.1,3049.6 679.1,3069.6 659.1,3049.6" fill="#fff" stroke="#0000FF" stroke-width="4.5" stroke-linejoin="miter"/>
<polygon points="662.8,3032.3 682.8,3052.3 662.8,3072.3 642.8,3052.3" fill="#fff" stroke="#0000FF" stroke-width="4.5" stroke-linejoin="miter"/>
<polygon points="643.9,3035 663.9,3055 643.9,3075 623.9,3055" fill="#fff" stroke="#0000FF" stroke-width="4.5" stroke-linejoin="miter"/>
<polygon points="623.6,3037.7 643.6,3057.7 623.6,3077.7 603.6,3057.7" fill="#fff" stroke="#0000FF" stroke-width="4.5" stroke-linejoin="miter"/>
<polygon points="599.2,3040.4 619.2,3060.4 599.2,3080.4 579.2,3060.4" fill="#fff" stroke="#0000FF" stroke-width="4.5" stroke-linejoin="miter"/>
<polygon points="564.4,3044.6 584.4,3064.6 564.4,3084.6 544.4,3064.6" fill="#fff" stroke="#0000FF" stroke-width="4.5" stroke-linejoin="miter"/>
<polygon points="516.8,3045.5 536.8,3065.5 516.8,3085.5 496.8,3065.5" fill="#fff" stroke="#0000FF" stroke-width="4.5" stroke-linejoin="miter"/>
<polygon points="421.3,3047.3 441.3,3067.3 421.3,3087.3 401.3,3067.3" fill="#fff" stroke="#0000FF" stroke-width="4.5" stroke-linejoin="miter"/>
<polygon points="995,2981.5 995,3018.5 963,3000" fill="#fff" stroke="#000080" stroke-width="4.5" stroke-linejoin="miter"/>
<polygon points="986,2984.5 986,3021.5 954,3003" fill="#fff" stroke="#000080" stroke-width="4.5" stroke-linejoin="miter"/>
<polygon points="976,2987.5 976,3024.5 944,3006" fill="#fff" stroke="#000080" stroke-width="4.5" stroke-linejoin="miter"/>
<polygon points="966,2990.5 966,3027.5 934,3009" fill="#fff" stroke="#000080" stroke-width="4.5" stroke-linejoin="miter"/>
<polygon points="956,2993 956,3030 924,3011.5" fill="#fff" stroke="#000080" stroke-width="4.5" stroke-linejoin="miter"/>
<polygon points="945.5,2995.5 945.5,3032.5 913.5,3014" fill="#fff" stroke="#000080" stroke-width="4.5" stroke-linejoin="miter"/>
<polygon points="933.6,2998 933.6,3035 901.6,3016.5" fill="#fff" stroke="#000080" stroke-width="4.5" stroke-linejoin="miter"/>
<polygon points="921.8,3000.5 921.8,3037.5 889.8,3019" fill="#fff" stroke="#000080" stroke-width="4.5" stroke-linejoin="miter"/>
<polygon points="908.2,3003 908.2,3040 876.2,3021.5" fill="#fff" stroke="#000080" stroke-width="4.5" stroke-linejoin="miter"/>
<polygon points="893,3005.5 893,3042.5 861,3024" fill="#fff" stroke="#000080" stroke-width="4.5" stroke-linejoin="miter"/>
<polygon points="877.4,3007.5 877.4,3044.5 845.4,3026" fill="#fff" stroke="#000080" stroke-width="4.5" stroke-linejoin="miter"/>
<polygon points="858.4,3010.5 858.4,3047.5 826.4,3029" fill="#fff" stroke="#000080" stroke-width="4.5" stroke-linejoin="miter"/>
<polygon points="836.8,3012.5 836.8,3049.5 804.8,3031" fill="#fff" stroke="#000080" stroke-width="4.5" stroke-linejoin="miter"/>
<polygon points="808.3,3017.5 808.3,3054.5 776.3,3036" fill="#fff" stroke="#000080" stroke-width="4.5" stroke-linejoin="miter"/>
<polygon points="773.2,3020.3 773.2,3057.3 741.2,3038.8" fill="#fff" stroke="#000080" stroke-width="4.5" stroke-linejoin="miter"/>
<polygon points="716.3,3021.6 716.3,3058.6 684.3,3040.1" fill="#fff" stroke="#000080" stroke-width="4.5" stroke-linejoin="miter"/>
<polygon points="571.3,3024.2 571.3,3061.2 539.3,3042.7" fill="#fff" stroke="#000080" stroke-width="4.5" stroke-linejoin="miter"/>
<polygon points="1039.1,2966.5 1039.1,3003.5 1071.1,2985" fill="#fff" stroke="#FF00FF" stroke-width="4.5" stroke-linejoin="miter"/>
<polygon points="1023.9,2968.5 1023.9,3005.5 1055.9,2987" fill="#fff" stroke="#FF00FF" stroke-width="4.5" stroke-linejoin="miter"/>
<polygon points="1005.3,2970.5 1005.3,3007.5 1037.3,2989" fill="#fff" stroke="#FF00FF" stroke-width="4.5" stroke-linejoin="miter"/>
<polygon points="979.9,2973.1 979.9,3010.1 1011.9,2991.6" fill="#fff" stroke="#FF00FF" stroke-width="4.5" stroke-linejoin="miter"/>
<polygon points="942.7,2975.5 942.7,3012.5 974.7,2994" fill="#fff" stroke="#FF00FF" stroke-width="4.5" stroke-linejoin="miter"/>
<polygon points="893.5,2978 893.5,3015 925.5,2996.5" fill="#fff" stroke="#FF00FF" stroke-width="4.5" stroke-linejoin="miter"/>
<polygon points="758.4,2981 758.4,3018 790.4,2999.5" fill="#fff" stroke="#FF00FF" stroke-width="4.5" stroke-linejoin="miter"/>
<polygon points="1042.2,3131.5 1027,3140.2 1027,3157.8 1042.2,3166.5 1057.4,3157.8 1057.4,3140.2" fill="#fff" stroke="#FF8000" stroke-width="4" stroke-linejoin="miter"/>
<polygon points="1028.6,3133.1 1013.4,3141.8 1013.4,3159.3 1028.6,3168.1 1043.8,3159.3 1043.8,3141.8" fill="#fff" stroke="#FF8000" stroke-width="4" stroke-linejoin="miter"/>
<polygon points="1013.4,3134.8 998.2,3143.6 998.2,3161.1 1013.4,3169.8 1028.6,3161.1 1028.6,3143.6" fill="#fff" stroke="#FF8000" stroke-width="4" stroke-linejoin="miter"/>
<polygon points="996.5,3136.5 981.3,3145.2 981.3,3162.8 996.5,3171.5 1011.7,3162.8 1011.7,3145.2" fill="#fff" stroke="#FF8000" stroke-width="4" stroke-linejoin="miter"/>
<polygon points="979.6,3138.2 964.4,3146.9 964.4,3164.4 979.6,3173.2 994.8,3164.4 994.8,3146.9" fill="#fff" stroke="#FF8000" stroke-width="4" stroke-linejoin="miter"/>
<polygon points="959.3,3139.9 944.1,3148.7 944.1,3166.2 959.3,3174.9 974.5,3166.2 974.5,3148.7" fill="#fff" stroke="#FF8000" stroke-width="4" stroke-linejoin="miter"/>
<polygon points="935.6,3141.6 920.4,3150.3 920.4,3167.8 935.6,3176.6 950.8,3167.8 950.8,3150.3" fill="#fff" stroke="#FF8000" stroke-width="4" stroke-linejoin="miter"/>
<polygon points="905.2,3142.6 890,3151.3 890,3168.8 905.2,3177.6 920.4,3168.8 920.4,3151.3" fill="#fff" stroke="#FF8000" stroke-width="4" stroke-linejoin="miter"/>
<polygon points="860.2,3143.3 845,3152.1 845,3169.6 860.2,3178.3 875.4,3169.6 875.4,3152.1" fill="#fff" stroke="#FF8000" stroke-width="4" stroke-linejoin="miter"/>
<polygon points="804.4,3146 789.2,3154.8 789.2,3172.2 804.4,3181 819.6,3172.2 819.6,3154.8" fill="#fff" stroke="#FF8000" stroke-width="4" stroke-linejoin="miter"/>
<polygon points="343,3146.5 327.8,3155.2 327.8,3172.8 343,3181.5 358.2,3172.8 358.2,3155.2" fill="#fff" stroke="#FF8000" stroke-width="4" stroke-linejoin="miter"/>
<polygon points="1330,3150.5 1325.6,3161.9 1313.4,3162.6 1322.9,3170.3 1319.7,3182.2 1330,3175.5 1340.3,3182.2 1337.1,3170.3 1346.6,3162.6 1334.4,3161.9" fill="#fff" stroke="#800000" stroke-width="4" stroke-linejoin="miter"/>
<polygon points="1320,3151.5 1315.6,3162.9 1303.4,3163.6 1312.9,3171.3 1309.7,3183.2 1320,3176.5 1330.3,3183.2 1327.1,3171.3 1336.6,3163.6 1324.4,3162.9" fill="#fff" stroke="#800000" stroke-width="4" stroke-linejoin="miter"/>
<polygon points="1310,3152.5 1305.6,3163.9 1293.4,3164.6 1302.9,3172.3 1299.7,3184.2 1310,3177.5 1320.3,3184.2 1317.1,3172.3 1326.6,3164.6 1314.4,3163.9" fill="#fff" stroke="#800000" stroke-width="4" stroke-linejoin="miter"/>
<polygon points="1300,3153.5 1295.6,3164.9 1283.4,3165.6 1292.9,3173.3 1289.7,3185.2 1300,3178.5 1310.3,3185.2 1307.1,3173.3 1316.6,3165.6 1304.4,3164.9" fill="#fff" stroke="#800000" stroke-width="4" stroke-linejoin="miter"/>
<polygon points="1290,3154.5 1285.6,3165.9 1273.4,3166.6 1282.9,3174.3 1279.7,3186.2 1290,3179.5 1300.3,3186.2 1297.1,3174.3 1306.6,3166.6 1294.4,3165.9" fill="#fff" stroke="#800000" stroke-width="4" stroke-linejoin="miter"/>
<polygon points="1279,3155.5 1274.6,3166.9 1262.4,3167.6 1271.9,3175.3 1268.7,3187.2 1279,3180.5 1289.3,3187.2 1286.1,3175.3 1295.6,3167.6 1283.4,3166.9" fill="#fff" stroke="#800000" stroke-width="4" stroke-linejoin="miter"/>
<polygon points="1268,3156.5 1263.6,3167.9 1251.4,3168.6 1260.9,3176.3 1257.7,3188.2 1268,3181.5 1278.3,3188.2 1275.1,3176.3 1284.6,3168.6 1272.4,3167.9" fill="#fff" stroke="#800000" stroke-width="4" stroke-linejoin="miter"/>
<polygon points="1256,3157.5 1251.6,3168.9 1239.4,3169.6 1248.9,3177.3 1245.7,3189.2 1256,3182.5 1266.3,3189.2 1263.1,3177.3 1272.6,3169.6 1260.4,3168.9" fill="#fff" stroke="#800000" stroke-width="4" stroke-linejoin="miter"/>
<polygon points="1243,3158.5 1238.6,3169.9 1226.4,3170.6 1235.9,3178.3 1232.7,3190.2 1243,3183.5 1253.3,3190.2 1250.1,3178.3 1259.6,3170.6 1247.4,3169.9" fill="#fff" stroke="#800000" stroke-width="4" stroke-linejoin="miter"/>
<polygon points="1229,3159.5 1224.6,3170.9 1212.4,3171.6 1221.9,3179.3 1218.7,3191.2 1229,3184.5 1239.3,3191.2 1236.1,3179.3 1245.6,3171.6 1233.4,3170.9" fill="#fff" stroke="#800000" stroke-width="4" stroke-linejoin="miter"/>
<polygon points="1214,3160.5 1209.6,3171.9 1197.4,3172.6 1206.9,3180.3 1203.7,3192.2 1214,3185.5 1224.3,3192.2 1221.1,3180.3 1230.6,3172.6 1218.4,3171.9" fill="#fff" stroke="#800000" stroke-width="4" stroke-linejoin="miter"/>
<polygon points="1197.8,3161.9 1193.4,3173.3 1181.2,3174 1190.7,3181.7 1187.5,3193.6 1197.8,3186.9 1208.1,3193.6 1204.9,3181.7 1214.4,3174 1202.2,3173.3" fill="#fff" stroke="#800000" stroke-width="4" stroke-linejoin="miter"/>
<polygon points="1179.2,3163.6 1174.8,3175 1162.6,3175.7 1172.1,3183.4 1168.9,3195.3 1179.2,3188.6 1189.5,3195.3 1186.3,3183.4 1195.8,3175.7 1183.6,3175" fill="#fff" stroke="#800000" stroke-width="4" stroke-linejoin="miter"/>
<polygon points="1158.9,3165.3 1154.5,3176.7 1142.3,3177.4 1151.8,3185.1 1148.6,3197 1158.9,3190.3 1169.2,3197 1166,3185.1 1175.5,3177.4 1163.3,3176.7" fill="#fff" stroke="#800000" stroke-width="4" stroke-linejoin="miter"/>
<polygon points="1131.8,3167 1127.4,3178.4 1115.2,3179.1 1124.7,3186.8 1121.5,3198.7 1131.8,3192 1142.1,3198.7 1138.9,3186.8 1148.4,3179.1 1136.2,3178.4" fill="#fff" stroke="#800000" stroke-width="4" stroke-linejoin="miter"/>
<polygon points="1087.8,3168.7 1083.4,3180.1 1071.2,3180.8 1080.7,3188.5 1077.5,3200.4 1087.8,3193.7 1098.1,3200.4 1094.9,3188.5 1104.4,3180.8 1092.2,3180.1" fill="#fff" stroke="#800000" stroke-width="4" stroke-linejoin="miter"/>
<polygon points="1032,3168.7 1027.6,3180.1 1015.4,3180.8 1024.9,3188.5 1021.7,3200.4 1032,3193.7 1042.3,3200.4 1039.1,3188.5 1048.6,3180.8 1036.4,3180.1" fill="#fff" stroke="#800000" stroke-width="4" stroke-linejoin="miter"/>
<circle cx="379" cy="3162.8" r="16" fill="#fff" stroke="#000000" stroke-width="4.5"/>
<circle cx="1989.5" cy="3174.4" r="16.5" fill="#fff" stroke="#000000" stroke-width="4.5"/>
</g>
<g stroke="#000" fill="none">
<line x1="341.5" y1="1903" x2="341.5" y2="3288" stroke-width="10.5"/>
<line x1="336.5" y1="3283" x2="2036.5" y2="3283" stroke-width="10.4"/>
<line x1="341" y1="1906" x2="2036.5" y2="1906" stroke-width="5.7"/>
<line x1="2033.3" y1="1903.2" x2="2033.3" y2="3286" stroke-width="6"/>
</g>
<g stroke="#000" stroke-linecap="round" stroke-width="10">
<line x1="316" y1="3283" x2="341" y2="3283"/>
<line x1="316" y1="3053.5" x2="341" y2="3053.5"/>
<line x1="316" y1="2824" x2="341" y2="2824"/>
<line x1="316" y1="2594.5" x2="341" y2="2594.5"/>
<line x1="316" y1="2365" x2="341" y2="2365"/>
<line x1="316" y1="2135.5" x2="341" y2="2135.5"/>
<line x1="316" y1="1906" x2="341" y2="1906"/>
<line x1="328.5" y1="3168.2" x2="341" y2="3168.2"/>
<line x1="328.5" y1="2938.8" x2="341" y2="2938.8"/>
<line x1="328.5" y1="2709.2" x2="341" y2="2709.2"/>
<line x1="328.5" y1="2479.8" x2="341" y2="2479.8"/>
<line x1="328.5" y1="2250.2" x2="341" y2="2250.2"/>
<line x1="328.5" y1="2020.8" x2="341" y2="2020.8"/>
<line x1="341.5" y1="3283" x2="341.5" y2="3308"/>
<line x1="566.9" y1="3283" x2="566.9" y2="3308"/>
<line x1="792.4" y1="3283" x2="792.4" y2="3308"/>
<line x1="1017.8" y1="3283" x2="1017.8" y2="3308"/>
<line x1="1243.2" y1="3283" x2="1243.2" y2="3308"/>
<line x1="1468.7" y1="3283" x2="1468.7" y2="3308"/>
<line x1="1694.1" y1="3283" x2="1694.1" y2="3308"/>
<line x1="1919.5" y1="3283" x2="1919.5" y2="3308"/>
<line x1="454.2" y1="3283" x2="454.2" y2="3295.5"/>
<line x1="679.6" y1="3283" x2="679.6" y2="3295.5"/>
<line x1="905.1" y1="3283" x2="905.1" y2="3295.5"/>
<line x1="1130.5" y1="3283" x2="1130.5" y2="3295.5"/>
<line x1="1355.9" y1="3283" x2="1355.9" y2="3295.5"/>
<line x1="1581.4" y1="3283" x2="1581.4" y2="3295.5"/>
<line x1="1806.8" y1="3283" x2="1806.8" y2="3295.5"/>
<line x1="2032.2" y1="3283" x2="2032.2" y2="3295.5"/>
</g>
<g stroke="#000" stroke-linecap="round" stroke-width="5.7">
<line x1="1187" y1="1906.5" x2="1187" y2="1918.5"/>
<line x1="2019.6" y1="2594.5" x2="2032" y2="2594.5"/>
</g>
<g font-family="'Liberation Sans', Arial, sans-serif" font-size="65" font-weight="bold">
<text transform="translate(1226,2163.3) scale(1,1.03)" fill="#000000">1</text>
<text transform="translate(1353.9,2201.2) scale(1,1.03)" fill="#FF0000">2</text>
<text transform="translate(1303.3,2440) scale(1,1.03)" fill="#008000">3</text>
<text transform="translate(1561.5,2232.5) scale(1,1.03)" fill="#0000FF">4</text>
<text transform="translate(1657.2,2188.3) scale(1,1.03)" fill="#000080">5</text>
<text transform="translate(1769.2,2649.5) scale(1,1.03)" fill="#FF8000">7</text>
<text transform="translate(1984.8,2776.6) scale(1,1.03)" fill="#800000">8</text>
</g>
<text transform="translate(505.2,2893.5) rotate(-62.21)" font-family="'Liberation Sans', Arial, sans-serif" font-size="45.0" font-weight="bold" fill="#000000">372 mV dec<tspan font-size="25.2" dx="-1.4" dy="-29.3">-1</tspan></text>
<text transform="translate(837.8,2466.4) rotate(-37.66)" font-family="'Liberation Sans', Arial, sans-serif" font-size="44.3" font-weight="bold" fill="#000000">146 mV dec<tspan font-size="24.8" dx="-1.3" dy="-28.8">-1</tspan></text>
<text transform="translate(767.5,2729.9) rotate(-42.14)" font-family="'Liberation Sans', Arial, sans-serif" font-size="44.0" font-weight="bold" fill="#FF0000">159 mV dec<tspan font-size="24.6" dx="-1.3" dy="-28.6">-1</tspan></text>
<text transform="translate(677.4,3021.5) rotate(-52.15)" font-family="'Liberation Sans', Arial, sans-serif" font-size="43.9" font-weight="bold" fill="#FF0000">305 mV dec<tspan font-size="24.6" dx="-1.3" dy="-28.6">-1</tspan></text>
<text transform="translate(1164.2,2505.2) rotate(-51.35)" font-family="'Liberation Sans', Arial, sans-serif" font-size="42.8" font-weight="bold" fill="#FF0000">270 mV dec<tspan font-size="24.0" dx="-1.3" dy="-27.8">-1</tspan></text>
<text transform="translate(943.4,2801.1) rotate(-39.24)" font-family="'Liberation Sans', Arial, sans-serif" font-size="44.3" font-weight="bold" fill="#008000">168 mV dec<tspan font-size="24.8" dx="-1.3" dy="-28.8">-1</tspan></text>
<text transform="translate(1029.9,2957.8) rotate(-39.79)" font-family="'Liberation Sans', Arial, sans-serif" font-size="44.6" font-weight="bold" fill="#0000FF">167 mV dec<tspan font-size="25.0" dx="-1.3" dy="-29.0">-1</tspan></text>
<text transform="translate(1306.6,2726.7) rotate(-39.42)" font-family="'Liberation Sans', Arial, sans-serif" font-size="44.1" font-weight="bold" fill="#000080">165 mV dec<tspan font-size="24.7" dx="-1.3" dy="-28.7">-1</tspan></text>
<text transform="translate(1485.3,2853.5) rotate(-41.47)" font-family="'Liberation Sans', Arial, sans-serif" font-size="44.4" font-weight="bold" fill="#FF00FF">163 mV dec<tspan font-size="24.9" dx="-1.3" dy="-28.9">-1</tspan></text>
<text transform="translate(1371.4,3103.9) rotate(-32.86)" font-family="'Liberation Sans', Arial, sans-serif" font-size="44.4" font-weight="bold" fill="#FF8000">124 mV dec<tspan font-size="24.8" dx="-1.3" dy="-28.8">-1</tspan></text>
<text transform="translate(1532.7,3224.1) rotate(-16.54)" font-family="'Liberation Sans', Arial, sans-serif" font-size="45.5" font-weight="bold" fill="#800000">63 mV dec<tspan font-size="25.5" dx="-1.4" dy="-29.6">-1</tspan></text>
</svg>
</body></html>
